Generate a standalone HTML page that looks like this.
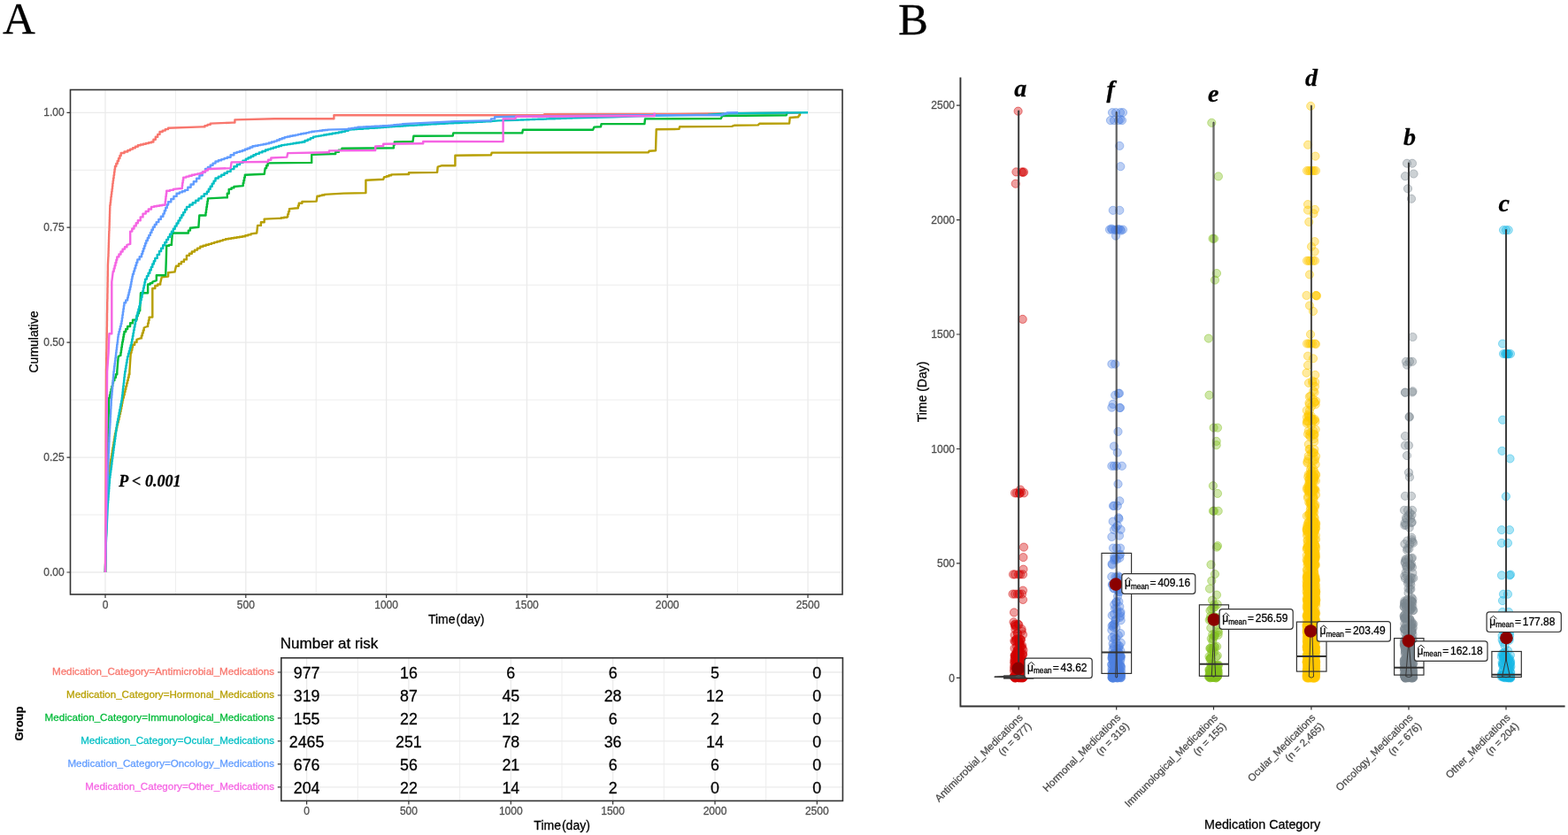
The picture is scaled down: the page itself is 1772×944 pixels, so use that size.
<!DOCTYPE html>
<html><head><meta charset="utf-8"><title>Figure</title>
<style>html,body{margin:0;padding:0;background:#fff;}svg{display:block;font-family:'Liberation Sans', Arial, Helvetica, sans-serif;} text{paint-order:stroke;stroke-width:0.28px;stroke-linejoin:round;}</style></head>
<body><svg width="1772" height="944" viewBox="0 0 1772 944">
<rect width="1772" height="944" fill="#fff"/>
<rect x="79.5" y="101.5" width="872.5" height="570.5" fill="#fff"/>
<path d="M198.4 101.5V672.0M357.2 101.5V672.0M516.0 101.5V672.0M674.8 101.5V672.0M833.6 101.5V672.0M79.5 582.0H952.0M79.5 452.1H952.0M79.5 322.2H952.0M79.5 192.3H952.0" stroke="#ebebeb" stroke-width="0.9" fill="none"/>
<path d="M119.0 101.5V672.0M277.8 101.5V672.0M436.6 101.5V672.0M595.4 101.5V672.0M754.2 101.5V672.0M913.0 101.5V672.0M79.5 647.0H952.0M79.5 517.1H952.0M79.5 387.1H952.0M79.5 257.2H952.0M79.5 127.3H952.0" stroke="#ebebeb" stroke-width="1.3" fill="none"/>
<path d="M119.0 647.0 L119.3 600.0 L119.6 500.0 L120.0 420.0 L120.0 420.0 L120.0 416.8 L120.1 416.8 L120.1 413.7 L120.2 413.7 L120.2 410.5 L120.2 410.5 L120.2 407.4 L120.2 407.4 L120.2 404.2 L120.3 404.2 L120.3 401.1 L120.3 401.1 L120.3 397.9 L120.4 397.9 L120.4 394.7 L120.5 394.7 L120.5 391.6 L120.5 391.6 L120.5 388.4 L120.5 388.4 L120.5 385.3 L120.6 385.3 L120.6 382.1 L120.7 382.1 L120.7 378.9 L120.7 378.9 L120.7 375.8 L120.8 375.8 L120.8 372.6 L120.8 372.6 L120.8 369.5 L120.9 369.5 L120.9 366.3 L120.9 366.3 L120.9 363.2 L121.0 363.2 L121.0 360.0 L121.0 360.0 L121.0 356.8 L121.0 356.8 L121.0 353.7 L121.1 353.7 L121.1 350.5 L121.2 350.5 L121.2 347.4 L121.2 347.4 L121.2 344.2 L121.2 344.2 L121.2 341.1 L121.3 341.1 L121.3 337.9 L121.4 337.9 L121.4 334.7 L121.4 334.7 L121.4 331.6 L121.5 331.6 L121.5 328.4 L121.5 328.4 L121.5 325.3 L121.6 325.3 L121.6 322.1 L121.6 322.1 L121.6 318.9 L121.7 318.9 L121.7 315.8 L121.7 315.8 L121.7 312.6 L121.8 312.6 L121.8 309.5 L121.8 309.5 L121.8 306.3 L121.9 306.3 L121.9 303.2 L121.9 303.2 L121.9 300.0 L122.4 290.0 L122.5 290.0 L122.5 286.8 L122.6 286.8 L122.6 283.6 L122.7 283.6 L122.7 280.3 L122.8 280.3 L122.8 277.1 L122.9 277.1 L122.9 273.9 L123.0 273.9 L123.0 270.7 L123.1 270.7 L123.1 267.4 L123.2 267.4 L123.2 264.2 L123.3 264.2 L123.3 261.0 L123.5 261.0 L123.5 257.8 L123.6 257.8 L123.6 254.6 L123.7 254.6 L123.7 251.3 L123.8 251.3 L123.8 248.1 L123.9 248.1 L123.9 244.9 L124.0 244.9 L124.0 241.7 L124.1 241.7 L124.1 238.4 L124.2 238.4 L124.2 235.2 L124.3 235.2 L124.3 232.0 L124.7 232.0 L124.7 228.9 L125.1 228.9 L125.1 225.9 L125.4 225.9 L125.4 222.8 L125.8 222.8 L125.8 219.8 L126.2 219.8 L126.2 216.8 L126.6 216.8 L126.6 213.7 L127.0 213.7 L127.0 210.7 L127.3 210.7 L127.3 207.6 L127.7 207.6 L127.7 204.6 L128.1 204.6 L128.1 201.5 L128.6 201.5 L128.6 198.1 L129.1 198.1 L129.1 194.8 L129.5 194.8 L129.5 191.4 L130.0 191.4 L130.0 188.0 L131.3 188.0 L131.3 185.0 L132.7 185.0 L132.7 182.0 L134.0 182.0 L134.0 179.0 L135.4 179.0 L135.4 176.0 L136.7 176.0 L136.7 173.0 L140.5 173.0 L140.5 171.5 L144.3 171.5 L144.3 170.0 L147.2 170.0 L147.2 168.6 L150.1 168.6 L150.1 167.2 L152.9 167.2 L152.9 165.7 L155.8 165.7 L155.8 164.3 L158.8 164.3 L158.8 163.5 L161.9 163.5 L161.9 162.8 L164.9 162.8 L164.9 162.0 L168.0 162.0 L168.0 161.3 L171.0 161.3 L171.0 160.5 L173.4 160.5 L173.4 157.7 L175.8 157.7 L175.8 154.8 L178.2 154.8 L178.2 151.9 L180.5 151.9 L180.5 149.0 L183.7 149.0 L183.7 147.6 L186.8 147.6 L186.8 146.1 L190.0 146.1 L190.0 144.7 L228.2 143.4 L231.4 143.4 L231.4 142.1 L234.5 142.1 L234.5 140.9 L237.7 140.9 L237.7 139.6 L262.5 138.6 L265.4 138.6 L265.4 135.4 L310.0 134.2 L374.7 134.2 L377.4 134.2 L377.4 130.3 L614.0 130.3 L615.0 129.3 L760.0 129.0 L820.0 128.3 L905.0 127.5" stroke="#F8766D" stroke-width="2.4" fill="none" stroke-linejoin="round"/>
<path d="M119.0 647.0 L119.5 620.0 L120.0 600.0 L121.0 560.0 L121.2 560.0 L121.2 556.7 L121.4 556.7 L121.4 553.3 L121.7 553.3 L121.7 550.0 L121.9 550.0 L121.9 546.7 L122.1 546.7 L122.1 543.3 L122.3 543.3 L122.3 540.0 L122.6 540.0 L122.6 536.7 L122.8 536.7 L122.8 533.3 L123.0 533.3 L123.0 530.0 L123.7 530.0 L123.7 526.5 L124.5 526.5 L124.5 522.9 L125.2 522.9 L125.2 519.3 L125.9 519.3 L125.9 515.8 L126.4 515.8 L126.4 512.6 L126.9 512.6 L126.9 509.3 L127.4 509.3 L127.4 506.1 L128.0 506.1 L128.0 502.9 L128.5 502.9 L128.5 499.7 L129.0 499.7 L129.0 496.4 L129.5 496.4 L129.5 493.2 L130.0 493.2 L130.0 490.0 L130.8 490.0 L130.8 486.9 L131.5 486.9 L131.5 483.8 L132.2 483.8 L132.2 480.6 L133.0 480.6 L133.0 477.5 L133.8 477.5 L133.8 474.4 L134.5 474.4 L134.5 471.2 L135.2 471.2 L135.2 468.1 L136.0 468.1 L136.0 465.0 L136.6 465.0 L136.6 461.9 L137.2 461.9 L137.2 458.9 L137.8 458.9 L137.8 455.8 L138.4 455.8 L138.4 452.8 L139.0 452.8 L139.0 449.7 L139.8 449.7 L139.8 446.4 L140.7 446.4 L140.7 443.1 L141.5 443.1 L141.5 439.9 L142.3 439.9 L142.3 436.6 L143.2 436.6 L143.2 433.3 L144.0 433.3 L144.0 430.0 L144.8 430.0 L144.8 426.7 L145.6 426.7 L145.6 423.3 L146.4 423.3 L146.4 420.0 L147.8 398.7 L148.5 398.7 L148.5 395.7 L149.3 395.7 L149.3 392.8 L150.0 392.8 L150.0 389.8 L152.2 389.8 L152.2 386.9 L154.5 386.9 L154.5 383.9 L159.0 382.4 L159.9 382.4 L159.9 379.4 L160.8 379.4 L160.8 376.4 L161.8 376.4 L161.8 373.5 L162.7 373.5 L162.7 370.5 L166.4 369.0 L167.1 369.0 L167.1 365.5 L167.9 365.5 L167.9 362.1 L168.6 362.1 L168.6 358.6 L172.3 358.6 L172.3 355.7 L172.3 326.0 L175.3 326.0 L175.3 323.0 L178.2 323.0 L178.2 321.5 L181.2 321.5 L181.2 320.0 L182.7 313.4 L190.1 312.6 L190.1 308.2 L197.5 307.4 L199.0 300.8 L202.0 300.8 L202.0 298.3 L204.9 298.3 L204.9 295.9 L207.9 295.9 L207.9 293.4 L210.9 293.4 L210.9 288.9 L213.9 288.9 L213.9 286.7 L216.8 286.7 L216.8 284.5 L220.0 284.5 L220.0 282.6 L223.1 282.6 L223.1 280.6 L226.3 280.6 L226.3 278.7 L229.5 278.7 L229.5 277.8 L232.7 277.8 L232.7 276.8 L235.9 276.8 L235.9 275.9 L239.0 275.9 L239.0 274.9 L242.2 274.9 L242.2 273.9 L245.4 273.9 L245.4 273.0 L248.6 273.0 L248.6 272.1 L251.7 272.1 L251.7 271.1 L254.9 271.1 L254.9 270.2 L258.1 270.2 L258.1 269.7 L261.3 269.7 L261.3 269.2 L264.4 269.2 L264.4 268.8 L267.6 268.8 L267.6 268.3 L270.8 268.3 L270.8 267.8 L274.0 267.8 L274.0 267.3 L277.2 267.3 L277.2 266.3 L280.3 266.3 L280.3 265.4 L283.5 265.4 L283.5 264.4 L290.2 263.5 L291.1 254.9 L294.9 254.9 L294.9 251.2 L298.7 251.2 L298.7 247.6 L314.4 246.9 L317.7 246.9 L317.7 246.3 L321.0 246.3 L321.0 245.7 L324.3 245.7 L324.3 245.1 L325.2 245.1 L325.2 242.1 L326.1 242.1 L326.1 239.1 L327.0 239.1 L327.0 236.1 L336.0 235.2 L336.9 235.2 L336.9 232.5 L337.8 232.5 L337.8 229.8 L341.4 229.8 L341.4 228.0 L357.6 227.6 L358.5 221.7 L361.2 221.7 L361.2 221.1 L363.9 221.1 L363.9 220.5 L366.6 220.5 L366.6 219.9 L388.2 218.6 L413.4 218.1 L413.4 203.7 L433.2 202.8 L434.1 200.1 L436.8 200.1 L436.8 199.2 L439.5 199.2 L439.5 198.3 L442.2 198.3 L442.2 197.4 L460.2 197.0 L462.0 197.0 L462.0 195.2 L494.1 194.9 L494.7 188.6 L499.5 187.2 L511.7 187.2 L514.4 187.2 L514.4 184.5 L514.4 175.7 L555.0 175.3 L555.7 172.6 L732.9 172.3 L733.5 170.7 L741.0 170.3 L741.7 146.3 L767.4 145.9 L768.1 143.2 L827.0 142.9 L829.7 141.8 L856.8 141.4 L858.2 139.8 L892.0 139.5 L892.7 133.0 L902.2 132.3 L902.9 130.5 L903.8 130.3 L904.3 127.4" stroke="#B79F00" stroke-width="2.4" fill="none" stroke-linejoin="round"/>
<path d="M119.0 647.0 L119.5 620.0 L120.0 600.0 L121.0 560.0 L122.0 500.0 L123.2 449.7 L124.0 449.7 L124.0 446.4 L124.8 446.4 L124.8 443.1 L125.6 443.1 L125.6 439.9 L126.4 439.9 L126.4 436.6 L127.2 436.6 L127.2 433.3 L128.0 433.3 L128.0 430.0 L129.4 430.0 L129.4 426.7 L130.9 426.7 L130.9 423.3 L132.3 423.3 L132.3 420.0 L133.7 403.1 L136.0 401.7 L136.4 401.7 L136.4 398.7 L136.9 398.7 L136.9 395.7 L137.3 395.7 L137.3 392.8 L137.8 392.8 L137.8 389.8 L138.2 389.8 L138.2 386.8 L138.8 386.8 L138.8 383.9 L139.3 383.9 L139.3 380.9 L139.8 380.9 L139.8 377.9 L140.4 377.9 L140.4 375.0 L142.2 375.0 L142.2 372.0 L144.1 372.0 L144.1 369.0 L147.1 369.0 L147.1 365.3 L150.0 365.3 L150.0 361.6 L154.5 361.6 L154.5 357.2 L155.7 357.2 L155.7 354.2 L157.0 354.2 L157.0 351.2 L158.2 351.2 L158.2 348.2 L159.0 331.2 L167.1 331.2 L167.1 321.5 L169.7 321.5 L169.7 320.1 L172.3 320.1 L172.3 318.6 L176.8 317.1 L176.8 311.2 L187.2 311.2 L187.9 290.0 L188.2 277.8 L191.1 277.8 L191.1 276.9 L193.9 276.9 L193.9 275.9 L194.8 263.5 L211.0 263.5 L212.9 263.5 L212.9 260.6 L214.9 260.6 L214.9 257.8 L224.4 256.8 L225.3 243.5 L232.0 243.5 L232.5 243.5 L232.5 240.3 L233.0 240.3 L233.0 237.1 L233.4 237.1 L233.4 233.9 L233.9 233.9 L233.9 230.8 L234.4 230.8 L234.4 227.6 L234.9 227.6 L234.9 224.4 L253.9 223.4 L256.8 223.4 L256.8 218.7 L258.7 218.7 L258.7 213.9 L261.5 213.9 L261.5 212.4 L264.4 212.4 L264.4 211.0 L274.0 210.1 L274.7 210.1 L274.7 207.0 L275.4 207.0 L275.4 203.9 L276.1 203.9 L276.1 200.8 L276.8 200.8 L276.8 197.7 L298.7 196.7 L299.7 190.1 L301.1 190.1 L301.1 187.2 L302.6 187.2 L302.6 184.4 L352.2 183.9 L352.2 174.9 L375.6 174.0 L379.2 174.0 L379.2 171.9 L382.8 171.9 L382.8 169.8 L386.4 169.8 L386.4 167.7 L444.0 167.2 L444.9 167.2 L444.9 163.8 L445.8 163.8 L445.8 160.5 L466.5 160.0 L467.4 153.8 L511.7 153.6 L512.3 150.4 L590.2 150.4 L590.9 146.8 L670.1 146.8 L671.5 143.6 L679.0 143.2 L679.6 140.1 L728.4 140.1 L729.0 134.4 L814.8 134.1 L816.2 131.0 L888.6 130.3 L889.5 127.5 L890.5 127.3" stroke="#00BA38" stroke-width="2.4" fill="none" stroke-linejoin="round"/>
<path d="M119.0 647.0 L119.5 620.0 L120.5 600.0 L121.9 568.7 L122.1 568.7 L122.1 565.5 L122.4 565.5 L122.4 562.3 L122.6 562.3 L122.6 559.1 L122.8 559.1 L122.8 555.9 L123.1 555.9 L123.1 552.8 L123.3 552.8 L123.3 549.6 L123.5 549.6 L123.5 546.4 L123.8 546.4 L123.8 543.2 L124.0 543.2 L124.0 540.0 L124.4 540.0 L124.4 537.0 L124.8 537.0 L124.8 534.0 L125.2 534.0 L125.2 530.9 L125.6 530.9 L125.6 527.9 L126.0 527.9 L126.0 524.9 L126.4 524.9 L126.4 521.8 L126.8 521.8 L126.8 518.8 L127.2 518.8 L127.2 515.8 L127.6 515.8 L127.6 512.5 L128.1 512.5 L128.1 509.3 L128.5 509.3 L128.5 506.0 L128.9 506.0 L128.9 502.8 L129.4 502.8 L129.4 499.5 L129.8 499.5 L129.8 496.3 L130.3 496.3 L130.3 493.0 L130.7 493.0 L130.7 489.8 L131.1 489.8 L131.1 486.5 L131.6 486.5 L131.6 483.3 L132.0 483.3 L132.0 480.0 L132.6 480.0 L132.6 476.6 L133.3 476.6 L133.3 473.3 L133.9 473.3 L133.9 469.9 L134.6 469.9 L134.6 466.5 L135.2 466.5 L135.2 463.2 L135.9 463.2 L135.9 459.8 L136.5 459.8 L136.5 456.4 L137.2 456.4 L137.2 453.1 L137.8 453.1 L137.8 449.7 L138.2 449.7 L138.2 446.4 L138.6 446.4 L138.6 443.1 L138.9 443.1 L138.9 439.8 L139.3 439.8 L139.3 436.5 L139.7 436.5 L139.7 433.2 L140.1 433.2 L140.1 429.9 L140.4 429.9 L140.4 426.6 L140.8 426.6 L140.8 423.3 L141.2 423.3 L141.2 420.0 L141.8 420.0 L141.8 416.6 L142.4 416.6 L142.4 413.2 L142.9 413.2 L142.9 409.9 L143.5 409.9 L143.5 406.5 L144.1 406.5 L144.1 403.1 L145.0 403.1 L145.0 399.8 L145.9 399.8 L145.9 396.6 L146.8 396.6 L146.8 393.3 L147.7 393.3 L147.7 390.1 L148.6 390.1 L148.6 386.8 L149.2 386.8 L149.2 383.4 L149.9 383.4 L149.9 380.0 L150.5 380.0 L150.5 376.6 L151.1 376.6 L151.1 373.2 L151.7 373.2 L151.7 369.8 L152.4 369.8 L152.4 366.4 L153.0 366.4 L153.0 363.0 L153.9 363.0 L153.9 359.6 L154.7 359.6 L154.7 356.2 L155.6 356.2 L155.6 352.8 L156.4 352.8 L156.4 349.5 L157.3 349.5 L157.3 346.1 L158.1 346.1 L158.1 342.7 L159.0 342.7 L159.0 339.3 L159.7 339.3 L159.7 335.9 L160.5 335.9 L160.5 332.5 L161.2 332.5 L161.2 329.1 L162.0 329.1 L162.0 325.8 L162.7 325.8 L162.7 322.4 L163.5 322.4 L163.5 319.0 L164.2 319.0 L164.2 315.6 L165.9 315.6 L165.9 312.1 L167.6 312.1 L167.6 308.7 L169.3 308.7 L169.3 305.2 L170.8 305.2 L170.8 301.9 L172.3 301.9 L172.3 298.5 L173.8 298.5 L173.8 295.2 L175.3 295.2 L175.3 291.9 L177.7 291.9 L177.7 287.9 L180.0 287.9 L180.0 284.0 L182.1 284.0 L182.1 280.7 L184.2 280.7 L184.2 277.3 L186.3 277.3 L186.3 274.0 L188.2 274.0 L188.2 270.9 L190.1 270.9 L190.1 267.9 L192.0 267.9 L192.0 264.8 L193.9 264.8 L193.9 261.8 L195.8 261.8 L195.8 258.7 L197.7 258.7 L197.7 255.6 L199.6 255.6 L199.6 252.5 L201.5 252.5 L201.5 249.4 L203.4 249.4 L203.4 246.3 L205.3 246.3 L205.3 243.2 L207.2 243.2 L207.2 240.1 L209.1 240.1 L209.1 237.0 L211.0 237.0 L211.0 233.9 L214.3 233.9 L214.3 231.5 L217.7 231.5 L217.7 229.2 L221.1 229.2 L221.1 226.8 L224.4 226.8 L224.4 224.4 L227.6 224.4 L227.6 221.9 L230.7 221.9 L230.7 219.3 L233.9 219.3 L233.9 216.8 L235.8 216.8 L235.8 213.7 L237.7 213.7 L237.7 210.7 L239.7 210.7 L239.7 207.6 L241.6 207.6 L241.6 204.6 L243.5 204.6 L243.5 201.5 L246.8 201.5 L246.8 199.6 L250.2 199.6 L250.2 197.7 L253.5 197.7 L253.5 195.8 L256.8 195.8 L256.8 193.9 L260.6 193.9 L260.6 191.1 L264.4 191.1 L264.4 188.2 L267.8 188.2 L267.8 186.0 L271.1 186.0 L271.1 183.9 L274.4 183.9 L274.4 181.8 L277.8 181.8 L277.8 179.6 L280.6 179.6 L280.6 178.2 L283.5 178.2 L283.5 176.8 L286.4 176.8 L286.4 175.3 L289.2 175.3 L289.2 173.9 L292.8 173.9 L292.8 172.4 L296.4 172.4 L296.4 171.0 L300.0 171.0 L300.0 169.5 L303.0 169.5 L303.0 168.6 L306.0 168.6 L306.0 167.7 L309.0 167.7 L309.0 166.8 L312.0 166.8 L312.0 165.9 L315.0 165.9 L315.0 165.0 L318.0 165.0 L318.0 164.1 L321.3 164.1 L321.3 163.6 L324.7 163.6 L324.7 163.1 L328.0 163.1 L328.0 162.6 L331.4 162.6 L331.4 162.0 L334.7 162.0 L334.7 161.5 L338.1 161.5 L338.1 161.0 L341.4 161.0 L341.4 160.5 L344.5 160.5 L344.5 159.0 L347.7 159.0 L347.7 157.6 L350.9 157.6 L350.9 156.1 L354.0 156.1 L354.0 154.6 L357.0 154.6 L357.0 154.1 L360.0 154.1 L360.0 153.6 L363.0 153.6 L363.0 153.1 L366.0 153.1 L366.0 152.5 L369.0 152.5 L369.0 152.0 L372.0 152.0 L372.0 151.5 L375.6 151.5 L375.6 150.8 L379.2 150.8 L379.2 150.2 L382.8 150.2 L382.8 149.5 L386.4 149.5 L386.4 148.8 L390.0 148.8 L390.0 147.7 L393.6 147.7 L393.6 146.6 L396.9 146.6 L396.9 146.4 L400.2 146.4 L400.2 146.1 L403.5 146.1 L403.5 145.9 L406.9 145.9 L406.9 145.7 L410.2 145.7 L410.2 145.4 L413.5 145.4 L413.5 145.2 L416.8 145.2 L416.8 144.9 L420.1 144.9 L420.1 144.7 L423.4 144.7 L423.4 144.5 L426.7 144.5 L426.7 144.2 L430.1 144.2 L430.1 144.0 L433.4 144.0 L433.4 143.8 L436.7 143.8 L436.7 143.5 L440.0 143.5 L440.0 143.3 L443.1 143.3 L443.1 143.1 L446.2 143.1 L446.2 142.9 L449.4 142.9 L449.4 142.7 L452.5 142.7 L452.5 142.5 L455.6 142.5 L455.6 142.3 L458.8 142.3 L458.8 142.1 L461.9 142.1 L461.9 141.9 L465.0 141.9 L465.0 141.8 L468.1 141.8 L468.1 141.6 L471.2 141.6 L471.2 141.4 L474.4 141.4 L474.4 141.2 L477.5 141.2 L477.5 141.0 L480.6 141.0 L480.6 140.8 L483.8 140.8 L483.8 140.6 L486.9 140.6 L486.9 140.4 L490.0 140.4 L490.0 140.2 L493.2 140.2 L493.2 140.0 L496.5 140.0 L496.5 139.9 L499.8 139.9 L499.8 139.7 L503.0 139.7 L503.0 139.6 L506.2 139.6 L506.2 139.4 L509.5 139.4 L509.5 139.3 L512.8 139.3 L512.8 139.1 L516.0 139.1 L516.0 139.0 L519.2 139.0 L519.2 138.8 L522.5 138.8 L522.5 138.6 L525.8 138.6 L525.8 138.5 L529.0 138.5 L529.0 138.3 L532.2 138.3 L532.2 138.2 L535.5 138.2 L535.5 138.0 L538.8 138.0 L538.8 137.9 L542.0 137.9 L542.0 137.7 L545.2 137.7 L545.2 137.6 L548.5 137.6 L548.5 137.4 L551.8 137.4 L551.8 137.3 L555.0 137.3 L555.0 137.1 L563.1 136.4 L582.1 135.7 L585.3 135.7 L585.3 135.6 L588.5 135.6 L588.5 135.5 L591.8 135.5 L591.8 135.4 L595.0 135.4 L595.0 135.2 L598.2 135.2 L598.2 135.1 L601.4 135.1 L601.4 135.0 L604.7 135.0 L604.7 134.9 L607.9 134.9 L607.9 134.8 L611.1 134.8 L611.1 134.7 L614.3 134.7 L614.3 134.6 L617.6 134.6 L617.6 134.4 L620.8 134.4 L620.8 134.3 L624.0 134.3 L624.0 134.2 L627.2 134.2 L627.2 134.1 L630.5 134.1 L630.5 134.0 L633.7 134.0 L633.7 133.9 L636.9 133.9 L636.9 133.8 L640.1 133.8 L640.1 133.6 L643.4 133.6 L643.4 133.5 L646.6 133.5 L646.6 133.4 L649.8 133.4 L649.8 133.3 L693.2 132.3 L720.0 131.2 L800.0 129.6 L823.0 128.3 L860.0 127.8 L913.0 127.3" stroke="#00BFC4" stroke-width="2.4" fill="none" stroke-linejoin="round"/>
<path d="M119.0 647.0 L119.5 620.0 L120.0 600.0 L121.0 560.0 L121.1 560.0 L121.1 556.8 L121.2 556.8 L121.2 553.7 L121.3 553.7 L121.3 550.5 L121.5 550.5 L121.5 547.4 L121.6 547.4 L121.6 544.2 L121.7 544.2 L121.7 541.1 L121.8 541.1 L121.8 537.9 L121.9 537.9 L121.9 534.7 L122.0 534.7 L122.0 531.6 L122.2 531.6 L122.2 528.4 L122.3 528.4 L122.3 525.3 L122.4 525.3 L122.4 522.1 L122.5 522.1 L122.5 518.9 L122.6 518.9 L122.6 515.8 L122.7 515.8 L122.7 512.6 L122.9 512.6 L122.9 509.5 L123.0 509.5 L123.0 506.3 L123.1 506.3 L123.1 503.2 L123.2 503.2 L123.2 500.0 L123.4 500.0 L123.4 496.9 L123.5 496.9 L123.5 493.7 L123.7 493.7 L123.7 490.6 L123.9 490.6 L123.9 487.4 L124.0 487.4 L124.0 484.3 L124.2 484.3 L124.2 481.1 L124.4 481.1 L124.4 478.0 L124.6 478.0 L124.6 474.9 L124.7 474.9 L124.7 471.7 L124.9 471.7 L124.9 468.6 L125.1 468.6 L125.1 465.4 L125.2 465.4 L125.2 462.3 L125.4 462.3 L125.4 459.1 L125.6 459.1 L125.6 456.0 L125.7 456.0 L125.7 452.8 L125.9 452.8 L125.9 449.7 L126.2 449.7 L126.2 446.4 L126.5 446.4 L126.5 443.1 L126.8 443.1 L126.8 439.8 L127.1 439.8 L127.1 436.5 L127.3 436.5 L127.3 433.2 L127.6 433.2 L127.6 429.9 L127.9 429.9 L127.9 426.6 L128.2 426.6 L128.2 423.3 L128.5 423.3 L128.5 420.0 L128.9 420.0 L128.9 417.0 L129.2 417.0 L129.2 413.9 L129.6 413.9 L129.6 410.9 L130.0 410.9 L130.0 407.9 L130.4 407.9 L130.4 404.8 L130.8 404.8 L130.8 401.8 L131.1 401.8 L131.1 398.7 L131.5 398.7 L131.5 395.7 L131.9 395.7 L131.9 392.8 L132.2 392.8 L132.2 389.8 L132.6 389.8 L132.6 386.9 L133.0 386.9 L133.0 383.9 L133.3 383.9 L133.3 380.9 L133.7 380.9 L133.7 378.0 L134.4 378.0 L134.4 375.0 L135.2 375.0 L135.2 372.0 L135.9 372.0 L135.9 369.0 L136.7 369.0 L136.7 366.0 L137.4 366.0 L137.4 363.0 L137.9 363.0 L137.9 359.6 L138.4 359.6 L138.4 356.1 L138.9 356.1 L138.9 352.6 L139.4 352.6 L139.4 349.2 L139.9 349.2 L139.9 345.8 L140.4 345.8 L140.4 342.3 L142.2 342.3 L142.2 339.4 L144.1 339.4 L144.1 336.4 L144.8 336.4 L144.8 333.4 L145.6 333.4 L145.6 330.4 L146.3 330.4 L146.3 327.5 L147.1 327.5 L147.1 324.5 L147.7 324.5 L147.7 321.5 L148.3 321.5 L148.3 318.6 L148.8 318.6 L148.8 315.6 L149.4 315.6 L149.4 312.7 L150.0 312.7 L150.0 309.7 L151.1 309.7 L151.1 306.4 L152.1 306.4 L152.1 303.2 L153.2 303.2 L153.2 299.9 L154.2 299.9 L154.2 296.7 L155.3 296.7 L155.3 293.4 L157.7 293.4 L157.7 290.2 L160.0 290.2 L160.0 287.0 L161.1 287.0 L161.1 284.0 L162.1 284.0 L162.1 281.0 L163.2 281.0 L163.2 278.0 L164.2 278.0 L164.2 275.0 L165.3 275.0 L165.3 272.0 L166.8 272.0 L166.8 269.0 L168.3 269.0 L168.3 265.9 L169.9 265.9 L169.9 262.9 L171.4 262.9 L171.4 259.8 L172.9 259.8 L172.9 256.8 L174.8 256.8 L174.8 253.9 L176.7 253.9 L176.7 251.1 L179.3 251.1 L179.3 247.9 L181.8 247.9 L181.8 244.8 L184.4 244.8 L184.4 241.6 L185.8 241.6 L185.8 238.2 L187.2 238.2 L187.2 234.9 L188.7 234.9 L188.7 231.5 L190.1 231.5 L190.1 228.2 L193.3 228.2 L193.3 225.0 L196.4 225.0 L196.4 221.9 L199.6 221.9 L199.6 218.7 L202.8 218.7 L202.8 217.4 L205.9 217.4 L205.9 216.2 L209.1 216.2 L209.1 214.9 L212.3 214.9 L212.3 211.7 L215.6 211.7 L215.6 208.5 L218.8 208.5 L218.8 205.3 L222.1 205.3 L222.1 201.7 L225.4 201.7 L225.4 198.2 L228.7 198.2 L228.7 194.6 L232.0 194.6 L232.0 191.0 L234.9 191.0 L234.9 188.9 L237.8 188.9 L237.8 186.8 L240.6 186.8 L240.6 184.6 L243.5 184.6 L243.5 182.5 L246.8 182.5 L246.8 181.3 L250.2 181.3 L250.2 180.1 L253.5 180.1 L253.5 178.9 L256.8 178.9 L256.8 177.7 L260.6 177.7 L260.6 175.3 L264.4 175.3 L264.4 172.9 L267.6 172.9 L267.6 171.9 L270.8 171.9 L270.8 171.0 L274.0 171.0 L274.0 170.0 L276.9 170.0 L276.9 168.8 L279.7 168.8 L279.7 167.7 L282.5 167.7 L282.5 166.5 L285.4 166.5 L285.4 165.3 L288.5 165.3 L288.5 164.7 L291.5 164.7 L291.5 164.1 L294.6 164.1 L294.6 163.6 L297.6 163.6 L297.6 163.0 L300.7 163.0 L300.7 162.4 L303.8 162.4 L303.8 161.5 L306.9 161.5 L306.9 160.5 L310.0 160.5 L310.0 159.6 L312.9 159.6 L312.9 158.5 L315.8 158.5 L315.8 157.3 L318.7 157.3 L318.7 156.2 L321.6 156.2 L321.6 155.1 L324.7 155.1 L324.7 154.5 L327.7 154.5 L327.7 153.8 L330.8 153.8 L330.8 153.2 L333.8 153.2 L333.8 152.6 L336.9 152.6 L336.9 151.9 L340.0 151.9 L340.0 151.3 L343.0 151.3 L343.0 150.7 L346.1 150.7 L346.1 150.1 L349.1 150.1 L349.1 149.4 L352.2 149.4 L352.2 148.8 L355.2 148.8 L355.2 148.4 L358.2 148.4 L358.2 148.1 L361.2 148.1 L361.2 147.7 L364.2 147.7 L364.2 147.3 L367.2 147.3 L367.2 147.0 L370.2 147.0 L370.2 146.6 L390.0 146.1 L393.6 146.1 L393.6 145.5 L397.2 145.5 L397.2 144.9 L400.8 144.9 L400.8 144.4 L404.4 144.4 L404.4 143.8 L407.5 143.8 L407.5 143.6 L410.6 143.6 L410.6 143.5 L413.7 143.5 L413.7 143.3 L416.8 143.3 L416.8 143.1 L419.9 143.1 L419.9 143.0 L423.1 143.0 L423.1 142.8 L426.2 142.8 L426.2 142.7 L429.3 142.7 L429.3 142.5 L432.4 142.5 L432.4 142.3 L435.5 142.3 L435.5 142.2 L438.6 142.2 L438.6 142.0 L441.8 142.0 L441.8 141.6 L445.1 141.6 L445.1 141.3 L448.3 141.3 L448.3 140.9 L451.6 140.9 L451.6 140.6 L454.8 140.6 L454.8 140.2 L480.0 138.9 L500.0 138.0 L514.4 137.1 L552.3 136.4 L555.0 136.4 L555.0 134.4 L559.1 134.4 L559.1 132.3 L582.1 131.7 L720.0 130.3 L813.5 130.3 L816.2 130.3 L816.2 129.3 L818.9 129.3 L818.9 128.4 L821.6 128.4 L821.6 127.4 L834.0 127.3" stroke="#619CFF" stroke-width="2.4" fill="none" stroke-linejoin="round"/>
<path d="M119.0 647.0 L119.5 600.0 L120.0 560.0 L121.1 420.0 L122.6 398.7 L123.4 377.2 L126.3 377.2 L126.3 375.0 L126.3 318.6 L127.8 306.7 L128.7 306.7 L128.7 303.4 L129.6 303.4 L129.6 300.2 L130.5 300.2 L130.5 296.9 L131.4 296.9 L131.4 293.7 L132.3 293.7 L132.3 290.4 L134.4 290.4 L134.4 287.5 L136.5 287.5 L136.5 284.5 L138.6 284.5 L138.6 281.6 L141.0 281.6 L141.0 279.2 L143.4 279.2 L143.4 276.8 L147.2 275.9 L147.2 261.6 L149.3 261.6 L149.3 258.5 L151.5 258.5 L151.5 255.4 L153.7 255.4 L153.7 252.3 L155.8 252.3 L155.8 249.2 L158.7 249.2 L158.7 245.4 L161.5 245.4 L161.5 241.6 L164.7 241.6 L164.7 239.0 L167.8 239.0 L167.8 236.5 L171.0 236.5 L171.0 233.9 L174.1 233.9 L174.1 233.3 L177.1 233.3 L177.1 232.8 L180.2 232.8 L180.2 232.2 L183.2 232.2 L183.2 231.7 L186.3 231.7 L186.3 231.1 L186.7 231.1 L186.7 228.0 L187.1 228.0 L187.1 225.0 L187.4 225.0 L187.4 221.9 L187.8 221.9 L187.8 218.9 L188.2 218.9 L188.2 215.8 L192.0 215.8 L192.0 214.9 L195.8 214.9 L195.8 213.9 L205.3 213.0 L205.8 213.0 L205.8 209.9 L206.2 209.9 L206.2 206.8 L206.7 206.8 L206.7 203.7 L207.2 203.7 L207.2 200.6 L210.4 200.6 L210.4 199.6 L213.6 199.6 L213.6 198.7 L216.8 198.7 L216.8 197.7 L220.0 197.7 L220.0 197.1 L223.1 197.1 L223.1 196.4 L226.3 196.4 L226.3 195.8 L229.2 195.8 L229.2 194.2 L232.0 194.2 L232.0 192.6 L234.9 192.6 L234.9 191.0 L260.6 190.1 L261.6 183.4 L300.0 183.0 L303.1 183.0 L303.1 180.8 L306.3 180.8 L306.3 178.5 L324.3 177.6 L325.2 173.1 L370.2 172.2 L372.0 172.2 L372.0 170.4 L424.2 170.0 L424.2 165.4 L433.2 165.0 L433.2 162.7 L476.4 162.3 L478.2 162.3 L478.2 160.0 L568.6 160.1 L568.6 134.4 L582.1 134.4 L583.5 131.7 L739.6 131.0 L739.6 127.5" stroke="#F564E3" stroke-width="2.4" fill="none" stroke-linejoin="round"/>
<rect x="79.5" y="101.5" width="872.5" height="570.5" fill="none" stroke="#333" stroke-width="1.6"/>
<path d="M75.5 647.0H79.5M75.5 517.1H79.5M75.5 387.1H79.5M75.5 257.2H79.5M75.5 127.3H79.5M119.0 672.0V676.0M277.8 672.0V676.0M436.6 672.0V676.0M595.4 672.0V676.0M754.2 672.0V676.0M913.0 672.0V676.0" stroke="#333" stroke-width="1.2" fill="none"/>
<text x="72.7" y="651.1" text-anchor="end" font-size="12" fill="#4d4d4d" stroke="#4d4d4d">0.00</text>
<text x="72.7" y="521.2" text-anchor="end" font-size="12" fill="#4d4d4d" stroke="#4d4d4d">0.25</text>
<text x="72.7" y="391.2" text-anchor="end" font-size="12" fill="#4d4d4d" stroke="#4d4d4d">0.50</text>
<text x="72.7" y="261.3" text-anchor="end" font-size="12" fill="#4d4d4d" stroke="#4d4d4d">0.75</text>
<text x="72.7" y="131.4" text-anchor="end" font-size="12" fill="#4d4d4d" stroke="#4d4d4d">1.00</text>
<text x="119.0" y="687.6" text-anchor="middle" font-size="12" fill="#4d4d4d" stroke="#4d4d4d">0</text>
<text x="277.8" y="687.6" text-anchor="middle" font-size="12" fill="#4d4d4d" stroke="#4d4d4d">500</text>
<text x="436.6" y="687.6" text-anchor="middle" font-size="12" fill="#4d4d4d" stroke="#4d4d4d">1000</text>
<text x="595.4" y="687.6" text-anchor="middle" font-size="12" fill="#4d4d4d" stroke="#4d4d4d">1500</text>
<text x="754.2" y="687.6" text-anchor="middle" font-size="12" fill="#4d4d4d" stroke="#4d4d4d">2000</text>
<text x="913.0" y="687.6" text-anchor="middle" font-size="12" fill="#4d4d4d" stroke="#4d4d4d">2500</text>
<text x="515.7" y="704.6" text-anchor="middle" font-size="14" fill="#000" stroke="#000">Time<tspan dx="1">(day)</tspan></text>
<text transform="translate(42.6,386.5) rotate(-90)" text-anchor="middle" font-size="14" fill="#000" stroke="#000">Cumulative</text>
<text x="134.3" y="550" font-family="'Liberation Serif', 'Times New Roman', serif" font-weight="bold" font-style="italic" font-size="18" stroke="#000">P &lt; 0.001</text>
<text x="316.8" y="733.4" font-size="17" fill="#000" stroke="#000">Number at risk</text>
<rect x="317.8" y="743.8" width="634.5999999999999" height="161.60000000000002" fill="#fff"/>
<path d="M404.3 743.8V905.4M519.6 743.8V905.4M635.0 743.8V905.4M750.3 743.8V905.4M865.6 743.8V905.4" stroke="#ebebeb" stroke-width="0.9" fill="none"/>
<path d="M346.6 743.8V905.4M461.9 743.8V905.4M577.3 743.8V905.4M692.6 743.8V905.4M808.0 743.8V905.4M923.3 743.8V905.4M317.8 760.0H952.4M317.8 786.0H952.4M317.8 811.9H952.4M317.8 837.9H952.4M317.8 863.8H952.4M317.8 889.8H952.4" stroke="#ebebeb" stroke-width="1.3" fill="none"/>
<text x="346.6" y="766.7" text-anchor="middle" font-size="17.8" fill="#000" stroke="#000">977</text>
<text x="461.9" y="766.7" text-anchor="middle" font-size="17.8" fill="#000" stroke="#000">16</text>
<text x="577.3" y="766.7" text-anchor="middle" font-size="17.8" fill="#000" stroke="#000">6</text>
<text x="692.6" y="766.7" text-anchor="middle" font-size="17.8" fill="#000" stroke="#000">6</text>
<text x="808.0" y="766.7" text-anchor="middle" font-size="17.8" fill="#000" stroke="#000">5</text>
<text x="923.3" y="766.7" text-anchor="middle" font-size="17.8" fill="#000" stroke="#000">0</text>
<text x="346.6" y="792.7" text-anchor="middle" font-size="17.8" fill="#000" stroke="#000">319</text>
<text x="461.9" y="792.7" text-anchor="middle" font-size="17.8" fill="#000" stroke="#000">87</text>
<text x="577.3" y="792.7" text-anchor="middle" font-size="17.8" fill="#000" stroke="#000">45</text>
<text x="692.6" y="792.7" text-anchor="middle" font-size="17.8" fill="#000" stroke="#000">28</text>
<text x="808.0" y="792.7" text-anchor="middle" font-size="17.8" fill="#000" stroke="#000">12</text>
<text x="923.3" y="792.7" text-anchor="middle" font-size="17.8" fill="#000" stroke="#000">0</text>
<text x="346.6" y="818.6" text-anchor="middle" font-size="17.8" fill="#000" stroke="#000">155</text>
<text x="461.9" y="818.6" text-anchor="middle" font-size="17.8" fill="#000" stroke="#000">22</text>
<text x="577.3" y="818.6" text-anchor="middle" font-size="17.8" fill="#000" stroke="#000">12</text>
<text x="692.6" y="818.6" text-anchor="middle" font-size="17.8" fill="#000" stroke="#000">6</text>
<text x="808.0" y="818.6" text-anchor="middle" font-size="17.8" fill="#000" stroke="#000">2</text>
<text x="923.3" y="818.6" text-anchor="middle" font-size="17.8" fill="#000" stroke="#000">0</text>
<text x="346.6" y="844.6" text-anchor="middle" font-size="17.8" fill="#000" stroke="#000">2465</text>
<text x="461.9" y="844.6" text-anchor="middle" font-size="17.8" fill="#000" stroke="#000">251</text>
<text x="577.3" y="844.6" text-anchor="middle" font-size="17.8" fill="#000" stroke="#000">78</text>
<text x="692.6" y="844.6" text-anchor="middle" font-size="17.8" fill="#000" stroke="#000">36</text>
<text x="808.0" y="844.6" text-anchor="middle" font-size="17.8" fill="#000" stroke="#000">14</text>
<text x="923.3" y="844.6" text-anchor="middle" font-size="17.8" fill="#000" stroke="#000">0</text>
<text x="346.6" y="870.5" text-anchor="middle" font-size="17.8" fill="#000" stroke="#000">676</text>
<text x="461.9" y="870.5" text-anchor="middle" font-size="17.8" fill="#000" stroke="#000">56</text>
<text x="577.3" y="870.5" text-anchor="middle" font-size="17.8" fill="#000" stroke="#000">21</text>
<text x="692.6" y="870.5" text-anchor="middle" font-size="17.8" fill="#000" stroke="#000">6</text>
<text x="808.0" y="870.5" text-anchor="middle" font-size="17.8" fill="#000" stroke="#000">6</text>
<text x="923.3" y="870.5" text-anchor="middle" font-size="17.8" fill="#000" stroke="#000">0</text>
<text x="346.6" y="896.5" text-anchor="middle" font-size="17.8" fill="#000" stroke="#000">204</text>
<text x="461.9" y="896.5" text-anchor="middle" font-size="17.8" fill="#000" stroke="#000">22</text>
<text x="577.3" y="896.5" text-anchor="middle" font-size="17.8" fill="#000" stroke="#000">14</text>
<text x="692.6" y="896.5" text-anchor="middle" font-size="17.8" fill="#000" stroke="#000">2</text>
<text x="808.0" y="896.5" text-anchor="middle" font-size="17.8" fill="#000" stroke="#000">0</text>
<text x="923.3" y="896.5" text-anchor="middle" font-size="17.8" fill="#000" stroke="#000">0</text>
<rect x="317.8" y="743.8" width="634.5999999999999" height="161.60000000000002" fill="none" stroke="#333" stroke-width="1.6"/>
<path d="M313.8 760.0H317.8M313.8 786.0H317.8M313.8 811.9H317.8M313.8 837.9H317.8M313.8 863.8H317.8M313.8 889.8H317.8M346.6 905.4V909.4M461.9 905.4V909.4M577.3 905.4V909.4M692.6 905.4V909.4M808.0 905.4V909.4M923.3 905.4V909.4" stroke="#333" stroke-width="1.2" fill="none"/>
<text x="346.6" y="921.0" text-anchor="middle" font-size="12" fill="#4d4d4d" stroke="#4d4d4d">0</text>
<text x="461.9" y="921.0" text-anchor="middle" font-size="12" fill="#4d4d4d" stroke="#4d4d4d">500</text>
<text x="577.3" y="921.0" text-anchor="middle" font-size="12" fill="#4d4d4d" stroke="#4d4d4d">1000</text>
<text x="692.6" y="921.0" text-anchor="middle" font-size="12" fill="#4d4d4d" stroke="#4d4d4d">1500</text>
<text x="808.0" y="921.0" text-anchor="middle" font-size="12" fill="#4d4d4d" stroke="#4d4d4d">2000</text>
<text x="923.3" y="921.0" text-anchor="middle" font-size="12" fill="#4d4d4d" stroke="#4d4d4d">2500</text>
<text x="635.1" y="938" text-anchor="middle" font-size="14" fill="#000" stroke="#000">Time<tspan dx="1">(day)</tspan></text>
<text x="310" y="763.2" text-anchor="end" font-size="11.6" fill="#F8766D" stroke="#F8766D">Medication_Category=<tspan>Antimicrobial_Medications</tspan></text>
<text x="310" y="789.2" text-anchor="end" font-size="11.6" fill="#B79F00" stroke="#B79F00">Medication_Category=<tspan>Hormonal_Medications</tspan></text>
<text x="310" y="815.1" text-anchor="end" font-size="11.6" fill="#00BA38" stroke="#00BA38">Medication_Category=<tspan>Immunological_Medications</tspan></text>
<text x="310" y="841.1" text-anchor="end" font-size="11.6" fill="#00BFC4" stroke="#00BFC4">Medication_Category=<tspan>Ocular_Medications</tspan></text>
<text x="310" y="867.0" text-anchor="end" font-size="11.6" fill="#619CFF" stroke="#619CFF">Medication_Category=<tspan>Oncology_Medications</tspan></text>
<text x="310" y="893.0" text-anchor="end" font-size="11.6" fill="#F564E3" stroke="#F564E3">Medication_Category=<tspan>Other_Medications</tspan></text>
<text transform="translate(25.5,818) rotate(-90)" text-anchor="middle" font-size="13" font-weight="bold" fill="#000" stroke="#000">Group</text>
<text x="3" y="38.4" font-family="'Liberation Serif', 'Times New Roman', serif" font-size="51" stroke="#000">A</text>
<text x="1015" y="38.6" font-family="'Liberation Serif', 'Times New Roman', serif" font-size="51" stroke="#000">B</text>
<text x="1079.0" y="770.7" text-anchor="end" font-size="12" fill="#4d4d4d" stroke="#4d4d4d">0</text>
<text x="1079.0" y="641.2" text-anchor="end" font-size="12" fill="#4d4d4d" stroke="#4d4d4d">500</text>
<text x="1079.0" y="511.8" text-anchor="end" font-size="12" fill="#4d4d4d" stroke="#4d4d4d">1000</text>
<text x="1079.0" y="382.3" text-anchor="end" font-size="12" fill="#4d4d4d" stroke="#4d4d4d">1500</text>
<text x="1079.0" y="252.9" text-anchor="end" font-size="12" fill="#4d4d4d" stroke="#4d4d4d">2000</text>
<text x="1079.0" y="123.4" text-anchor="end" font-size="12" fill="#4d4d4d" stroke="#4d4d4d">2500</text>
<path d="M1080.9 766.4H1085.4M1080.9 636.9H1085.4M1080.9 507.5H1085.4M1080.9 378.0H1085.4M1080.9 248.6H1085.4M1080.9 119.1H1085.4M1151.2 798.5V802.5M1261.7 798.5V802.5M1371.5 798.5V802.5M1481.9 798.5V802.5M1592.0 798.5V802.5M1702.0 798.5V802.5" stroke="#333" stroke-width="1.2" fill="none"/>
<text transform="translate(1047.2,443) rotate(-90)" text-anchor="middle" font-size="14" fill="#000" stroke="#000">Time (Day)</text>
<text x="1426.6" y="936.9" text-anchor="middle" font-size="14.3" fill="#000" stroke="#000">Medication Category</text>
<g fill="rgba(210,0,0,0.38)" stroke="rgba(210,0,0,0.45)" stroke-width="1"><circle cx="1150.6" cy="125.7" r="4.6"/><circle cx="1148.4" cy="194.4" r="4.6"/><circle cx="1154.7" cy="194.4" r="4.6"/><circle cx="1157.0" cy="194.4" r="4.6"/><circle cx="1156.0" cy="194.9" r="4.6"/><circle cx="1147.7" cy="207.7" r="4.6"/><circle cx="1155.7" cy="360.9" r="4.6"/><circle cx="1147.0" cy="557.4" r="4.6"/><circle cx="1149.0" cy="557.4" r="4.6"/><circle cx="1152.1" cy="557.4" r="4.6"/><circle cx="1152.1" cy="558.1" r="4.6"/><circle cx="1154.0" cy="556.6" r="4.6"/><circle cx="1157.2" cy="557.4" r="4.6"/><circle cx="1153.0" cy="553.6" r="4.6"/><circle cx="1157.0" cy="618.6" r="4.6"/><circle cx="1156.4" cy="630.1" r="4.6"/><circle cx="1145.0" cy="649.4" r="4.6"/><circle cx="1147.0" cy="649.4" r="4.6"/><circle cx="1151.0" cy="649.4" r="4.6"/><circle cx="1153.0" cy="649.4" r="4.6"/><circle cx="1156.0" cy="649.4" r="4.6"/><circle cx="1156.5" cy="643.6" r="4.6"/><circle cx="1144.5" cy="671.6" r="4.6"/><circle cx="1147.0" cy="671.6" r="4.6"/><circle cx="1150.0" cy="671.6" r="4.6"/><circle cx="1152.0" cy="671.6" r="4.6"/><circle cx="1155.0" cy="671.6" r="4.6"/><circle cx="1156.0" cy="667.6" r="4.6"/><circle cx="1156.0" cy="677.9" r="4.6"/><circle cx="1146.0" cy="692.4" r="4.6"/><circle cx="1145.5" cy="703.3" r="4.6"/><circle cx="1147.0" cy="705.6" r="4.6"/><circle cx="1147.4" cy="711.5" r="4.6"/><circle cx="1146.6" cy="718.0" r="4.6"/><circle cx="1149.7" cy="715.7" r="4.6"/><circle cx="1151.3" cy="706.2" r="4.6"/><circle cx="1150.5" cy="705.7" r="4.6"/><circle cx="1146.8" cy="706.4" r="4.6"/><circle cx="1154.7" cy="713.5" r="4.6"/><circle cx="1148.2" cy="707.5" r="4.6"/><circle cx="1156.0" cy="717.5" r="4.6"/><circle cx="1150.1" cy="716.5" r="4.6"/><circle cx="1146.3" cy="724.5" r="4.6"/><circle cx="1148.9" cy="722.2" r="4.6"/><circle cx="1147.1" cy="707.9" r="4.6"/><circle cx="1154.6" cy="711.2" r="4.6"/><circle cx="1152.1" cy="725.6" r="4.6"/><circle cx="1149.8" cy="734.8" r="4.6"/><circle cx="1146.5" cy="733.0" r="4.6"/><circle cx="1148.0" cy="723.2" r="4.6"/><circle cx="1150.4" cy="735.6" r="4.6"/><circle cx="1152.1" cy="728.3" r="4.6"/><circle cx="1149.0" cy="731.1" r="4.6"/><circle cx="1153.3" cy="737.9" r="4.6"/><circle cx="1152.0" cy="726.9" r="4.6"/><circle cx="1155.3" cy="732.5" r="4.6"/><circle cx="1148.9" cy="736.6" r="4.6"/><circle cx="1147.1" cy="741.6" r="4.6"/><circle cx="1154.0" cy="730.4" r="4.6"/><circle cx="1151.1" cy="725.0" r="4.6"/><circle cx="1153.0" cy="722.8" r="4.6"/><circle cx="1152.0" cy="737.3" r="4.6"/><circle cx="1149.2" cy="739.5" r="4.6"/><circle cx="1152.2" cy="735.9" r="4.6"/><circle cx="1150.7" cy="733.6" r="4.6"/><circle cx="1156.0" cy="738.8" r="4.6"/><circle cx="1153.0" cy="731.5" r="4.6"/><circle cx="1153.4" cy="723.2" r="4.6"/><circle cx="1156.5" cy="734.9" r="4.6"/><circle cx="1148.9" cy="738.4" r="4.6"/><circle cx="1153.0" cy="729.7" r="4.6"/><circle cx="1150.8" cy="722.5" r="4.6"/><circle cx="1147.1" cy="725.4" r="4.6"/><circle cx="1154.1" cy="723.2" r="4.6"/><circle cx="1148.5" cy="724.6" r="4.6"/><circle cx="1155.2" cy="729.8" r="4.6"/><circle cx="1150.7" cy="741.2" r="4.6"/><circle cx="1155.3" cy="748.2" r="4.6"/><circle cx="1155.1" cy="752.3" r="4.6"/><circle cx="1150.3" cy="744.2" r="4.6"/><circle cx="1155.3" cy="745.4" r="4.6"/><circle cx="1147.4" cy="754.4" r="4.6"/><circle cx="1148.3" cy="742.6" r="4.6"/><circle cx="1151.0" cy="743.5" r="4.6"/><circle cx="1148.6" cy="748.8" r="4.6"/><circle cx="1150.3" cy="740.1" r="4.6"/><circle cx="1151.9" cy="745.5" r="4.6"/><circle cx="1153.3" cy="754.3" r="4.6"/><circle cx="1152.5" cy="747.7" r="4.6"/><circle cx="1146.4" cy="750.1" r="4.6"/><circle cx="1154.2" cy="753.5" r="4.6"/><circle cx="1154.4" cy="753.1" r="4.6"/><circle cx="1150.1" cy="745.9" r="4.6"/><circle cx="1152.7" cy="741.6" r="4.6"/><circle cx="1146.5" cy="740.9" r="4.6"/><circle cx="1147.6" cy="743.1" r="4.6"/><circle cx="1146.4" cy="745.1" r="4.6"/><circle cx="1147.4" cy="740.0" r="4.6"/><circle cx="1149.7" cy="741.5" r="4.6"/><circle cx="1155.2" cy="740.4" r="4.6"/><circle cx="1147.4" cy="749.2" r="4.6"/><circle cx="1149.6" cy="743.8" r="4.6"/><circle cx="1147.1" cy="745.5" r="4.6"/><circle cx="1156.5" cy="752.7" r="4.6"/><circle cx="1151.0" cy="747.0" r="4.6"/><circle cx="1146.9" cy="741.3" r="4.6"/><circle cx="1148.7" cy="745.1" r="4.6"/><circle cx="1147.5" cy="752.4" r="4.6"/><circle cx="1156.1" cy="740.3" r="4.6"/><circle cx="1147.4" cy="747.9" r="4.6"/><circle cx="1146.1" cy="748.1" r="4.6"/><circle cx="1156.4" cy="747.9" r="4.6"/><circle cx="1153.3" cy="752.9" r="4.6"/><circle cx="1149.8" cy="743.9" r="4.6"/><circle cx="1154.1" cy="742.5" r="4.6"/><circle cx="1154.2" cy="748.0" r="4.6"/><circle cx="1148.2" cy="756.3" r="4.6"/><circle cx="1156.4" cy="762.5" r="4.6"/><circle cx="1154.5" cy="763.1" r="4.6"/><circle cx="1153.8" cy="762.6" r="4.6"/><circle cx="1151.4" cy="754.9" r="4.6"/><circle cx="1146.1" cy="756.6" r="4.6"/><circle cx="1148.8" cy="752.4" r="4.6"/><circle cx="1153.3" cy="755.4" r="4.6"/><circle cx="1150.6" cy="764.4" r="4.6"/><circle cx="1156.5" cy="764.2" r="4.6"/><circle cx="1149.7" cy="764.4" r="4.6"/><circle cx="1148.2" cy="754.9" r="4.6"/><circle cx="1148.0" cy="754.6" r="4.6"/><circle cx="1155.5" cy="760.1" r="4.6"/><circle cx="1151.0" cy="762.9" r="4.6"/><circle cx="1154.4" cy="760.5" r="4.6"/><circle cx="1152.9" cy="753.1" r="4.6"/><circle cx="1154.2" cy="763.8" r="4.6"/><circle cx="1151.0" cy="761.8" r="4.6"/><circle cx="1154.3" cy="754.3" r="4.6"/><circle cx="1154.4" cy="756.3" r="4.6"/><circle cx="1150.1" cy="764.6" r="4.6"/><circle cx="1156.0" cy="757.2" r="4.6"/><circle cx="1147.6" cy="761.4" r="4.6"/><circle cx="1147.4" cy="753.7" r="4.6"/><circle cx="1154.5" cy="763.8" r="4.6"/><circle cx="1154.7" cy="753.9" r="4.6"/><circle cx="1152.9" cy="764.7" r="4.6"/><circle cx="1151.7" cy="756.6" r="4.6"/><circle cx="1146.0" cy="753.7" r="4.6"/><circle cx="1152.8" cy="764.6" r="4.6"/><circle cx="1155.9" cy="758.8" r="4.6"/><circle cx="1155.2" cy="757.6" r="4.6"/><circle cx="1148.1" cy="762.7" r="4.6"/><circle cx="1149.0" cy="755.3" r="4.6"/><circle cx="1152.1" cy="755.1" r="4.6"/><circle cx="1150.3" cy="755.4" r="4.6"/><circle cx="1155.6" cy="753.7" r="4.6"/><circle cx="1150.7" cy="756.6" r="4.6"/><circle cx="1155.6" cy="759.6" r="4.6"/><circle cx="1155.7" cy="757.5" r="4.6"/><circle cx="1151.5" cy="758.5" r="4.6"/><circle cx="1146.0" cy="758.8" r="4.6"/><circle cx="1147.8" cy="757.7" r="4.6"/><circle cx="1154.4" cy="752.1" r="4.6"/><circle cx="1150.9" cy="754.2" r="4.6"/><circle cx="1151.8" cy="761.4" r="4.6"/><circle cx="1151.4" cy="756.2" r="4.6"/><circle cx="1154.3" cy="759.2" r="4.6"/><circle cx="1151.9" cy="753.4" r="4.6"/><circle cx="1148.8" cy="755.2" r="4.6"/><circle cx="1151.3" cy="762.0" r="4.6"/><circle cx="1154.0" cy="759.3" r="4.6"/><circle cx="1150.6" cy="763.9" r="4.6"/><circle cx="1151.3" cy="760.0" r="4.6"/><circle cx="1153.3" cy="758.7" r="4.6"/><circle cx="1151.6" cy="757.9" r="4.6"/><circle cx="1156.0" cy="758.2" r="4.6"/><circle cx="1155.3" cy="761.1" r="4.6"/><circle cx="1148.6" cy="764.2" r="4.6"/><circle cx="1156.0" cy="765.5" r="4.6"/><circle cx="1147.3" cy="766.2" r="4.6"/><circle cx="1150.6" cy="764.3" r="4.6"/><circle cx="1148.4" cy="764.2" r="4.6"/><circle cx="1153.0" cy="764.2" r="4.6"/><circle cx="1155.5" cy="766.0" r="4.6"/><circle cx="1153.5" cy="764.4" r="4.6"/><circle cx="1147.3" cy="765.7" r="4.6"/><circle cx="1156.2" cy="766.3" r="4.6"/><circle cx="1156.1" cy="764.6" r="4.6"/><circle cx="1151.1" cy="765.0" r="4.6"/><circle cx="1154.8" cy="766.6" r="4.6"/><circle cx="1150.5" cy="764.4" r="4.6"/><circle cx="1149.5" cy="765.3" r="4.6"/><circle cx="1149.2" cy="764.5" r="4.6"/><circle cx="1146.0" cy="765.9" r="4.6"/><circle cx="1150.6" cy="765.4" r="4.6"/><circle cx="1149.4" cy="764.0" r="4.6"/><circle cx="1151.3" cy="765.6" r="4.6"/><circle cx="1156.4" cy="764.2" r="4.6"/><circle cx="1156.3" cy="766.0" r="4.6"/><circle cx="1148.7" cy="764.3" r="4.6"/><circle cx="1154.2" cy="764.1" r="4.6"/><circle cx="1147.2" cy="764.7" r="4.6"/><circle cx="1155.6" cy="765.1" r="4.6"/><circle cx="1148.6" cy="766.1" r="4.6"/><circle cx="1155.7" cy="764.4" r="4.6"/><circle cx="1153.4" cy="765.5" r="4.6"/><circle cx="1146.4" cy="764.2" r="4.6"/><circle cx="1150.4" cy="765.8" r="4.6"/><circle cx="1155.9" cy="764.2" r="4.6"/><circle cx="1154.5" cy="765.6" r="4.6"/><circle cx="1155.0" cy="764.2" r="4.6"/><circle cx="1155.1" cy="764.2" r="4.6"/><circle cx="1149.5" cy="765.2" r="4.6"/><circle cx="1155.8" cy="765.4" r="4.6"/><circle cx="1147.2" cy="764.7" r="4.6"/><circle cx="1148.4" cy="765.4" r="4.6"/><circle cx="1147.5" cy="764.3" r="4.6"/><circle cx="1148.0" cy="764.1" r="4.6"/><circle cx="1149.1" cy="764.8" r="4.6"/><circle cx="1148.9" cy="766.0" r="4.6"/><circle cx="1147.7" cy="765.3" r="4.6"/><circle cx="1146.0" cy="764.9" r="4.6"/><circle cx="1146.0" cy="764.7" r="4.6"/><circle cx="1151.8" cy="765.9" r="4.6"/><circle cx="1150.9" cy="764.5" r="4.6"/><circle cx="1146.9" cy="766.4" r="4.6"/><circle cx="1150.5" cy="766.1" r="4.6"/><circle cx="1154.8" cy="765.3" r="4.6"/><circle cx="1151.3" cy="765.0" r="4.6"/><circle cx="1156.4" cy="765.8" r="4.6"/><circle cx="1154.8" cy="764.9" r="4.6"/><circle cx="1152.7" cy="765.8" r="4.6"/><circle cx="1149.6" cy="765.1" r="4.6"/><circle cx="1147.2" cy="764.1" r="4.6"/><circle cx="1153.8" cy="764.2" r="4.6"/><circle cx="1147.6" cy="764.7" r="4.6"/><circle cx="1154.9" cy="764.2" r="4.6"/><circle cx="1153.0" cy="766.3" r="4.6"/><circle cx="1148.4" cy="764.7" r="4.6"/><circle cx="1150.8" cy="764.8" r="4.6"/><circle cx="1150.6" cy="764.4" r="4.6"/><circle cx="1156.2" cy="764.7" r="4.6"/><circle cx="1151.7" cy="766.5" r="4.6"/><circle cx="1156.2" cy="764.6" r="4.6"/><circle cx="1149.7" cy="764.8" r="4.6"/><circle cx="1149.9" cy="764.0" r="4.6"/><circle cx="1151.2" cy="765.2" r="4.6"/><circle cx="1151.3" cy="764.5" r="4.6"/><circle cx="1148.7" cy="764.0" r="4.6"/><circle cx="1150.1" cy="764.2" r="4.6"/><circle cx="1146.0" cy="764.1" r="4.6"/><circle cx="1148.3" cy="764.8" r="4.6"/><circle cx="1151.5" cy="765.5" r="4.6"/><circle cx="1152.9" cy="766.0" r="4.6"/><circle cx="1155.3" cy="765.9" r="4.6"/><circle cx="1149.3" cy="765.0" r="4.6"/><circle cx="1147.4" cy="766.6" r="4.6"/><circle cx="1152.7" cy="765.9" r="4.6"/></g>
<g fill="rgba(80,130,225,0.38)" stroke="rgba(80,130,225,0.45)" stroke-width="1"><circle cx="1257.0" cy="127.2" r="4.6"/><circle cx="1261.0" cy="127.2" r="4.6"/><circle cx="1266.0" cy="127.2" r="4.6"/><circle cx="1269.0" cy="127.2" r="4.6"/><circle cx="1255.0" cy="136.1" r="4.6"/><circle cx="1259.0" cy="136.1" r="4.6"/><circle cx="1264.0" cy="136.1" r="4.6"/><circle cx="1268.0" cy="136.1" r="4.6"/><circle cx="1266.0" cy="135.1" r="4.6"/><circle cx="1265.3" cy="164.9" r="4.6"/><circle cx="1266.3" cy="188.2" r="4.6"/><circle cx="1257.8" cy="237.8" r="4.6"/><circle cx="1265.3" cy="237.8" r="4.6"/><circle cx="1254.0" cy="259.6" r="4.6"/><circle cx="1257.0" cy="259.6" r="4.6"/><circle cx="1260.0" cy="259.6" r="4.6"/><circle cx="1263.0" cy="259.6" r="4.6"/><circle cx="1266.0" cy="259.6" r="4.6"/><circle cx="1269.0" cy="259.6" r="4.6"/><circle cx="1256.0" cy="258.6" r="4.6"/><circle cx="1267.0" cy="260.6" r="4.6"/><circle cx="1261.0" cy="260.1" r="4.6"/><circle cx="1264.0" cy="259.1" r="4.6"/><circle cx="1261.0" cy="266.6" r="4.6"/><circle cx="1256.4" cy="411.6" r="4.6"/><circle cx="1260.2" cy="411.6" r="4.6"/><circle cx="1264.0" cy="444.7" r="4.6"/><circle cx="1265.0" cy="444.7" r="4.6"/><circle cx="1260.2" cy="446.7" r="4.6"/><circle cx="1257.7" cy="456.9" r="4.6"/><circle cx="1256.4" cy="460.7" r="4.6"/><circle cx="1265.3" cy="461.0" r="4.6"/><circle cx="1266.0" cy="461.0" r="4.6"/><circle cx="1263.5" cy="487.9" r="4.6"/><circle cx="1259.0" cy="504.5" r="4.6"/><circle cx="1262.8" cy="511.6" r="4.6"/><circle cx="1256.4" cy="526.8" r="4.6"/><circle cx="1259.0" cy="526.8" r="4.6"/><circle cx="1262.0" cy="526.8" r="4.6"/><circle cx="1267.9" cy="526.8" r="4.6"/><circle cx="1263.5" cy="547.2" r="4.6"/><circle cx="1265.3" cy="566.3" r="4.6"/><circle cx="1259.0" cy="571.9" r="4.6"/><circle cx="1258.0" cy="571.9" r="4.6"/><circle cx="1262.8" cy="571.9" r="4.6"/><circle cx="1264.0" cy="585.3" r="4.6"/><circle cx="1264.5" cy="586.6" r="4.6"/><circle cx="1257.7" cy="589.6" r="4.6"/><circle cx="1259.0" cy="598.8" r="4.6"/><circle cx="1266.6" cy="598.8" r="4.6"/><circle cx="1262.8" cy="594.2" r="4.6"/><circle cx="1261.0" cy="596.6" r="4.6"/><circle cx="1256.4" cy="606.9" r="4.6"/><circle cx="1258.0" cy="619.6" r="4.6"/><circle cx="1262.0" cy="619.6" r="4.6"/><circle cx="1266.0" cy="619.6" r="4.6"/><circle cx="1265.0" cy="605.6" r="4.6"/><circle cx="1260.0" cy="630.6" r="4.6"/><circle cx="1257.0" cy="638.6" r="4.6"/><circle cx="1266.0" cy="626.6" r="4.6"/><circle cx="1265.3" cy="627.4" r="4.6"/><circle cx="1263.1" cy="674.1" r="4.6"/><circle cx="1265.1" cy="665.4" r="4.6"/><circle cx="1262.0" cy="632.7" r="4.6"/><circle cx="1265.3" cy="652.7" r="4.6"/><circle cx="1265.2" cy="669.3" r="4.6"/><circle cx="1265.9" cy="657.1" r="4.6"/><circle cx="1263.8" cy="662.6" r="4.6"/><circle cx="1256.6" cy="637.6" r="4.6"/><circle cx="1260.2" cy="632.3" r="4.6"/><circle cx="1265.3" cy="630.8" r="4.6"/><circle cx="1263.1" cy="655.7" r="4.6"/><circle cx="1263.7" cy="659.4" r="4.6"/><circle cx="1256.3" cy="651.9" r="4.6"/><circle cx="1264.4" cy="668.9" r="4.6"/><circle cx="1262.1" cy="652.7" r="4.6"/><circle cx="1257.0" cy="661.3" r="4.6"/><circle cx="1259.0" cy="665.5" r="4.6"/><circle cx="1259.2" cy="629.1" r="4.6"/><circle cx="1258.5" cy="665.1" r="4.6"/><circle cx="1266.8" cy="665.7" r="4.6"/><circle cx="1260.4" cy="652.2" r="4.6"/><circle cx="1263.7" cy="651.3" r="4.6"/><circle cx="1263.0" cy="667.2" r="4.6"/><circle cx="1257.1" cy="660.4" r="4.6"/><circle cx="1259.0" cy="633.1" r="4.6"/><circle cx="1259.6" cy="722.4" r="4.6"/><circle cx="1256.4" cy="712.4" r="4.6"/><circle cx="1259.2" cy="683.5" r="4.6"/><circle cx="1263.8" cy="718.3" r="4.6"/><circle cx="1259.4" cy="718.5" r="4.6"/><circle cx="1261.3" cy="709.4" r="4.6"/><circle cx="1257.6" cy="706.6" r="4.6"/><circle cx="1258.5" cy="730.9" r="4.6"/><circle cx="1266.4" cy="735.8" r="4.6"/><circle cx="1261.3" cy="681.0" r="4.6"/><circle cx="1266.8" cy="726.7" r="4.6"/><circle cx="1259.2" cy="705.6" r="4.6"/><circle cx="1266.5" cy="692.0" r="4.6"/><circle cx="1262.6" cy="692.0" r="4.6"/><circle cx="1262.0" cy="688.1" r="4.6"/><circle cx="1257.7" cy="734.3" r="4.6"/><circle cx="1261.8" cy="726.8" r="4.6"/><circle cx="1263.9" cy="730.6" r="4.6"/><circle cx="1266.0" cy="693.2" r="4.6"/><circle cx="1256.6" cy="707.7" r="4.6"/><circle cx="1261.6" cy="680.2" r="4.6"/><circle cx="1259.6" cy="705.7" r="4.6"/><circle cx="1260.0" cy="688.0" r="4.6"/><circle cx="1265.4" cy="698.0" r="4.6"/><circle cx="1264.4" cy="680.1" r="4.6"/><circle cx="1257.6" cy="727.8" r="4.6"/><circle cx="1264.0" cy="732.8" r="4.6"/><circle cx="1259.4" cy="731.4" r="4.6"/><circle cx="1260.5" cy="701.2" r="4.6"/><circle cx="1262.7" cy="736.9" r="4.6"/><circle cx="1260.9" cy="700.6" r="4.6"/><circle cx="1256.8" cy="695.7" r="4.6"/><circle cx="1265.3" cy="685.8" r="4.6"/><circle cx="1266.4" cy="696.3" r="4.6"/><circle cx="1259.2" cy="694.2" r="4.6"/><circle cx="1258.4" cy="709.1" r="4.6"/><circle cx="1266.6" cy="701.3" r="4.6"/><circle cx="1265.1" cy="730.4" r="4.6"/><circle cx="1266.2" cy="716.0" r="4.6"/><circle cx="1262.2" cy="733.6" r="4.6"/><circle cx="1256.8" cy="721.0" r="4.6"/><circle cx="1261.2" cy="721.7" r="4.6"/><circle cx="1263.3" cy="755.1" r="4.6"/><circle cx="1256.8" cy="743.9" r="4.6"/><circle cx="1257.7" cy="759.2" r="4.6"/><circle cx="1260.0" cy="748.3" r="4.6"/><circle cx="1264.3" cy="744.1" r="4.6"/><circle cx="1259.1" cy="760.4" r="4.6"/><circle cx="1259.5" cy="752.7" r="4.6"/><circle cx="1260.6" cy="750.4" r="4.6"/><circle cx="1258.0" cy="741.0" r="4.6"/><circle cx="1266.1" cy="742.0" r="4.6"/><circle cx="1258.7" cy="748.9" r="4.6"/><circle cx="1267.1" cy="758.8" r="4.6"/><circle cx="1257.8" cy="747.8" r="4.6"/><circle cx="1257.3" cy="741.6" r="4.6"/><circle cx="1257.3" cy="745.2" r="4.6"/><circle cx="1259.1" cy="742.7" r="4.6"/><circle cx="1265.9" cy="750.7" r="4.6"/><circle cx="1260.8" cy="755.0" r="4.6"/><circle cx="1262.0" cy="746.9" r="4.6"/><circle cx="1260.0" cy="746.0" r="4.6"/><circle cx="1259.3" cy="738.5" r="4.6"/><circle cx="1257.7" cy="760.2" r="4.6"/><circle cx="1263.1" cy="749.1" r="4.6"/><circle cx="1258.6" cy="757.7" r="4.6"/><circle cx="1259.0" cy="743.5" r="4.6"/><circle cx="1261.1" cy="746.6" r="4.6"/><circle cx="1265.5" cy="759.9" r="4.6"/><circle cx="1256.5" cy="757.9" r="4.6"/><circle cx="1264.0" cy="737.8" r="4.6"/><circle cx="1261.4" cy="758.5" r="4.6"/><circle cx="1256.3" cy="751.1" r="4.6"/><circle cx="1266.3" cy="746.4" r="4.6"/><circle cx="1265.5" cy="756.8" r="4.6"/><circle cx="1259.0" cy="760.3" r="4.6"/><circle cx="1258.0" cy="739.6" r="4.6"/><circle cx="1263.7" cy="749.5" r="4.6"/><circle cx="1264.1" cy="759.6" r="4.6"/><circle cx="1264.6" cy="752.5" r="4.6"/><circle cx="1262.3" cy="748.0" r="4.6"/><circle cx="1264.7" cy="737.9" r="4.6"/><circle cx="1266.2" cy="742.6" r="4.6"/><circle cx="1259.6" cy="752.5" r="4.6"/><circle cx="1259.0" cy="740.1" r="4.6"/><circle cx="1263.8" cy="752.3" r="4.6"/><circle cx="1257.1" cy="739.7" r="4.6"/><circle cx="1262.6" cy="749.6" r="4.6"/><circle cx="1258.7" cy="746.3" r="4.6"/><circle cx="1256.4" cy="751.4" r="4.6"/><circle cx="1261.3" cy="744.2" r="4.6"/><circle cx="1263.3" cy="760.0" r="4.6"/><circle cx="1261.4" cy="758.2" r="4.6"/><circle cx="1259.0" cy="742.6" r="4.6"/><circle cx="1263.9" cy="760.1" r="4.6"/><circle cx="1256.5" cy="744.4" r="4.6"/><circle cx="1263.6" cy="749.0" r="4.6"/><circle cx="1259.1" cy="747.1" r="4.6"/><circle cx="1266.3" cy="753.0" r="4.6"/><circle cx="1256.7" cy="742.4" r="4.6"/><circle cx="1260.8" cy="745.1" r="4.6"/><circle cx="1258.4" cy="753.4" r="4.6"/><circle cx="1264.3" cy="756.1" r="4.6"/><circle cx="1258.5" cy="749.1" r="4.6"/><circle cx="1259.7" cy="760.3" r="4.6"/><circle cx="1258.8" cy="756.7" r="4.6"/><circle cx="1264.5" cy="742.3" r="4.6"/><circle cx="1266.6" cy="744.1" r="4.6"/><circle cx="1258.3" cy="748.9" r="4.6"/><circle cx="1260.8" cy="742.4" r="4.6"/><circle cx="1266.5" cy="753.0" r="4.6"/><circle cx="1260.5" cy="740.5" r="4.6"/><circle cx="1266.8" cy="742.1" r="4.6"/><circle cx="1256.9" cy="740.4" r="4.6"/><circle cx="1260.5" cy="738.4" r="4.6"/><circle cx="1265.8" cy="758.6" r="4.6"/><circle cx="1267.1" cy="754.6" r="4.6"/><circle cx="1259.9" cy="759.4" r="4.6"/><circle cx="1266.4" cy="741.5" r="4.6"/><circle cx="1256.6" cy="754.9" r="4.6"/><circle cx="1260.4" cy="752.9" r="4.6"/><circle cx="1259.9" cy="746.0" r="4.6"/><circle cx="1256.3" cy="761.9" r="4.6"/><circle cx="1260.1" cy="762.6" r="4.6"/><circle cx="1257.6" cy="766.4" r="4.6"/><circle cx="1258.5" cy="766.4" r="4.6"/><circle cx="1265.2" cy="763.0" r="4.6"/><circle cx="1261.0" cy="765.6" r="4.6"/><circle cx="1261.4" cy="761.3" r="4.6"/><circle cx="1266.2" cy="763.1" r="4.6"/><circle cx="1260.2" cy="762.1" r="4.6"/><circle cx="1256.6" cy="766.0" r="4.6"/><circle cx="1265.1" cy="763.3" r="4.6"/><circle cx="1256.7" cy="765.3" r="4.6"/><circle cx="1257.0" cy="761.2" r="4.6"/><circle cx="1259.1" cy="766.2" r="4.6"/><circle cx="1266.0" cy="765.2" r="4.6"/><circle cx="1259.2" cy="762.9" r="4.6"/><circle cx="1263.0" cy="766.4" r="4.6"/><circle cx="1264.0" cy="762.5" r="4.6"/><circle cx="1259.3" cy="762.8" r="4.6"/><circle cx="1264.5" cy="761.0" r="4.6"/><circle cx="1263.1" cy="766.1" r="4.6"/><circle cx="1256.6" cy="766.3" r="4.6"/><circle cx="1261.4" cy="762.3" r="4.6"/><circle cx="1266.6" cy="766.4" r="4.6"/><circle cx="1259.0" cy="763.2" r="4.6"/><circle cx="1261.6" cy="763.4" r="4.6"/><circle cx="1258.3" cy="766.2" r="4.6"/><circle cx="1264.3" cy="765.5" r="4.6"/><circle cx="1264.6" cy="765.6" r="4.6"/><circle cx="1259.8" cy="764.4" r="4.6"/><circle cx="1260.2" cy="762.8" r="4.6"/><circle cx="1257.2" cy="765.4" r="4.6"/><circle cx="1264.4" cy="762.1" r="4.6"/><circle cx="1257.0" cy="762.4" r="4.6"/><circle cx="1262.3" cy="761.2" r="4.6"/><circle cx="1266.9" cy="762.8" r="4.6"/><circle cx="1267.0" cy="765.9" r="4.6"/><circle cx="1257.2" cy="762.5" r="4.6"/><circle cx="1261.7" cy="761.5" r="4.6"/><circle cx="1261.1" cy="765.0" r="4.6"/><circle cx="1260.8" cy="762.3" r="4.6"/><circle cx="1263.6" cy="764.5" r="4.6"/><circle cx="1265.4" cy="765.2" r="4.6"/><circle cx="1257.6" cy="764.7" r="4.6"/><circle cx="1259.5" cy="765.7" r="4.6"/><circle cx="1260.3" cy="764.2" r="4.6"/><circle cx="1258.5" cy="765.1" r="4.6"/><circle cx="1258.9" cy="762.4" r="4.6"/><circle cx="1265.8" cy="761.9" r="4.6"/><circle cx="1259.8" cy="764.2" r="4.6"/><circle cx="1267.0" cy="763.2" r="4.6"/><circle cx="1258.8" cy="763.8" r="4.6"/><circle cx="1263.4" cy="765.5" r="4.6"/><circle cx="1257.4" cy="766.5" r="4.6"/><circle cx="1265.1" cy="763.7" r="4.6"/><circle cx="1266.2" cy="765.7" r="4.6"/><circle cx="1259.5" cy="761.2" r="4.6"/><circle cx="1258.3" cy="761.7" r="4.6"/><circle cx="1262.6" cy="766.4" r="4.6"/><circle cx="1260.3" cy="766.2" r="4.6"/><circle cx="1261.2" cy="765.9" r="4.6"/><circle cx="1264.7" cy="762.5" r="4.6"/><circle cx="1257.4" cy="766.3" r="4.6"/><circle cx="1263.0" cy="764.3" r="4.6"/><circle cx="1260.3" cy="762.2" r="4.6"/><circle cx="1258.5" cy="761.8" r="4.6"/><circle cx="1262.8" cy="762.4" r="4.6"/><circle cx="1258.5" cy="764.6" r="4.6"/><circle cx="1259.8" cy="761.1" r="4.6"/><circle cx="1258.3" cy="764.8" r="4.6"/><circle cx="1258.5" cy="762.7" r="4.6"/><circle cx="1262.2" cy="765.5" r="4.6"/><circle cx="1257.4" cy="761.4" r="4.6"/><circle cx="1262.2" cy="763.2" r="4.6"/><circle cx="1257.3" cy="764.6" r="4.6"/><circle cx="1263.8" cy="761.9" r="4.6"/><circle cx="1259.4" cy="763.3" r="4.6"/><circle cx="1266.6" cy="762.7" r="4.6"/><circle cx="1262.4" cy="762.7" r="4.6"/><circle cx="1260.8" cy="763.0" r="4.6"/></g>
<g fill="rgba(130,192,30,0.38)" stroke="rgba(130,192,30,0.45)" stroke-width="1"><circle cx="1369.3" cy="138.8" r="4.6"/><circle cx="1376.9" cy="199.4" r="4.6"/><circle cx="1370.5" cy="269.8" r="4.6"/><circle cx="1372.0" cy="269.8" r="4.6"/><circle cx="1375.0" cy="309.0" r="4.6"/><circle cx="1373.0" cy="316.6" r="4.6"/><circle cx="1365.8" cy="382.6" r="4.6"/><circle cx="1366.5" cy="446.7" r="4.6"/><circle cx="1371.6" cy="483.6" r="4.6"/><circle cx="1376.0" cy="483.6" r="4.6"/><circle cx="1374.7" cy="498.9" r="4.6"/><circle cx="1374.7" cy="503.2" r="4.6"/><circle cx="1370.9" cy="549.2" r="4.6"/><circle cx="1376.0" cy="557.9" r="4.6"/><circle cx="1370.9" cy="577.7" r="4.6"/><circle cx="1372.0" cy="577.7" r="4.6"/><circle cx="1376.7" cy="577.7" r="4.6"/><circle cx="1376.0" cy="617.1" r="4.6"/><circle cx="1375.0" cy="618.6" r="4.6"/><circle cx="1368.5" cy="638.3" r="4.6"/><circle cx="1373.0" cy="649.0" r="4.6"/><circle cx="1369.3" cy="656.6" r="4.6"/><circle cx="1367.0" cy="665.6" r="4.6"/><circle cx="1375.0" cy="672.6" r="4.6"/><circle cx="1370.0" cy="678.6" r="4.6"/><circle cx="1376.9" cy="715.0" r="4.6"/><circle cx="1368.2" cy="696.5" r="4.6"/><circle cx="1368.3" cy="709.9" r="4.6"/><circle cx="1375.8" cy="683.2" r="4.6"/><circle cx="1375.0" cy="698.7" r="4.6"/><circle cx="1375.6" cy="698.0" r="4.6"/><circle cx="1367.9" cy="700.1" r="4.6"/><circle cx="1372.1" cy="683.5" r="4.6"/><circle cx="1375.9" cy="706.7" r="4.6"/><circle cx="1372.8" cy="686.3" r="4.6"/><circle cx="1371.5" cy="696.7" r="4.6"/><circle cx="1369.2" cy="688.4" r="4.6"/><circle cx="1376.1" cy="702.3" r="4.6"/><circle cx="1371.4" cy="687.0" r="4.6"/><circle cx="1376.5" cy="712.8" r="4.6"/><circle cx="1367.5" cy="690.3" r="4.6"/><circle cx="1376.6" cy="717.9" r="4.6"/><circle cx="1366.7" cy="700.9" r="4.6"/><circle cx="1370.3" cy="717.3" r="4.6"/><circle cx="1372.8" cy="716.5" r="4.6"/><circle cx="1367.8" cy="744.4" r="4.6"/><circle cx="1368.5" cy="743.1" r="4.6"/><circle cx="1375.2" cy="730.9" r="4.6"/><circle cx="1368.1" cy="744.5" r="4.6"/><circle cx="1370.4" cy="725.0" r="4.6"/><circle cx="1370.2" cy="734.6" r="4.6"/><circle cx="1368.8" cy="721.9" r="4.6"/><circle cx="1375.8" cy="741.2" r="4.6"/><circle cx="1372.2" cy="719.3" r="4.6"/><circle cx="1366.5" cy="742.2" r="4.6"/><circle cx="1367.4" cy="744.8" r="4.6"/><circle cx="1372.0" cy="737.2" r="4.6"/><circle cx="1369.4" cy="738.1" r="4.6"/><circle cx="1372.4" cy="731.4" r="4.6"/><circle cx="1373.2" cy="731.6" r="4.6"/><circle cx="1370.8" cy="732.3" r="4.6"/><circle cx="1372.8" cy="718.7" r="4.6"/><circle cx="1368.6" cy="733.7" r="4.6"/><circle cx="1374.5" cy="742.4" r="4.6"/><circle cx="1368.0" cy="732.7" r="4.6"/><circle cx="1367.3" cy="733.1" r="4.6"/><circle cx="1370.8" cy="722.1" r="4.6"/><circle cx="1370.9" cy="751.3" r="4.6"/><circle cx="1366.5" cy="757.1" r="4.6"/><circle cx="1367.0" cy="758.9" r="4.6"/><circle cx="1374.5" cy="760.3" r="4.6"/><circle cx="1366.7" cy="757.2" r="4.6"/><circle cx="1370.2" cy="757.1" r="4.6"/><circle cx="1367.6" cy="763.3" r="4.6"/><circle cx="1376.9" cy="762.0" r="4.6"/><circle cx="1374.9" cy="760.2" r="4.6"/><circle cx="1376.7" cy="752.7" r="4.6"/><circle cx="1376.4" cy="756.9" r="4.6"/><circle cx="1367.9" cy="762.8" r="4.6"/><circle cx="1376.2" cy="761.0" r="4.6"/><circle cx="1369.9" cy="750.9" r="4.6"/><circle cx="1367.8" cy="760.6" r="4.6"/><circle cx="1369.1" cy="762.6" r="4.6"/><circle cx="1367.7" cy="761.4" r="4.6"/><circle cx="1376.0" cy="757.0" r="4.6"/><circle cx="1368.9" cy="752.9" r="4.6"/><circle cx="1369.5" cy="757.1" r="4.6"/><circle cx="1368.1" cy="750.5" r="4.6"/><circle cx="1376.2" cy="752.3" r="4.6"/><circle cx="1375.8" cy="759.5" r="4.6"/><circle cx="1374.6" cy="752.4" r="4.6"/><circle cx="1371.8" cy="751.6" r="4.6"/><circle cx="1370.0" cy="758.9" r="4.6"/><circle cx="1372.1" cy="762.2" r="4.6"/><circle cx="1375.6" cy="758.1" r="4.6"/><circle cx="1376.8" cy="751.5" r="4.6"/><circle cx="1370.4" cy="758.8" r="4.6"/><circle cx="1369.0" cy="761.2" r="4.6"/><circle cx="1372.3" cy="763.9" r="4.6"/><circle cx="1374.4" cy="755.0" r="4.6"/><circle cx="1368.0" cy="756.2" r="4.6"/><circle cx="1366.6" cy="760.4" r="4.6"/><circle cx="1368.8" cy="761.5" r="4.6"/><circle cx="1376.7" cy="758.9" r="4.6"/><circle cx="1373.3" cy="758.2" r="4.6"/><circle cx="1366.1" cy="764.8" r="4.6"/><circle cx="1367.7" cy="764.1" r="4.6"/><circle cx="1370.8" cy="765.6" r="4.6"/><circle cx="1375.8" cy="765.3" r="4.6"/><circle cx="1368.6" cy="764.3" r="4.6"/><circle cx="1366.3" cy="765.7" r="4.6"/><circle cx="1369.9" cy="764.0" r="4.6"/><circle cx="1370.0" cy="764.3" r="4.6"/><circle cx="1372.4" cy="764.6" r="4.6"/><circle cx="1368.3" cy="765.5" r="4.6"/><circle cx="1371.2" cy="765.6" r="4.6"/><circle cx="1376.2" cy="764.4" r="4.6"/><circle cx="1367.7" cy="764.6" r="4.6"/><circle cx="1373.0" cy="764.2" r="4.6"/><circle cx="1374.5" cy="766.3" r="4.6"/><circle cx="1369.0" cy="765.0" r="4.6"/><circle cx="1373.1" cy="764.0" r="4.6"/><circle cx="1369.9" cy="765.5" r="4.6"/><circle cx="1370.9" cy="765.7" r="4.6"/><circle cx="1374.0" cy="766.4" r="4.6"/><circle cx="1375.9" cy="764.6" r="4.6"/><circle cx="1371.8" cy="764.1" r="4.6"/><circle cx="1368.7" cy="765.1" r="4.6"/><circle cx="1374.5" cy="764.2" r="4.6"/><circle cx="1372.0" cy="764.0" r="4.6"/><circle cx="1367.6" cy="766.4" r="4.6"/><circle cx="1372.7" cy="764.5" r="4.6"/><circle cx="1373.0" cy="765.3" r="4.6"/><circle cx="1368.0" cy="766.1" r="4.6"/><circle cx="1369.3" cy="764.8" r="4.6"/><circle cx="1375.7" cy="764.1" r="4.6"/><circle cx="1373.8" cy="766.0" r="4.6"/><circle cx="1375.2" cy="764.0" r="4.6"/><circle cx="1371.1" cy="765.9" r="4.6"/><circle cx="1371.0" cy="765.9" r="4.6"/><circle cx="1367.2" cy="764.6" r="4.6"/><circle cx="1366.5" cy="764.6" r="4.6"/><circle cx="1374.2" cy="764.9" r="4.6"/></g>
<g fill="rgba(255,200,0,0.38)" stroke="rgba(255,200,0,0.45)" stroke-width="1"><circle cx="1481.2" cy="119.9" r="4.6"/><circle cx="1478.1" cy="163.7" r="4.6"/><circle cx="1486.5" cy="176.6" r="4.6"/><circle cx="1477.0" cy="193.0" r="4.6"/><circle cx="1479.0" cy="193.0" r="4.6"/><circle cx="1481.0" cy="193.0" r="4.6"/><circle cx="1483.0" cy="193.0" r="4.6"/><circle cx="1485.0" cy="193.0" r="4.6"/><circle cx="1487.0" cy="193.0" r="4.6"/><circle cx="1478.0" cy="231.1" r="4.6"/><circle cx="1478.0" cy="237.6" r="4.6"/><circle cx="1486.0" cy="236.9" r="4.6"/><circle cx="1484.5" cy="241.4" r="4.6"/><circle cx="1479.3" cy="250.9" r="4.6"/><circle cx="1485.7" cy="273.1" r="4.6"/><circle cx="1482.0" cy="278.8" r="4.6"/><circle cx="1485.7" cy="284.5" r="4.6"/><circle cx="1477.0" cy="294.8" r="4.6"/><circle cx="1479.0" cy="294.8" r="4.6"/><circle cx="1481.0" cy="294.8" r="4.6"/><circle cx="1486.0" cy="294.8" r="4.6"/><circle cx="1484.0" cy="294.8" r="4.6"/><circle cx="1480.0" cy="310.4" r="4.6"/><circle cx="1476.5" cy="334.0" r="4.6"/><circle cx="1487.5" cy="334.0" r="4.6"/><circle cx="1487.0" cy="334.0" r="4.6"/><circle cx="1488.0" cy="334.6" r="4.6"/><circle cx="1480.0" cy="345.5" r="4.6"/><circle cx="1484.0" cy="351.9" r="4.6"/><circle cx="1481.0" cy="377.9" r="4.6"/><circle cx="1477.0" cy="388.5" r="4.6"/><circle cx="1479.0" cy="388.5" r="4.6"/><circle cx="1481.0" cy="388.5" r="4.6"/><circle cx="1483.0" cy="388.5" r="4.6"/><circle cx="1486.0" cy="388.5" r="4.6"/><circle cx="1487.0" cy="389.1" r="4.6"/><circle cx="1478.0" cy="402.6" r="4.6"/><circle cx="1484.0" cy="405.3" r="4.6"/><circle cx="1478.0" cy="412.9" r="4.6"/><circle cx="1476.5" cy="421.6" r="4.6"/><circle cx="1486.0" cy="436.9" r="4.6"/><circle cx="1485.6" cy="454.8" r="4.6"/><circle cx="1479.4" cy="455.6" r="4.6"/><circle cx="1481.2" cy="447.7" r="4.6"/><circle cx="1482.2" cy="459.4" r="4.6"/><circle cx="1483.4" cy="433.3" r="4.6"/><circle cx="1478.8" cy="468.3" r="4.6"/><circle cx="1476.7" cy="464.0" r="4.6"/><circle cx="1479.0" cy="433.0" r="4.6"/><circle cx="1486.7" cy="457.2" r="4.6"/><circle cx="1480.0" cy="457.3" r="4.6"/><circle cx="1480.0" cy="464.0" r="4.6"/><circle cx="1486.3" cy="432.0" r="4.6"/><circle cx="1484.0" cy="451.5" r="4.6"/><circle cx="1487.1" cy="453.3" r="4.6"/><circle cx="1485.6" cy="443.5" r="4.6"/><circle cx="1485.8" cy="454.9" r="4.6"/><circle cx="1484.3" cy="441.9" r="4.6"/><circle cx="1479.8" cy="448.5" r="4.6"/><circle cx="1483.2" cy="430.6" r="4.6"/><circle cx="1486.3" cy="423.9" r="4.6"/><circle cx="1476.8" cy="478.7" r="4.6"/><circle cx="1486.5" cy="476.4" r="4.6"/><circle cx="1478.0" cy="490.7" r="4.6"/><circle cx="1476.9" cy="471.7" r="4.6"/><circle cx="1483.3" cy="511.6" r="4.6"/><circle cx="1484.5" cy="511.8" r="4.6"/><circle cx="1482.9" cy="473.9" r="4.6"/><circle cx="1485.3" cy="491.8" r="4.6"/><circle cx="1486.1" cy="519.2" r="4.6"/><circle cx="1485.9" cy="474.0" r="4.6"/><circle cx="1486.7" cy="524.9" r="4.6"/><circle cx="1478.7" cy="476.4" r="4.6"/><circle cx="1476.9" cy="476.7" r="4.6"/><circle cx="1485.3" cy="520.9" r="4.6"/><circle cx="1485.4" cy="508.1" r="4.6"/><circle cx="1479.6" cy="507.9" r="4.6"/><circle cx="1477.6" cy="476.0" r="4.6"/><circle cx="1478.7" cy="515.4" r="4.6"/><circle cx="1481.1" cy="489.1" r="4.6"/><circle cx="1479.3" cy="471.3" r="4.6"/><circle cx="1484.2" cy="487.0" r="4.6"/><circle cx="1480.0" cy="492.1" r="4.6"/><circle cx="1481.9" cy="527.8" r="4.6"/><circle cx="1483.2" cy="521.1" r="4.6"/><circle cx="1481.0" cy="471.9" r="4.6"/><circle cx="1484.8" cy="496.2" r="4.6"/><circle cx="1484.1" cy="490.8" r="4.6"/><circle cx="1478.8" cy="502.3" r="4.6"/><circle cx="1477.5" cy="521.7" r="4.6"/><circle cx="1478.3" cy="519.2" r="4.6"/><circle cx="1478.7" cy="470.1" r="4.6"/><circle cx="1487.1" cy="515.7" r="4.6"/><circle cx="1481.8" cy="470.3" r="4.6"/><circle cx="1485.1" cy="499.5" r="4.6"/><circle cx="1481.8" cy="481.1" r="4.6"/><circle cx="1485.5" cy="490.8" r="4.6"/><circle cx="1486.7" cy="485.6" r="4.6"/><circle cx="1478.8" cy="487.0" r="4.6"/><circle cx="1481.9" cy="512.0" r="4.6"/><circle cx="1483.4" cy="476.6" r="4.6"/><circle cx="1485.0" cy="474.9" r="4.6"/><circle cx="1485.0" cy="511.8" r="4.6"/><circle cx="1480.3" cy="507.7" r="4.6"/><circle cx="1480.8" cy="494.1" r="4.6"/><circle cx="1477.4" cy="523.4" r="4.6"/><circle cx="1476.8" cy="583.3" r="4.6"/><circle cx="1479.3" cy="542.4" r="4.6"/><circle cx="1481.9" cy="584.1" r="4.6"/><circle cx="1486.0" cy="552.8" r="4.6"/><circle cx="1481.5" cy="544.0" r="4.6"/><circle cx="1484.6" cy="561.9" r="4.6"/><circle cx="1483.5" cy="575.2" r="4.6"/><circle cx="1480.0" cy="550.9" r="4.6"/><circle cx="1485.6" cy="539.3" r="4.6"/><circle cx="1484.5" cy="569.7" r="4.6"/><circle cx="1481.2" cy="540.2" r="4.6"/><circle cx="1482.8" cy="576.4" r="4.6"/><circle cx="1481.5" cy="537.6" r="4.6"/><circle cx="1479.1" cy="583.1" r="4.6"/><circle cx="1479.8" cy="541.5" r="4.6"/><circle cx="1485.6" cy="572.2" r="4.6"/><circle cx="1478.2" cy="539.3" r="4.6"/><circle cx="1480.0" cy="544.9" r="4.6"/><circle cx="1478.2" cy="561.3" r="4.6"/><circle cx="1478.5" cy="549.7" r="4.6"/><circle cx="1484.4" cy="588.5" r="4.6"/><circle cx="1486.9" cy="536.1" r="4.6"/><circle cx="1480.6" cy="536.1" r="4.6"/><circle cx="1485.1" cy="589.0" r="4.6"/><circle cx="1481.2" cy="574.0" r="4.6"/><circle cx="1483.4" cy="541.8" r="4.6"/><circle cx="1478.7" cy="536.4" r="4.6"/><circle cx="1476.9" cy="553.3" r="4.6"/><circle cx="1485.0" cy="553.9" r="4.6"/><circle cx="1481.9" cy="571.6" r="4.6"/><circle cx="1481.5" cy="567.9" r="4.6"/><circle cx="1483.0" cy="538.5" r="4.6"/><circle cx="1484.5" cy="554.3" r="4.6"/><circle cx="1481.1" cy="584.5" r="4.6"/><circle cx="1484.6" cy="564.4" r="4.6"/><circle cx="1479.0" cy="555.3" r="4.6"/><circle cx="1486.0" cy="573.3" r="4.6"/><circle cx="1484.1" cy="576.4" r="4.6"/><circle cx="1483.8" cy="581.1" r="4.6"/><circle cx="1481.4" cy="568.5" r="4.6"/><circle cx="1483.3" cy="548.8" r="4.6"/><circle cx="1481.0" cy="535.9" r="4.6"/><circle cx="1484.2" cy="576.9" r="4.6"/><circle cx="1479.2" cy="567.8" r="4.6"/><circle cx="1481.4" cy="555.4" r="4.6"/><circle cx="1480.9" cy="567.3" r="4.6"/><circle cx="1486.5" cy="570.5" r="4.6"/><circle cx="1483.6" cy="541.0" r="4.6"/><circle cx="1480.7" cy="576.7" r="4.6"/><circle cx="1487.0" cy="559.4" r="4.6"/><circle cx="1482.4" cy="532.3" r="4.6"/><circle cx="1484.9" cy="539.7" r="4.6"/><circle cx="1482.1" cy="586.4" r="4.6"/><circle cx="1482.7" cy="536.1" r="4.6"/><circle cx="1484.2" cy="562.5" r="4.6"/><circle cx="1483.4" cy="560.7" r="4.6"/><circle cx="1482.1" cy="579.7" r="4.6"/><circle cx="1486.7" cy="554.6" r="4.6"/><circle cx="1483.9" cy="542.6" r="4.6"/><circle cx="1484.7" cy="553.5" r="4.6"/><circle cx="1487.1" cy="537.3" r="4.6"/><circle cx="1477.1" cy="551.3" r="4.6"/><circle cx="1480.8" cy="546.5" r="4.6"/><circle cx="1481.0" cy="530.8" r="4.6"/><circle cx="1484.0" cy="555.2" r="4.6"/><circle cx="1479.4" cy="551.1" r="4.6"/><circle cx="1484.5" cy="543.5" r="4.6"/><circle cx="1482.2" cy="586.4" r="4.6"/><circle cx="1485.2" cy="543.1" r="4.6"/><circle cx="1478.8" cy="553.5" r="4.6"/><circle cx="1484.9" cy="537.8" r="4.6"/><circle cx="1483.4" cy="578.6" r="4.6"/><circle cx="1482.6" cy="558.1" r="4.6"/><circle cx="1486.9" cy="543.6" r="4.6"/><circle cx="1483.4" cy="551.2" r="4.6"/><circle cx="1485.3" cy="579.1" r="4.6"/><circle cx="1479.7" cy="558.1" r="4.6"/><circle cx="1477.9" cy="562.9" r="4.6"/><circle cx="1480.3" cy="580.0" r="4.6"/><circle cx="1479.4" cy="581.0" r="4.6"/><circle cx="1479.2" cy="552.6" r="4.6"/><circle cx="1478.5" cy="555.6" r="4.6"/><circle cx="1484.3" cy="530.2" r="4.6"/><circle cx="1479.1" cy="546.9" r="4.6"/><circle cx="1481.7" cy="548.1" r="4.6"/><circle cx="1483.4" cy="555.7" r="4.6"/><circle cx="1480.4" cy="569.6" r="4.6"/><circle cx="1485.7" cy="585.7" r="4.6"/><circle cx="1485.4" cy="533.4" r="4.6"/><circle cx="1485.0" cy="584.3" r="4.6"/><circle cx="1485.5" cy="598.4" r="4.6"/><circle cx="1476.7" cy="628.0" r="4.6"/><circle cx="1486.8" cy="590.7" r="4.6"/><circle cx="1479.2" cy="629.4" r="4.6"/><circle cx="1478.0" cy="596.1" r="4.6"/><circle cx="1484.9" cy="604.0" r="4.6"/><circle cx="1478.1" cy="610.8" r="4.6"/><circle cx="1485.1" cy="644.2" r="4.6"/><circle cx="1486.1" cy="600.1" r="4.6"/><circle cx="1484.9" cy="626.5" r="4.6"/><circle cx="1486.2" cy="630.1" r="4.6"/><circle cx="1485.6" cy="637.3" r="4.6"/><circle cx="1484.0" cy="601.8" r="4.6"/><circle cx="1484.5" cy="621.8" r="4.6"/><circle cx="1486.0" cy="616.3" r="4.6"/><circle cx="1479.4" cy="623.3" r="4.6"/><circle cx="1478.0" cy="604.1" r="4.6"/><circle cx="1477.1" cy="619.6" r="4.6"/><circle cx="1478.1" cy="618.0" r="4.6"/><circle cx="1481.9" cy="619.5" r="4.6"/><circle cx="1485.8" cy="622.4" r="4.6"/><circle cx="1485.6" cy="590.4" r="4.6"/><circle cx="1482.6" cy="618.1" r="4.6"/><circle cx="1485.6" cy="629.9" r="4.6"/><circle cx="1481.0" cy="612.5" r="4.6"/><circle cx="1477.3" cy="647.6" r="4.6"/><circle cx="1483.4" cy="628.2" r="4.6"/><circle cx="1483.1" cy="591.7" r="4.6"/><circle cx="1486.6" cy="631.0" r="4.6"/><circle cx="1487.1" cy="609.8" r="4.6"/><circle cx="1481.7" cy="620.6" r="4.6"/><circle cx="1476.9" cy="643.9" r="4.6"/><circle cx="1483.3" cy="633.1" r="4.6"/><circle cx="1485.8" cy="610.3" r="4.6"/><circle cx="1481.6" cy="612.0" r="4.6"/><circle cx="1484.8" cy="621.5" r="4.6"/><circle cx="1481.2" cy="602.6" r="4.6"/><circle cx="1482.5" cy="615.3" r="4.6"/><circle cx="1479.7" cy="639.6" r="4.6"/><circle cx="1480.9" cy="639.7" r="4.6"/><circle cx="1479.4" cy="620.2" r="4.6"/><circle cx="1487.0" cy="620.4" r="4.6"/><circle cx="1485.1" cy="629.3" r="4.6"/><circle cx="1479.9" cy="609.9" r="4.6"/><circle cx="1482.8" cy="608.0" r="4.6"/><circle cx="1485.0" cy="628.1" r="4.6"/><circle cx="1484.3" cy="592.4" r="4.6"/><circle cx="1482.4" cy="643.1" r="4.6"/><circle cx="1479.7" cy="593.0" r="4.6"/><circle cx="1478.6" cy="590.4" r="4.6"/><circle cx="1483.1" cy="645.3" r="4.6"/><circle cx="1485.0" cy="629.5" r="4.6"/><circle cx="1483.1" cy="644.6" r="4.6"/><circle cx="1483.3" cy="627.0" r="4.6"/><circle cx="1482.9" cy="631.8" r="4.6"/><circle cx="1478.8" cy="630.9" r="4.6"/><circle cx="1481.4" cy="630.0" r="4.6"/><circle cx="1477.6" cy="635.8" r="4.6"/><circle cx="1476.9" cy="600.9" r="4.6"/><circle cx="1486.4" cy="636.5" r="4.6"/><circle cx="1480.5" cy="629.3" r="4.6"/><circle cx="1485.0" cy="639.4" r="4.6"/><circle cx="1479.3" cy="623.7" r="4.6"/><circle cx="1481.1" cy="608.1" r="4.6"/><circle cx="1481.2" cy="609.1" r="4.6"/><circle cx="1486.6" cy="628.5" r="4.6"/><circle cx="1482.6" cy="593.3" r="4.6"/><circle cx="1477.8" cy="592.4" r="4.6"/><circle cx="1482.7" cy="638.6" r="4.6"/><circle cx="1481.3" cy="645.1" r="4.6"/><circle cx="1480.7" cy="590.8" r="4.6"/><circle cx="1486.6" cy="625.5" r="4.6"/><circle cx="1481.6" cy="648.8" r="4.6"/><circle cx="1477.6" cy="614.7" r="4.6"/><circle cx="1478.8" cy="628.7" r="4.6"/><circle cx="1476.7" cy="599.1" r="4.6"/><circle cx="1483.9" cy="590.3" r="4.6"/><circle cx="1486.9" cy="597.3" r="4.6"/><circle cx="1485.9" cy="595.3" r="4.6"/><circle cx="1476.7" cy="597.7" r="4.6"/><circle cx="1479.1" cy="633.2" r="4.6"/><circle cx="1478.5" cy="634.0" r="4.6"/><circle cx="1484.9" cy="593.0" r="4.6"/><circle cx="1485.7" cy="632.8" r="4.6"/><circle cx="1477.4" cy="633.8" r="4.6"/><circle cx="1484.2" cy="627.7" r="4.6"/><circle cx="1486.6" cy="617.6" r="4.6"/><circle cx="1486.9" cy="605.2" r="4.6"/><circle cx="1476.6" cy="633.0" r="4.6"/><circle cx="1483.5" cy="590.9" r="4.6"/><circle cx="1477.4" cy="639.0" r="4.6"/><circle cx="1484.4" cy="608.7" r="4.6"/><circle cx="1485.8" cy="600.0" r="4.6"/><circle cx="1477.1" cy="619.2" r="4.6"/><circle cx="1482.7" cy="612.1" r="4.6"/><circle cx="1483.8" cy="616.3" r="4.6"/><circle cx="1485.1" cy="598.7" r="4.6"/><circle cx="1483.5" cy="611.8" r="4.6"/><circle cx="1481.0" cy="627.8" r="4.6"/><circle cx="1485.0" cy="613.1" r="4.6"/><circle cx="1485.0" cy="646.7" r="4.6"/><circle cx="1479.7" cy="624.0" r="4.6"/><circle cx="1487.0" cy="593.6" r="4.6"/><circle cx="1485.4" cy="632.2" r="4.6"/><circle cx="1483.0" cy="609.9" r="4.6"/><circle cx="1485.5" cy="648.6" r="4.6"/><circle cx="1479.8" cy="626.1" r="4.6"/><circle cx="1486.1" cy="615.7" r="4.6"/><circle cx="1483.9" cy="612.6" r="4.6"/><circle cx="1486.2" cy="626.1" r="4.6"/><circle cx="1479.6" cy="638.4" r="4.6"/><circle cx="1479.3" cy="590.1" r="4.6"/><circle cx="1482.8" cy="615.4" r="4.6"/><circle cx="1486.1" cy="639.0" r="4.6"/><circle cx="1485.5" cy="592.5" r="4.6"/><circle cx="1485.9" cy="638.7" r="4.6"/><circle cx="1479.5" cy="624.3" r="4.6"/><circle cx="1485.2" cy="641.1" r="4.6"/><circle cx="1486.4" cy="631.1" r="4.6"/><circle cx="1477.4" cy="610.8" r="4.6"/><circle cx="1485.1" cy="623.2" r="4.6"/><circle cx="1484.6" cy="602.0" r="4.6"/><circle cx="1479.0" cy="645.9" r="4.6"/><circle cx="1483.8" cy="626.4" r="4.6"/><circle cx="1478.7" cy="617.9" r="4.6"/><circle cx="1484.6" cy="605.3" r="4.6"/><circle cx="1481.5" cy="637.5" r="4.6"/><circle cx="1485.2" cy="595.3" r="4.6"/><circle cx="1479.0" cy="636.3" r="4.6"/><circle cx="1486.2" cy="624.8" r="4.6"/><circle cx="1482.1" cy="643.1" r="4.6"/><circle cx="1482.9" cy="618.6" r="4.6"/><circle cx="1478.6" cy="601.3" r="4.6"/><circle cx="1484.1" cy="600.8" r="4.6"/><circle cx="1482.6" cy="611.8" r="4.6"/><circle cx="1482.1" cy="614.1" r="4.6"/><circle cx="1477.0" cy="598.9" r="4.6"/><circle cx="1480.5" cy="649.8" r="4.6"/><circle cx="1483.3" cy="596.4" r="4.6"/><circle cx="1478.2" cy="637.2" r="4.6"/><circle cx="1480.2" cy="625.8" r="4.6"/><circle cx="1476.7" cy="621.2" r="4.6"/><circle cx="1487.2" cy="592.0" r="4.6"/><circle cx="1481.8" cy="642.0" r="4.6"/><circle cx="1479.3" cy="624.0" r="4.6"/><circle cx="1481.1" cy="636.8" r="4.6"/><circle cx="1484.8" cy="646.8" r="4.6"/><circle cx="1486.9" cy="639.1" r="4.6"/><circle cx="1476.9" cy="605.2" r="4.6"/><circle cx="1478.5" cy="602.1" r="4.6"/><circle cx="1477.1" cy="595.0" r="4.6"/><circle cx="1485.9" cy="623.4" r="4.6"/><circle cx="1486.7" cy="617.5" r="4.6"/><circle cx="1477.2" cy="644.6" r="4.6"/><circle cx="1480.8" cy="625.9" r="4.6"/><circle cx="1486.9" cy="597.2" r="4.6"/><circle cx="1482.6" cy="605.4" r="4.6"/><circle cx="1486.8" cy="628.4" r="4.6"/><circle cx="1480.7" cy="630.2" r="4.6"/><circle cx="1478.2" cy="616.9" r="4.6"/><circle cx="1487.2" cy="701.2" r="4.6"/><circle cx="1476.9" cy="661.8" r="4.6"/><circle cx="1480.3" cy="663.6" r="4.6"/><circle cx="1486.3" cy="697.8" r="4.6"/><circle cx="1477.0" cy="694.4" r="4.6"/><circle cx="1484.2" cy="691.7" r="4.6"/><circle cx="1487.1" cy="684.3" r="4.6"/><circle cx="1478.1" cy="653.0" r="4.6"/><circle cx="1486.6" cy="690.0" r="4.6"/><circle cx="1479.7" cy="685.9" r="4.6"/><circle cx="1484.7" cy="681.3" r="4.6"/><circle cx="1480.0" cy="655.6" r="4.6"/><circle cx="1477.8" cy="663.6" r="4.6"/><circle cx="1478.3" cy="675.5" r="4.6"/><circle cx="1478.0" cy="662.6" r="4.6"/><circle cx="1476.6" cy="685.9" r="4.6"/><circle cx="1478.6" cy="688.0" r="4.6"/><circle cx="1486.5" cy="651.9" r="4.6"/><circle cx="1486.6" cy="661.7" r="4.6"/><circle cx="1486.1" cy="695.9" r="4.6"/><circle cx="1481.3" cy="657.4" r="4.6"/><circle cx="1486.5" cy="655.1" r="4.6"/><circle cx="1483.3" cy="694.6" r="4.6"/><circle cx="1480.2" cy="674.0" r="4.6"/><circle cx="1481.7" cy="693.6" r="4.6"/><circle cx="1478.0" cy="683.3" r="4.6"/><circle cx="1477.1" cy="661.7" r="4.6"/><circle cx="1482.5" cy="687.8" r="4.6"/><circle cx="1485.9" cy="657.7" r="4.6"/><circle cx="1480.9" cy="664.1" r="4.6"/><circle cx="1479.4" cy="658.3" r="4.6"/><circle cx="1480.1" cy="694.5" r="4.6"/><circle cx="1481.8" cy="658.9" r="4.6"/><circle cx="1486.3" cy="666.9" r="4.6"/><circle cx="1487.1" cy="656.1" r="4.6"/><circle cx="1486.2" cy="653.0" r="4.6"/><circle cx="1478.8" cy="685.4" r="4.6"/><circle cx="1479.6" cy="675.3" r="4.6"/><circle cx="1478.7" cy="663.7" r="4.6"/><circle cx="1487.2" cy="669.3" r="4.6"/><circle cx="1486.5" cy="702.9" r="4.6"/><circle cx="1479.6" cy="655.2" r="4.6"/><circle cx="1477.1" cy="697.5" r="4.6"/><circle cx="1479.7" cy="688.5" r="4.6"/><circle cx="1476.7" cy="701.9" r="4.6"/><circle cx="1480.2" cy="692.8" r="4.6"/><circle cx="1476.5" cy="657.4" r="4.6"/><circle cx="1482.2" cy="694.1" r="4.6"/><circle cx="1481.2" cy="659.8" r="4.6"/><circle cx="1478.9" cy="698.3" r="4.6"/><circle cx="1478.0" cy="680.3" r="4.6"/><circle cx="1484.8" cy="659.5" r="4.6"/><circle cx="1478.6" cy="687.7" r="4.6"/><circle cx="1477.4" cy="654.2" r="4.6"/><circle cx="1481.9" cy="682.3" r="4.6"/><circle cx="1478.7" cy="664.5" r="4.6"/><circle cx="1484.1" cy="682.5" r="4.6"/><circle cx="1482.8" cy="693.0" r="4.6"/><circle cx="1477.2" cy="660.7" r="4.6"/><circle cx="1480.9" cy="688.8" r="4.6"/><circle cx="1477.1" cy="688.2" r="4.6"/><circle cx="1480.1" cy="693.0" r="4.6"/><circle cx="1485.8" cy="694.6" r="4.6"/><circle cx="1476.7" cy="676.1" r="4.6"/><circle cx="1481.6" cy="698.2" r="4.6"/><circle cx="1479.4" cy="696.2" r="4.6"/><circle cx="1485.5" cy="659.9" r="4.6"/><circle cx="1478.3" cy="669.5" r="4.6"/><circle cx="1482.9" cy="669.7" r="4.6"/><circle cx="1482.1" cy="650.2" r="4.6"/><circle cx="1482.1" cy="673.6" r="4.6"/><circle cx="1484.2" cy="656.4" r="4.6"/><circle cx="1485.8" cy="693.3" r="4.6"/><circle cx="1484.2" cy="667.0" r="4.6"/><circle cx="1484.6" cy="670.2" r="4.6"/><circle cx="1485.9" cy="653.2" r="4.6"/><circle cx="1481.8" cy="700.6" r="4.6"/><circle cx="1482.2" cy="677.2" r="4.6"/><circle cx="1476.7" cy="678.5" r="4.6"/><circle cx="1478.9" cy="701.3" r="4.6"/><circle cx="1477.6" cy="659.7" r="4.6"/><circle cx="1485.3" cy="663.3" r="4.6"/><circle cx="1477.5" cy="651.6" r="4.6"/><circle cx="1478.6" cy="687.0" r="4.6"/><circle cx="1483.0" cy="650.9" r="4.6"/><circle cx="1482.1" cy="680.6" r="4.6"/><circle cx="1477.6" cy="687.2" r="4.6"/><circle cx="1484.2" cy="696.1" r="4.6"/><circle cx="1477.8" cy="652.4" r="4.6"/><circle cx="1481.9" cy="676.2" r="4.6"/><circle cx="1477.8" cy="664.8" r="4.6"/><circle cx="1478.0" cy="671.5" r="4.6"/><circle cx="1485.8" cy="681.4" r="4.6"/><circle cx="1482.7" cy="657.8" r="4.6"/><circle cx="1478.3" cy="689.6" r="4.6"/><circle cx="1486.6" cy="693.8" r="4.6"/><circle cx="1481.0" cy="670.6" r="4.6"/><circle cx="1482.2" cy="694.5" r="4.6"/><circle cx="1486.7" cy="671.0" r="4.6"/><circle cx="1480.2" cy="691.2" r="4.6"/><circle cx="1480.1" cy="662.7" r="4.6"/><circle cx="1487.1" cy="673.1" r="4.6"/><circle cx="1486.4" cy="692.6" r="4.6"/><circle cx="1485.7" cy="693.2" r="4.6"/><circle cx="1482.1" cy="652.8" r="4.6"/><circle cx="1486.6" cy="700.8" r="4.6"/><circle cx="1481.1" cy="663.2" r="4.6"/><circle cx="1480.4" cy="683.5" r="4.6"/><circle cx="1477.2" cy="678.1" r="4.6"/><circle cx="1482.0" cy="673.0" r="4.6"/><circle cx="1478.0" cy="651.1" r="4.6"/><circle cx="1484.9" cy="701.4" r="4.6"/><circle cx="1483.3" cy="699.7" r="4.6"/><circle cx="1486.1" cy="692.9" r="4.6"/><circle cx="1476.9" cy="696.9" r="4.6"/><circle cx="1479.4" cy="684.0" r="4.6"/><circle cx="1479.5" cy="686.0" r="4.6"/><circle cx="1486.5" cy="678.7" r="4.6"/><circle cx="1479.2" cy="682.9" r="4.6"/><circle cx="1481.2" cy="677.6" r="4.6"/><circle cx="1479.6" cy="700.4" r="4.6"/><circle cx="1483.5" cy="666.2" r="4.6"/><circle cx="1482.9" cy="656.4" r="4.6"/><circle cx="1482.0" cy="700.7" r="4.6"/><circle cx="1481.5" cy="664.2" r="4.6"/><circle cx="1478.1" cy="678.3" r="4.6"/><circle cx="1477.9" cy="656.6" r="4.6"/><circle cx="1480.9" cy="665.6" r="4.6"/><circle cx="1479.1" cy="665.3" r="4.6"/><circle cx="1482.4" cy="654.7" r="4.6"/><circle cx="1483.1" cy="694.5" r="4.6"/><circle cx="1483.5" cy="680.2" r="4.6"/><circle cx="1484.2" cy="660.7" r="4.6"/><circle cx="1482.4" cy="674.4" r="4.6"/><circle cx="1481.6" cy="682.5" r="4.6"/><circle cx="1479.1" cy="666.5" r="4.6"/><circle cx="1482.0" cy="661.7" r="4.6"/><circle cx="1482.8" cy="670.3" r="4.6"/><circle cx="1480.3" cy="650.6" r="4.6"/><circle cx="1479.1" cy="695.7" r="4.6"/><circle cx="1481.8" cy="679.5" r="4.6"/><circle cx="1487.2" cy="665.1" r="4.6"/><circle cx="1484.8" cy="665.7" r="4.6"/><circle cx="1477.2" cy="658.4" r="4.6"/><circle cx="1481.3" cy="696.2" r="4.6"/><circle cx="1480.7" cy="653.3" r="4.6"/><circle cx="1484.4" cy="673.3" r="4.6"/><circle cx="1478.9" cy="655.8" r="4.6"/><circle cx="1484.5" cy="700.8" r="4.6"/><circle cx="1480.1" cy="658.2" r="4.6"/><circle cx="1483.8" cy="668.7" r="4.6"/><circle cx="1485.7" cy="682.7" r="4.6"/><circle cx="1482.1" cy="693.5" r="4.6"/><circle cx="1484.5" cy="689.2" r="4.6"/><circle cx="1481.6" cy="690.3" r="4.6"/><circle cx="1484.2" cy="691.6" r="4.6"/><circle cx="1477.9" cy="698.5" r="4.6"/><circle cx="1476.5" cy="696.2" r="4.6"/><circle cx="1482.8" cy="690.6" r="4.6"/><circle cx="1486.9" cy="676.4" r="4.6"/><circle cx="1481.0" cy="680.3" r="4.6"/><circle cx="1485.9" cy="691.5" r="4.6"/><circle cx="1480.6" cy="682.2" r="4.6"/><circle cx="1481.4" cy="674.0" r="4.6"/><circle cx="1479.7" cy="688.3" r="4.6"/><circle cx="1482.5" cy="670.7" r="4.6"/><circle cx="1480.0" cy="670.4" r="4.6"/><circle cx="1485.7" cy="691.7" r="4.6"/><circle cx="1481.3" cy="676.5" r="4.6"/><circle cx="1479.8" cy="659.8" r="4.6"/><circle cx="1482.7" cy="657.7" r="4.6"/><circle cx="1477.4" cy="680.8" r="4.6"/><circle cx="1480.0" cy="698.8" r="4.6"/><circle cx="1485.6" cy="694.7" r="4.6"/><circle cx="1478.7" cy="700.8" r="4.6"/><circle cx="1486.3" cy="672.6" r="4.6"/><circle cx="1477.0" cy="650.6" r="4.6"/><circle cx="1481.9" cy="679.9" r="4.6"/><circle cx="1484.9" cy="698.8" r="4.6"/><circle cx="1487.3" cy="678.5" r="4.6"/><circle cx="1482.1" cy="677.4" r="4.6"/><circle cx="1480.7" cy="686.3" r="4.6"/><circle cx="1482.9" cy="669.0" r="4.6"/><circle cx="1486.7" cy="668.6" r="4.6"/><circle cx="1482.2" cy="685.9" r="4.6"/><circle cx="1480.5" cy="655.2" r="4.6"/><circle cx="1482.6" cy="671.2" r="4.6"/><circle cx="1486.0" cy="680.4" r="4.6"/><circle cx="1481.8" cy="701.1" r="4.6"/><circle cx="1483.2" cy="673.3" r="4.6"/><circle cx="1480.2" cy="702.8" r="4.6"/><circle cx="1485.3" cy="678.1" r="4.6"/><circle cx="1479.9" cy="659.0" r="4.6"/><circle cx="1485.4" cy="701.9" r="4.6"/><circle cx="1477.7" cy="677.2" r="4.6"/><circle cx="1484.0" cy="697.4" r="4.6"/><circle cx="1487.2" cy="693.5" r="4.6"/><circle cx="1481.0" cy="697.1" r="4.6"/><circle cx="1479.6" cy="658.3" r="4.6"/><circle cx="1482.0" cy="677.1" r="4.6"/><circle cx="1478.5" cy="660.0" r="4.6"/><circle cx="1483.0" cy="683.4" r="4.6"/><circle cx="1487.2" cy="668.7" r="4.6"/><circle cx="1477.0" cy="683.7" r="4.6"/><circle cx="1485.0" cy="671.8" r="4.6"/><circle cx="1484.0" cy="666.3" r="4.6"/><circle cx="1479.8" cy="650.2" r="4.6"/><circle cx="1482.8" cy="694.6" r="4.6"/><circle cx="1478.6" cy="685.4" r="4.6"/><circle cx="1482.5" cy="676.4" r="4.6"/><circle cx="1483.5" cy="664.1" r="4.6"/><circle cx="1487.3" cy="678.2" r="4.6"/><circle cx="1480.9" cy="680.4" r="4.6"/><circle cx="1478.2" cy="656.4" r="4.6"/><circle cx="1477.7" cy="690.3" r="4.6"/><circle cx="1478.3" cy="655.3" r="4.6"/><circle cx="1485.4" cy="677.7" r="4.6"/><circle cx="1485.2" cy="682.5" r="4.6"/><circle cx="1476.6" cy="653.3" r="4.6"/><circle cx="1480.0" cy="690.8" r="4.6"/><circle cx="1480.3" cy="687.9" r="4.6"/><circle cx="1479.4" cy="659.0" r="4.6"/><circle cx="1486.3" cy="655.3" r="4.6"/><circle cx="1480.3" cy="680.9" r="4.6"/><circle cx="1480.7" cy="673.8" r="4.6"/><circle cx="1486.1" cy="652.9" r="4.6"/><circle cx="1486.9" cy="680.9" r="4.6"/><circle cx="1483.2" cy="673.3" r="4.6"/><circle cx="1477.0" cy="663.2" r="4.6"/><circle cx="1485.7" cy="699.3" r="4.6"/><circle cx="1486.2" cy="666.7" r="4.6"/><circle cx="1479.8" cy="693.2" r="4.6"/><circle cx="1486.9" cy="681.9" r="4.6"/><circle cx="1486.8" cy="676.3" r="4.6"/><circle cx="1480.7" cy="662.9" r="4.6"/><circle cx="1478.9" cy="688.1" r="4.6"/><circle cx="1486.0" cy="666.4" r="4.6"/><circle cx="1485.1" cy="675.7" r="4.6"/><circle cx="1478.4" cy="662.9" r="4.6"/><circle cx="1478.5" cy="669.0" r="4.6"/><circle cx="1479.6" cy="701.5" r="4.6"/><circle cx="1477.7" cy="679.8" r="4.6"/><circle cx="1480.7" cy="678.3" r="4.6"/><circle cx="1477.2" cy="671.4" r="4.6"/><circle cx="1485.4" cy="656.5" r="4.6"/><circle cx="1479.1" cy="668.6" r="4.6"/><circle cx="1479.6" cy="660.1" r="4.6"/><circle cx="1476.9" cy="662.6" r="4.6"/><circle cx="1480.2" cy="685.2" r="4.6"/><circle cx="1484.1" cy="658.3" r="4.6"/><circle cx="1479.4" cy="654.9" r="4.6"/><circle cx="1477.9" cy="694.3" r="4.6"/><circle cx="1485.5" cy="673.5" r="4.6"/><circle cx="1478.2" cy="692.7" r="4.6"/><circle cx="1484.3" cy="668.7" r="4.6"/><circle cx="1486.9" cy="670.0" r="4.6"/><circle cx="1486.8" cy="661.0" r="4.6"/><circle cx="1479.0" cy="676.8" r="4.6"/><circle cx="1477.9" cy="674.0" r="4.6"/><circle cx="1479.3" cy="687.4" r="4.6"/><circle cx="1482.8" cy="697.7" r="4.6"/><circle cx="1479.2" cy="669.5" r="4.6"/><circle cx="1478.8" cy="682.2" r="4.6"/><circle cx="1477.8" cy="696.2" r="4.6"/><circle cx="1482.4" cy="677.2" r="4.6"/><circle cx="1484.8" cy="664.3" r="4.6"/><circle cx="1483.6" cy="670.4" r="4.6"/><circle cx="1479.9" cy="680.1" r="4.6"/><circle cx="1477.4" cy="670.7" r="4.6"/><circle cx="1485.7" cy="659.4" r="4.6"/><circle cx="1483.7" cy="667.0" r="4.6"/><circle cx="1482.6" cy="655.8" r="4.6"/><circle cx="1481.9" cy="669.2" r="4.6"/><circle cx="1477.2" cy="665.7" r="4.6"/><circle cx="1478.9" cy="666.5" r="4.6"/><circle cx="1484.2" cy="656.7" r="4.6"/><circle cx="1480.9" cy="665.0" r="4.6"/><circle cx="1484.9" cy="698.2" r="4.6"/><circle cx="1485.8" cy="696.8" r="4.6"/><circle cx="1479.5" cy="657.0" r="4.6"/><circle cx="1483.8" cy="651.6" r="4.6"/><circle cx="1480.3" cy="685.2" r="4.6"/><circle cx="1483.6" cy="671.9" r="4.6"/><circle cx="1479.2" cy="687.1" r="4.6"/><circle cx="1480.3" cy="694.9" r="4.6"/><circle cx="1478.5" cy="683.3" r="4.6"/><circle cx="1486.4" cy="656.1" r="4.6"/><circle cx="1484.2" cy="688.9" r="4.6"/><circle cx="1476.9" cy="652.1" r="4.6"/><circle cx="1478.6" cy="658.6" r="4.6"/><circle cx="1480.6" cy="666.1" r="4.6"/><circle cx="1479.9" cy="652.1" r="4.6"/><circle cx="1478.4" cy="683.8" r="4.6"/><circle cx="1482.7" cy="694.5" r="4.6"/><circle cx="1479.3" cy="688.0" r="4.6"/><circle cx="1483.9" cy="673.1" r="4.6"/><circle cx="1476.5" cy="668.5" r="4.6"/><circle cx="1484.9" cy="694.2" r="4.6"/><circle cx="1477.0" cy="665.2" r="4.6"/><circle cx="1483.1" cy="695.3" r="4.6"/><circle cx="1479.1" cy="704.8" r="4.6"/><circle cx="1485.0" cy="707.3" r="4.6"/><circle cx="1486.4" cy="711.2" r="4.6"/><circle cx="1477.4" cy="732.2" r="4.6"/><circle cx="1480.8" cy="730.1" r="4.6"/><circle cx="1485.5" cy="732.2" r="4.6"/><circle cx="1477.5" cy="714.0" r="4.6"/><circle cx="1481.1" cy="739.9" r="4.6"/><circle cx="1484.0" cy="739.3" r="4.6"/><circle cx="1485.5" cy="731.8" r="4.6"/><circle cx="1481.4" cy="727.5" r="4.6"/><circle cx="1484.0" cy="705.1" r="4.6"/><circle cx="1482.0" cy="719.7" r="4.6"/><circle cx="1477.9" cy="739.2" r="4.6"/><circle cx="1477.0" cy="732.7" r="4.6"/><circle cx="1485.2" cy="730.4" r="4.6"/><circle cx="1482.4" cy="713.2" r="4.6"/><circle cx="1483.4" cy="740.8" r="4.6"/><circle cx="1479.2" cy="724.2" r="4.6"/><circle cx="1480.4" cy="705.3" r="4.6"/><circle cx="1478.7" cy="719.1" r="4.6"/><circle cx="1478.0" cy="715.1" r="4.6"/><circle cx="1483.7" cy="730.6" r="4.6"/><circle cx="1479.1" cy="712.3" r="4.6"/><circle cx="1481.3" cy="723.1" r="4.6"/><circle cx="1480.3" cy="739.5" r="4.6"/><circle cx="1486.1" cy="714.7" r="4.6"/><circle cx="1482.6" cy="708.5" r="4.6"/><circle cx="1485.3" cy="716.0" r="4.6"/><circle cx="1484.7" cy="724.4" r="4.6"/><circle cx="1483.7" cy="709.6" r="4.6"/><circle cx="1481.5" cy="726.3" r="4.6"/><circle cx="1485.5" cy="732.9" r="4.6"/><circle cx="1479.6" cy="707.5" r="4.6"/><circle cx="1478.7" cy="717.1" r="4.6"/><circle cx="1479.5" cy="705.4" r="4.6"/><circle cx="1484.1" cy="710.7" r="4.6"/><circle cx="1477.7" cy="720.5" r="4.6"/><circle cx="1481.6" cy="715.7" r="4.6"/><circle cx="1478.3" cy="717.2" r="4.6"/><circle cx="1476.6" cy="705.8" r="4.6"/><circle cx="1484.6" cy="741.7" r="4.6"/><circle cx="1484.2" cy="706.3" r="4.6"/><circle cx="1482.6" cy="741.2" r="4.6"/><circle cx="1481.8" cy="707.2" r="4.6"/><circle cx="1478.5" cy="719.9" r="4.6"/><circle cx="1476.6" cy="724.2" r="4.6"/><circle cx="1483.5" cy="738.9" r="4.6"/><circle cx="1486.6" cy="727.5" r="4.6"/><circle cx="1479.2" cy="728.5" r="4.6"/><circle cx="1478.0" cy="712.6" r="4.6"/><circle cx="1484.9" cy="704.1" r="4.6"/><circle cx="1479.7" cy="735.7" r="4.6"/><circle cx="1483.4" cy="710.2" r="4.6"/><circle cx="1486.5" cy="736.0" r="4.6"/><circle cx="1485.0" cy="709.6" r="4.6"/><circle cx="1484.5" cy="735.4" r="4.6"/><circle cx="1478.5" cy="715.7" r="4.6"/><circle cx="1480.0" cy="735.2" r="4.6"/><circle cx="1482.5" cy="717.4" r="4.6"/><circle cx="1485.5" cy="717.4" r="4.6"/><circle cx="1476.9" cy="712.3" r="4.6"/><circle cx="1483.3" cy="725.1" r="4.6"/><circle cx="1484.1" cy="735.0" r="4.6"/><circle cx="1486.7" cy="738.3" r="4.6"/><circle cx="1481.9" cy="722.3" r="4.6"/><circle cx="1479.7" cy="709.1" r="4.6"/><circle cx="1477.4" cy="725.7" r="4.6"/><circle cx="1478.3" cy="729.8" r="4.6"/><circle cx="1487.0" cy="720.3" r="4.6"/><circle cx="1476.9" cy="706.5" r="4.6"/><circle cx="1478.6" cy="720.1" r="4.6"/><circle cx="1476.5" cy="731.2" r="4.6"/><circle cx="1485.7" cy="735.8" r="4.6"/><circle cx="1481.1" cy="733.7" r="4.6"/><circle cx="1483.6" cy="714.0" r="4.6"/><circle cx="1481.0" cy="723.1" r="4.6"/><circle cx="1481.2" cy="716.2" r="4.6"/><circle cx="1485.4" cy="729.0" r="4.6"/><circle cx="1478.3" cy="738.3" r="4.6"/><circle cx="1481.3" cy="714.5" r="4.6"/><circle cx="1480.3" cy="725.0" r="4.6"/><circle cx="1477.4" cy="710.6" r="4.6"/><circle cx="1481.5" cy="715.6" r="4.6"/><circle cx="1486.3" cy="740.9" r="4.6"/><circle cx="1487.0" cy="736.8" r="4.6"/><circle cx="1483.2" cy="740.5" r="4.6"/><circle cx="1477.1" cy="734.6" r="4.6"/><circle cx="1483.1" cy="729.4" r="4.6"/><circle cx="1482.7" cy="714.6" r="4.6"/><circle cx="1481.7" cy="740.2" r="4.6"/><circle cx="1479.7" cy="728.2" r="4.6"/><circle cx="1486.1" cy="716.4" r="4.6"/><circle cx="1478.5" cy="704.1" r="4.6"/><circle cx="1481.3" cy="729.5" r="4.6"/><circle cx="1483.6" cy="706.3" r="4.6"/><circle cx="1482.8" cy="717.5" r="4.6"/><circle cx="1482.2" cy="719.2" r="4.6"/><circle cx="1480.8" cy="725.0" r="4.6"/><circle cx="1478.4" cy="707.5" r="4.6"/><circle cx="1482.4" cy="737.7" r="4.6"/><circle cx="1485.8" cy="707.4" r="4.6"/><circle cx="1477.5" cy="712.9" r="4.6"/><circle cx="1479.2" cy="723.7" r="4.6"/><circle cx="1482.5" cy="722.1" r="4.6"/><circle cx="1482.7" cy="711.8" r="4.6"/><circle cx="1482.0" cy="707.4" r="4.6"/><circle cx="1477.4" cy="725.9" r="4.6"/><circle cx="1477.3" cy="718.9" r="4.6"/><circle cx="1485.8" cy="720.1" r="4.6"/><circle cx="1484.2" cy="724.5" r="4.6"/><circle cx="1477.7" cy="732.5" r="4.6"/><circle cx="1484.3" cy="741.6" r="4.6"/><circle cx="1485.5" cy="707.0" r="4.6"/><circle cx="1478.3" cy="718.3" r="4.6"/><circle cx="1482.6" cy="740.4" r="4.6"/><circle cx="1478.0" cy="733.2" r="4.6"/><circle cx="1477.1" cy="733.3" r="4.6"/><circle cx="1480.5" cy="712.2" r="4.6"/><circle cx="1482.9" cy="703.6" r="4.6"/><circle cx="1479.7" cy="711.3" r="4.6"/><circle cx="1481.1" cy="730.6" r="4.6"/><circle cx="1483.2" cy="737.7" r="4.6"/><circle cx="1482.6" cy="737.0" r="4.6"/><circle cx="1485.9" cy="738.8" r="4.6"/><circle cx="1484.6" cy="709.6" r="4.6"/><circle cx="1484.7" cy="716.3" r="4.6"/><circle cx="1485.4" cy="729.5" r="4.6"/><circle cx="1480.5" cy="707.8" r="4.6"/><circle cx="1486.7" cy="731.8" r="4.6"/><circle cx="1477.0" cy="731.1" r="4.6"/><circle cx="1477.6" cy="726.5" r="4.6"/><circle cx="1485.2" cy="724.4" r="4.6"/><circle cx="1486.5" cy="707.4" r="4.6"/><circle cx="1479.2" cy="729.3" r="4.6"/><circle cx="1481.3" cy="710.5" r="4.6"/><circle cx="1482.8" cy="735.7" r="4.6"/><circle cx="1476.7" cy="707.4" r="4.6"/><circle cx="1485.1" cy="707.3" r="4.6"/><circle cx="1482.5" cy="710.2" r="4.6"/><circle cx="1483.9" cy="714.3" r="4.6"/><circle cx="1478.1" cy="717.9" r="4.6"/><circle cx="1482.3" cy="737.1" r="4.6"/><circle cx="1485.2" cy="729.9" r="4.6"/><circle cx="1476.6" cy="740.0" r="4.6"/><circle cx="1478.1" cy="716.4" r="4.6"/><circle cx="1485.9" cy="722.6" r="4.6"/><circle cx="1476.9" cy="734.2" r="4.6"/><circle cx="1485.3" cy="710.1" r="4.6"/><circle cx="1480.7" cy="729.5" r="4.6"/><circle cx="1478.2" cy="721.6" r="4.6"/><circle cx="1480.7" cy="736.0" r="4.6"/><circle cx="1483.1" cy="737.0" r="4.6"/><circle cx="1480.1" cy="706.0" r="4.6"/><circle cx="1486.2" cy="711.4" r="4.6"/><circle cx="1477.0" cy="726.0" r="4.6"/><circle cx="1480.4" cy="709.6" r="4.6"/><circle cx="1482.7" cy="721.2" r="4.6"/><circle cx="1480.3" cy="718.1" r="4.6"/><circle cx="1482.8" cy="703.2" r="4.6"/><circle cx="1476.7" cy="716.0" r="4.6"/><circle cx="1487.2" cy="720.9" r="4.6"/><circle cx="1478.1" cy="704.8" r="4.6"/><circle cx="1479.4" cy="729.2" r="4.6"/><circle cx="1481.9" cy="713.7" r="4.6"/><circle cx="1482.6" cy="713.2" r="4.6"/><circle cx="1486.8" cy="723.6" r="4.6"/><circle cx="1476.9" cy="741.7" r="4.6"/><circle cx="1484.8" cy="724.9" r="4.6"/><circle cx="1484.9" cy="737.0" r="4.6"/><circle cx="1483.4" cy="727.7" r="4.6"/><circle cx="1479.5" cy="717.2" r="4.6"/><circle cx="1485.9" cy="734.0" r="4.6"/><circle cx="1483.9" cy="739.6" r="4.6"/><circle cx="1484.7" cy="714.9" r="4.6"/><circle cx="1482.0" cy="731.8" r="4.6"/><circle cx="1480.3" cy="727.8" r="4.6"/><circle cx="1480.9" cy="724.5" r="4.6"/><circle cx="1480.1" cy="705.4" r="4.6"/><circle cx="1487.2" cy="715.6" r="4.6"/><circle cx="1480.5" cy="721.8" r="4.6"/><circle cx="1479.0" cy="712.5" r="4.6"/><circle cx="1478.0" cy="716.6" r="4.6"/><circle cx="1485.9" cy="703.3" r="4.6"/><circle cx="1481.3" cy="720.7" r="4.6"/><circle cx="1479.8" cy="725.2" r="4.6"/><circle cx="1477.2" cy="709.6" r="4.6"/><circle cx="1479.8" cy="714.8" r="4.6"/><circle cx="1482.5" cy="731.3" r="4.6"/><circle cx="1480.2" cy="739.6" r="4.6"/><circle cx="1482.8" cy="738.9" r="4.6"/><circle cx="1478.4" cy="706.1" r="4.6"/><circle cx="1487.2" cy="725.6" r="4.6"/><circle cx="1484.9" cy="716.9" r="4.6"/><circle cx="1485.9" cy="719.7" r="4.6"/><circle cx="1481.7" cy="705.6" r="4.6"/><circle cx="1479.5" cy="738.1" r="4.6"/><circle cx="1476.7" cy="713.0" r="4.6"/><circle cx="1479.4" cy="709.4" r="4.6"/><circle cx="1478.9" cy="730.5" r="4.6"/><circle cx="1478.7" cy="718.6" r="4.6"/><circle cx="1485.8" cy="726.5" r="4.6"/><circle cx="1478.6" cy="728.3" r="4.6"/><circle cx="1486.9" cy="731.6" r="4.6"/><circle cx="1477.4" cy="726.4" r="4.6"/><circle cx="1486.0" cy="734.6" r="4.6"/><circle cx="1478.0" cy="716.3" r="4.6"/><circle cx="1482.3" cy="710.3" r="4.6"/><circle cx="1483.4" cy="737.1" r="4.6"/><circle cx="1478.8" cy="739.0" r="4.6"/><circle cx="1484.6" cy="715.7" r="4.6"/><circle cx="1480.9" cy="728.3" r="4.6"/><circle cx="1480.1" cy="729.5" r="4.6"/><circle cx="1481.0" cy="705.2" r="4.6"/><circle cx="1483.3" cy="704.8" r="4.6"/><circle cx="1481.8" cy="716.0" r="4.6"/><circle cx="1479.3" cy="726.3" r="4.6"/><circle cx="1476.6" cy="721.1" r="4.6"/><circle cx="1482.6" cy="739.1" r="4.6"/><circle cx="1477.1" cy="741.5" r="4.6"/><circle cx="1484.3" cy="726.9" r="4.6"/><circle cx="1477.5" cy="715.8" r="4.6"/><circle cx="1478.0" cy="709.1" r="4.6"/><circle cx="1477.5" cy="732.9" r="4.6"/><circle cx="1481.1" cy="734.7" r="4.6"/><circle cx="1482.9" cy="724.0" r="4.6"/><circle cx="1483.6" cy="724.6" r="4.6"/><circle cx="1480.1" cy="726.5" r="4.6"/><circle cx="1479.3" cy="731.9" r="4.6"/><circle cx="1484.7" cy="730.7" r="4.6"/><circle cx="1479.8" cy="733.3" r="4.6"/><circle cx="1487.1" cy="733.1" r="4.6"/><circle cx="1479.5" cy="720.7" r="4.6"/><circle cx="1486.7" cy="723.4" r="4.6"/><circle cx="1476.6" cy="708.1" r="4.6"/><circle cx="1483.6" cy="721.6" r="4.6"/><circle cx="1480.4" cy="733.2" r="4.6"/><circle cx="1479.0" cy="741.6" r="4.6"/><circle cx="1477.5" cy="732.5" r="4.6"/><circle cx="1477.9" cy="704.1" r="4.6"/><circle cx="1481.9" cy="705.3" r="4.6"/><circle cx="1478.5" cy="724.7" r="4.6"/><circle cx="1480.4" cy="739.7" r="4.6"/><circle cx="1478.4" cy="708.8" r="4.6"/><circle cx="1486.5" cy="731.8" r="4.6"/><circle cx="1476.8" cy="709.3" r="4.6"/><circle cx="1479.1" cy="733.3" r="4.6"/><circle cx="1481.9" cy="741.3" r="4.6"/><circle cx="1480.2" cy="727.8" r="4.6"/><circle cx="1481.5" cy="734.2" r="4.6"/><circle cx="1486.3" cy="715.6" r="4.6"/><circle cx="1484.4" cy="707.2" r="4.6"/><circle cx="1483.5" cy="705.6" r="4.6"/><circle cx="1485.8" cy="718.7" r="4.6"/><circle cx="1482.6" cy="705.3" r="4.6"/><circle cx="1486.4" cy="719.0" r="4.6"/><circle cx="1483.3" cy="739.9" r="4.6"/><circle cx="1479.2" cy="711.7" r="4.6"/><circle cx="1481.2" cy="713.2" r="4.6"/><circle cx="1478.7" cy="712.0" r="4.6"/><circle cx="1483.4" cy="732.6" r="4.6"/><circle cx="1487.2" cy="714.6" r="4.6"/><circle cx="1482.7" cy="711.4" r="4.6"/><circle cx="1485.8" cy="709.1" r="4.6"/><circle cx="1479.4" cy="736.9" r="4.6"/><circle cx="1485.4" cy="732.3" r="4.6"/><circle cx="1480.1" cy="714.0" r="4.6"/><circle cx="1486.1" cy="721.9" r="4.6"/><circle cx="1483.9" cy="709.3" r="4.6"/><circle cx="1481.4" cy="726.3" r="4.6"/><circle cx="1486.0" cy="725.6" r="4.6"/><circle cx="1486.0" cy="711.2" r="4.6"/><circle cx="1484.9" cy="717.1" r="4.6"/><circle cx="1478.5" cy="736.7" r="4.6"/><circle cx="1487.2" cy="736.7" r="4.6"/><circle cx="1476.8" cy="714.6" r="4.6"/><circle cx="1487.0" cy="707.4" r="4.6"/><circle cx="1486.3" cy="703.4" r="4.6"/><circle cx="1484.4" cy="708.9" r="4.6"/><circle cx="1478.3" cy="706.8" r="4.6"/><circle cx="1477.5" cy="729.6" r="4.6"/><circle cx="1486.4" cy="716.2" r="4.6"/><circle cx="1486.0" cy="730.9" r="4.6"/><circle cx="1476.9" cy="741.2" r="4.6"/><circle cx="1485.1" cy="712.1" r="4.6"/><circle cx="1476.9" cy="729.9" r="4.6"/><circle cx="1479.0" cy="722.7" r="4.6"/><circle cx="1477.6" cy="719.8" r="4.6"/><circle cx="1487.2" cy="703.8" r="4.6"/><circle cx="1486.0" cy="715.3" r="4.6"/><circle cx="1481.8" cy="707.7" r="4.6"/><circle cx="1481.1" cy="708.3" r="4.6"/><circle cx="1483.9" cy="710.0" r="4.6"/><circle cx="1484.5" cy="708.8" r="4.6"/><circle cx="1477.7" cy="722.5" r="4.6"/><circle cx="1481.9" cy="716.8" r="4.6"/><circle cx="1480.3" cy="738.8" r="4.6"/><circle cx="1486.9" cy="711.4" r="4.6"/><circle cx="1484.4" cy="737.4" r="4.6"/><circle cx="1478.4" cy="713.6" r="4.6"/><circle cx="1477.2" cy="746.5" r="4.6"/><circle cx="1482.0" cy="742.7" r="4.6"/><circle cx="1482.5" cy="748.9" r="4.6"/><circle cx="1476.6" cy="748.2" r="4.6"/><circle cx="1483.6" cy="753.7" r="4.6"/><circle cx="1482.4" cy="751.2" r="4.6"/><circle cx="1487.1" cy="753.7" r="4.6"/><circle cx="1484.3" cy="756.9" r="4.6"/><circle cx="1479.9" cy="748.8" r="4.6"/><circle cx="1487.0" cy="749.1" r="4.6"/><circle cx="1480.7" cy="748.6" r="4.6"/><circle cx="1478.0" cy="749.0" r="4.6"/><circle cx="1476.6" cy="759.0" r="4.6"/><circle cx="1486.5" cy="752.3" r="4.6"/><circle cx="1483.1" cy="746.3" r="4.6"/><circle cx="1479.1" cy="748.4" r="4.6"/><circle cx="1477.8" cy="745.4" r="4.6"/><circle cx="1485.0" cy="756.3" r="4.6"/><circle cx="1477.0" cy="757.4" r="4.6"/><circle cx="1480.0" cy="753.8" r="4.6"/><circle cx="1482.4" cy="753.0" r="4.6"/><circle cx="1487.0" cy="747.4" r="4.6"/><circle cx="1484.6" cy="742.0" r="4.6"/><circle cx="1482.0" cy="756.5" r="4.6"/><circle cx="1487.2" cy="752.1" r="4.6"/><circle cx="1483.3" cy="746.0" r="4.6"/><circle cx="1480.6" cy="754.6" r="4.6"/><circle cx="1480.8" cy="754.1" r="4.6"/><circle cx="1483.1" cy="750.9" r="4.6"/><circle cx="1480.0" cy="753.5" r="4.6"/><circle cx="1482.4" cy="752.7" r="4.6"/><circle cx="1483.1" cy="745.8" r="4.6"/><circle cx="1486.3" cy="746.5" r="4.6"/><circle cx="1484.3" cy="750.0" r="4.6"/><circle cx="1481.6" cy="750.9" r="4.6"/><circle cx="1478.0" cy="745.8" r="4.6"/><circle cx="1482.2" cy="757.8" r="4.6"/><circle cx="1482.2" cy="750.9" r="4.6"/><circle cx="1479.1" cy="755.8" r="4.6"/><circle cx="1485.4" cy="744.9" r="4.6"/><circle cx="1483.4" cy="749.8" r="4.6"/><circle cx="1486.2" cy="756.1" r="4.6"/><circle cx="1477.0" cy="756.8" r="4.6"/><circle cx="1485.5" cy="748.5" r="4.6"/><circle cx="1477.8" cy="755.9" r="4.6"/><circle cx="1479.2" cy="744.6" r="4.6"/><circle cx="1480.4" cy="743.7" r="4.6"/><circle cx="1482.1" cy="755.7" r="4.6"/><circle cx="1477.5" cy="749.7" r="4.6"/><circle cx="1487.3" cy="748.7" r="4.6"/><circle cx="1481.4" cy="753.8" r="4.6"/><circle cx="1485.1" cy="750.1" r="4.6"/><circle cx="1478.1" cy="754.9" r="4.6"/><circle cx="1480.5" cy="753.6" r="4.6"/><circle cx="1479.1" cy="750.9" r="4.6"/><circle cx="1480.2" cy="748.3" r="4.6"/><circle cx="1476.7" cy="748.5" r="4.6"/><circle cx="1482.7" cy="745.4" r="4.6"/><circle cx="1478.4" cy="743.0" r="4.6"/><circle cx="1479.5" cy="754.2" r="4.6"/><circle cx="1479.1" cy="747.5" r="4.6"/><circle cx="1477.5" cy="756.2" r="4.6"/><circle cx="1485.8" cy="752.8" r="4.6"/><circle cx="1481.1" cy="745.4" r="4.6"/><circle cx="1483.2" cy="755.5" r="4.6"/><circle cx="1477.0" cy="748.3" r="4.6"/><circle cx="1480.5" cy="749.5" r="4.6"/><circle cx="1479.7" cy="754.1" r="4.6"/><circle cx="1483.5" cy="748.9" r="4.6"/><circle cx="1480.3" cy="755.8" r="4.6"/><circle cx="1482.7" cy="748.6" r="4.6"/><circle cx="1478.6" cy="757.7" r="4.6"/><circle cx="1484.2" cy="758.5" r="4.6"/><circle cx="1483.7" cy="748.3" r="4.6"/><circle cx="1477.3" cy="747.6" r="4.6"/><circle cx="1480.6" cy="754.9" r="4.6"/><circle cx="1481.9" cy="750.9" r="4.6"/><circle cx="1484.7" cy="757.3" r="4.6"/><circle cx="1482.9" cy="742.4" r="4.6"/><circle cx="1481.5" cy="749.9" r="4.6"/><circle cx="1481.0" cy="756.3" r="4.6"/><circle cx="1486.1" cy="750.1" r="4.6"/><circle cx="1481.8" cy="749.5" r="4.6"/><circle cx="1485.4" cy="750.7" r="4.6"/><circle cx="1484.5" cy="753.4" r="4.6"/><circle cx="1476.9" cy="748.8" r="4.6"/><circle cx="1482.5" cy="753.6" r="4.6"/><circle cx="1484.8" cy="755.1" r="4.6"/><circle cx="1478.9" cy="744.0" r="4.6"/><circle cx="1485.3" cy="743.3" r="4.6"/><circle cx="1477.5" cy="743.7" r="4.6"/><circle cx="1482.6" cy="754.8" r="4.6"/><circle cx="1483.9" cy="742.9" r="4.6"/><circle cx="1481.7" cy="754.1" r="4.6"/><circle cx="1484.0" cy="742.9" r="4.6"/><circle cx="1482.8" cy="749.1" r="4.6"/><circle cx="1485.3" cy="759.0" r="4.6"/><circle cx="1478.1" cy="756.8" r="4.6"/><circle cx="1482.1" cy="747.7" r="4.6"/><circle cx="1487.2" cy="742.1" r="4.6"/><circle cx="1479.3" cy="746.7" r="4.6"/><circle cx="1479.3" cy="747.3" r="4.6"/><circle cx="1482.5" cy="756.6" r="4.6"/><circle cx="1481.0" cy="750.7" r="4.6"/><circle cx="1479.8" cy="742.9" r="4.6"/><circle cx="1485.2" cy="756.7" r="4.6"/><circle cx="1479.3" cy="756.6" r="4.6"/><circle cx="1477.1" cy="745.4" r="4.6"/><circle cx="1480.5" cy="751.1" r="4.6"/><circle cx="1481.8" cy="749.9" r="4.6"/><circle cx="1480.4" cy="751.9" r="4.6"/><circle cx="1478.7" cy="755.6" r="4.6"/><circle cx="1482.5" cy="757.6" r="4.6"/><circle cx="1479.9" cy="742.9" r="4.6"/><circle cx="1480.9" cy="751.1" r="4.6"/><circle cx="1480.0" cy="751.6" r="4.6"/><circle cx="1485.1" cy="746.7" r="4.6"/><circle cx="1484.2" cy="747.0" r="4.6"/><circle cx="1482.9" cy="755.6" r="4.6"/><circle cx="1486.6" cy="749.7" r="4.6"/><circle cx="1486.0" cy="749.6" r="4.6"/><circle cx="1481.2" cy="743.0" r="4.6"/><circle cx="1477.0" cy="752.9" r="4.6"/><circle cx="1477.3" cy="756.7" r="4.6"/><circle cx="1478.4" cy="752.1" r="4.6"/><circle cx="1482.6" cy="757.7" r="4.6"/><circle cx="1481.9" cy="755.6" r="4.6"/><circle cx="1483.8" cy="753.5" r="4.6"/><circle cx="1478.8" cy="747.0" r="4.6"/><circle cx="1478.1" cy="756.3" r="4.6"/><circle cx="1478.7" cy="757.6" r="4.6"/><circle cx="1477.5" cy="743.7" r="4.6"/><circle cx="1486.8" cy="755.3" r="4.6"/><circle cx="1483.6" cy="749.0" r="4.6"/><circle cx="1486.3" cy="746.4" r="4.6"/><circle cx="1478.2" cy="753.7" r="4.6"/><circle cx="1484.0" cy="743.0" r="4.6"/><circle cx="1485.5" cy="742.7" r="4.6"/><circle cx="1479.0" cy="747.0" r="4.6"/><circle cx="1479.9" cy="751.9" r="4.6"/><circle cx="1478.2" cy="751.5" r="4.6"/><circle cx="1480.0" cy="757.5" r="4.6"/><circle cx="1478.1" cy="756.3" r="4.6"/><circle cx="1487.1" cy="755.6" r="4.6"/><circle cx="1476.9" cy="748.7" r="4.6"/><circle cx="1483.4" cy="748.5" r="4.6"/><circle cx="1482.4" cy="745.8" r="4.6"/><circle cx="1481.5" cy="743.6" r="4.6"/><circle cx="1481.1" cy="754.4" r="4.6"/><circle cx="1477.7" cy="753.5" r="4.6"/><circle cx="1477.8" cy="756.1" r="4.6"/><circle cx="1487.3" cy="757.7" r="4.6"/><circle cx="1482.2" cy="758.0" r="4.6"/><circle cx="1480.3" cy="746.9" r="4.6"/><circle cx="1481.9" cy="754.8" r="4.6"/><circle cx="1477.5" cy="757.8" r="4.6"/><circle cx="1485.8" cy="750.2" r="4.6"/><circle cx="1482.3" cy="752.2" r="4.6"/><circle cx="1478.0" cy="743.5" r="4.6"/><circle cx="1486.1" cy="746.6" r="4.6"/><circle cx="1479.0" cy="756.4" r="4.6"/><circle cx="1476.8" cy="757.7" r="4.6"/><circle cx="1486.9" cy="752.2" r="4.6"/><circle cx="1486.7" cy="747.9" r="4.6"/><circle cx="1477.0" cy="753.2" r="4.6"/><circle cx="1481.4" cy="747.7" r="4.6"/><circle cx="1484.5" cy="746.2" r="4.6"/><circle cx="1485.0" cy="745.0" r="4.6"/><circle cx="1477.2" cy="747.1" r="4.6"/><circle cx="1477.5" cy="751.5" r="4.6"/><circle cx="1485.0" cy="751.4" r="4.6"/><circle cx="1481.5" cy="752.1" r="4.6"/><circle cx="1482.0" cy="742.6" r="4.6"/><circle cx="1483.5" cy="743.7" r="4.6"/><circle cx="1482.7" cy="744.2" r="4.6"/><circle cx="1480.5" cy="748.0" r="4.6"/><circle cx="1478.3" cy="753.3" r="4.6"/><circle cx="1486.7" cy="744.9" r="4.6"/><circle cx="1485.6" cy="747.6" r="4.6"/><circle cx="1481.7" cy="756.8" r="4.6"/><circle cx="1477.5" cy="744.5" r="4.6"/><circle cx="1477.8" cy="756.9" r="4.6"/><circle cx="1482.3" cy="750.4" r="4.6"/><circle cx="1481.6" cy="744.0" r="4.6"/><circle cx="1482.3" cy="744.8" r="4.6"/><circle cx="1480.5" cy="750.6" r="4.6"/><circle cx="1480.9" cy="745.4" r="4.6"/><circle cx="1477.9" cy="745.5" r="4.6"/><circle cx="1485.9" cy="746.1" r="4.6"/><circle cx="1486.1" cy="750.5" r="4.6"/><circle cx="1486.7" cy="742.3" r="4.6"/><circle cx="1485.0" cy="750.3" r="4.6"/><circle cx="1483.9" cy="751.7" r="4.6"/><circle cx="1484.6" cy="745.9" r="4.6"/><circle cx="1479.4" cy="744.6" r="4.6"/><circle cx="1480.7" cy="742.5" r="4.6"/><circle cx="1479.7" cy="750.8" r="4.6"/><circle cx="1477.4" cy="757.1" r="4.6"/><circle cx="1479.0" cy="751.8" r="4.6"/><circle cx="1485.0" cy="752.1" r="4.6"/><circle cx="1477.2" cy="764.4" r="4.6"/><circle cx="1483.0" cy="760.9" r="4.6"/><circle cx="1476.9" cy="766.5" r="4.6"/><circle cx="1484.0" cy="763.7" r="4.6"/><circle cx="1480.2" cy="765.2" r="4.6"/><circle cx="1481.5" cy="765.2" r="4.6"/><circle cx="1476.6" cy="766.0" r="4.6"/><circle cx="1480.9" cy="766.1" r="4.6"/><circle cx="1477.5" cy="762.1" r="4.6"/><circle cx="1484.4" cy="760.9" r="4.6"/><circle cx="1478.1" cy="764.2" r="4.6"/><circle cx="1478.0" cy="761.6" r="4.6"/><circle cx="1478.9" cy="760.5" r="4.6"/><circle cx="1487.0" cy="761.5" r="4.6"/><circle cx="1485.0" cy="766.6" r="4.6"/><circle cx="1481.9" cy="762.6" r="4.6"/><circle cx="1486.3" cy="764.9" r="4.6"/><circle cx="1483.4" cy="764.7" r="4.6"/><circle cx="1483.3" cy="760.5" r="4.6"/><circle cx="1485.0" cy="765.4" r="4.6"/><circle cx="1484.2" cy="759.7" r="4.6"/><circle cx="1478.3" cy="761.7" r="4.6"/><circle cx="1483.8" cy="766.3" r="4.6"/><circle cx="1478.0" cy="764.7" r="4.6"/><circle cx="1486.6" cy="765.3" r="4.6"/><circle cx="1484.5" cy="765.9" r="4.6"/><circle cx="1485.2" cy="765.3" r="4.6"/><circle cx="1481.2" cy="763.5" r="4.6"/><circle cx="1485.0" cy="765.3" r="4.6"/><circle cx="1479.7" cy="765.6" r="4.6"/><circle cx="1482.2" cy="766.3" r="4.6"/><circle cx="1477.8" cy="766.2" r="4.6"/><circle cx="1485.0" cy="766.4" r="4.6"/><circle cx="1485.6" cy="760.9" r="4.6"/><circle cx="1478.6" cy="760.8" r="4.6"/><circle cx="1479.1" cy="762.5" r="4.6"/><circle cx="1486.3" cy="762.7" r="4.6"/><circle cx="1484.2" cy="764.2" r="4.6"/><circle cx="1485.0" cy="762.0" r="4.6"/><circle cx="1483.9" cy="765.0" r="4.6"/><circle cx="1485.4" cy="766.2" r="4.6"/><circle cx="1477.4" cy="762.1" r="4.6"/><circle cx="1485.5" cy="764.0" r="4.6"/><circle cx="1482.9" cy="761.6" r="4.6"/><circle cx="1485.1" cy="765.4" r="4.6"/><circle cx="1481.8" cy="759.0" r="4.6"/><circle cx="1477.7" cy="759.1" r="4.6"/><circle cx="1481.0" cy="765.2" r="4.6"/><circle cx="1481.4" cy="763.6" r="4.6"/><circle cx="1478.8" cy="761.5" r="4.6"/><circle cx="1485.6" cy="761.7" r="4.6"/><circle cx="1479.7" cy="763.7" r="4.6"/><circle cx="1479.4" cy="759.7" r="4.6"/><circle cx="1481.3" cy="764.3" r="4.6"/><circle cx="1485.2" cy="764.0" r="4.6"/><circle cx="1483.9" cy="759.9" r="4.6"/><circle cx="1485.4" cy="759.3" r="4.6"/><circle cx="1479.4" cy="760.4" r="4.6"/><circle cx="1480.4" cy="766.3" r="4.6"/><circle cx="1486.1" cy="760.7" r="4.6"/><circle cx="1486.2" cy="763.6" r="4.6"/><circle cx="1481.9" cy="762.0" r="4.6"/><circle cx="1482.0" cy="766.3" r="4.6"/><circle cx="1478.5" cy="766.5" r="4.6"/><circle cx="1478.3" cy="765.3" r="4.6"/><circle cx="1476.5" cy="763.0" r="4.6"/><circle cx="1486.7" cy="760.3" r="4.6"/><circle cx="1485.2" cy="762.5" r="4.6"/><circle cx="1480.3" cy="760.9" r="4.6"/><circle cx="1482.5" cy="759.8" r="4.6"/><circle cx="1482.0" cy="765.6" r="4.6"/><circle cx="1486.5" cy="761.9" r="4.6"/><circle cx="1483.7" cy="765.8" r="4.6"/><circle cx="1483.2" cy="759.6" r="4.6"/><circle cx="1486.8" cy="762.4" r="4.6"/><circle cx="1483.6" cy="761.7" r="4.6"/><circle cx="1480.6" cy="763.8" r="4.6"/><circle cx="1483.8" cy="763.0" r="4.6"/><circle cx="1481.9" cy="765.9" r="4.6"/><circle cx="1487.0" cy="761.8" r="4.6"/><circle cx="1485.5" cy="759.4" r="4.6"/><circle cx="1482.5" cy="764.2" r="4.6"/><circle cx="1484.6" cy="762.4" r="4.6"/><circle cx="1484.4" cy="765.8" r="4.6"/><circle cx="1476.9" cy="764.7" r="4.6"/><circle cx="1478.0" cy="761.5" r="4.6"/><circle cx="1486.1" cy="766.2" r="4.6"/><circle cx="1482.8" cy="760.1" r="4.6"/><circle cx="1477.0" cy="763.4" r="4.6"/><circle cx="1484.6" cy="762.0" r="4.6"/><circle cx="1479.5" cy="763.9" r="4.6"/><circle cx="1479.6" cy="764.8" r="4.6"/><circle cx="1481.0" cy="763.1" r="4.6"/><circle cx="1483.5" cy="766.4" r="4.6"/><circle cx="1483.8" cy="765.1" r="4.6"/><circle cx="1486.9" cy="761.9" r="4.6"/><circle cx="1484.0" cy="764.4" r="4.6"/><circle cx="1478.2" cy="761.1" r="4.6"/><circle cx="1485.4" cy="763.4" r="4.6"/><circle cx="1480.3" cy="765.0" r="4.6"/><circle cx="1482.1" cy="760.1" r="4.6"/><circle cx="1478.3" cy="765.7" r="4.6"/><circle cx="1478.3" cy="764.6" r="4.6"/><circle cx="1477.1" cy="761.4" r="4.6"/><circle cx="1480.6" cy="761.3" r="4.6"/><circle cx="1486.9" cy="766.3" r="4.6"/><circle cx="1479.8" cy="760.4" r="4.6"/><circle cx="1478.6" cy="766.2" r="4.6"/><circle cx="1481.2" cy="761.4" r="4.6"/><circle cx="1479.3" cy="759.8" r="4.6"/><circle cx="1480.7" cy="762.0" r="4.6"/><circle cx="1479.4" cy="766.3" r="4.6"/><circle cx="1486.3" cy="760.6" r="4.6"/><circle cx="1485.5" cy="762.4" r="4.6"/><circle cx="1484.9" cy="763.8" r="4.6"/><circle cx="1478.1" cy="761.4" r="4.6"/><circle cx="1481.6" cy="764.8" r="4.6"/><circle cx="1483.7" cy="763.2" r="4.6"/><circle cx="1479.5" cy="764.7" r="4.6"/><circle cx="1486.4" cy="761.8" r="4.6"/><circle cx="1479.6" cy="763.0" r="4.6"/><circle cx="1479.3" cy="763.8" r="4.6"/><circle cx="1476.9" cy="764.9" r="4.6"/><circle cx="1482.6" cy="765.3" r="4.6"/><circle cx="1486.7" cy="761.7" r="4.6"/><circle cx="1479.1" cy="761.0" r="4.6"/><circle cx="1482.4" cy="759.5" r="4.6"/><circle cx="1483.8" cy="764.7" r="4.6"/><circle cx="1485.2" cy="762.1" r="4.6"/><circle cx="1479.8" cy="759.8" r="4.6"/><circle cx="1486.9" cy="763.9" r="4.6"/><circle cx="1484.0" cy="763.8" r="4.6"/><circle cx="1480.8" cy="764.9" r="4.6"/><circle cx="1484.5" cy="766.1" r="4.6"/><circle cx="1480.7" cy="761.6" r="4.6"/><circle cx="1480.3" cy="765.1" r="4.6"/><circle cx="1485.9" cy="760.4" r="4.6"/><circle cx="1482.1" cy="763.0" r="4.6"/><circle cx="1486.2" cy="764.1" r="4.6"/><circle cx="1480.2" cy="760.0" r="4.6"/><circle cx="1481.0" cy="759.5" r="4.6"/><circle cx="1485.7" cy="762.8" r="4.6"/><circle cx="1482.7" cy="764.1" r="4.6"/><circle cx="1482.7" cy="762.1" r="4.6"/><circle cx="1485.6" cy="761.1" r="4.6"/><circle cx="1485.6" cy="765.0" r="4.6"/><circle cx="1483.8" cy="760.1" r="4.6"/><circle cx="1481.9" cy="764.7" r="4.6"/><circle cx="1486.2" cy="765.8" r="4.6"/><circle cx="1485.4" cy="764.6" r="4.6"/></g>
<g fill="rgba(122,134,142,0.38)" stroke="rgba(122,134,142,0.45)" stroke-width="1"><circle cx="1590.0" cy="184.7" r="4.6"/><circle cx="1596.0" cy="184.7" r="4.6"/><circle cx="1588.0" cy="199.2" r="4.6"/><circle cx="1597.6" cy="196.5" r="4.6"/><circle cx="1591.0" cy="213.3" r="4.6"/><circle cx="1595.0" cy="224.7" r="4.6"/><circle cx="1596.5" cy="381.0" r="4.6"/><circle cx="1589.0" cy="408.8" r="4.6"/><circle cx="1593.0" cy="408.8" r="4.6"/><circle cx="1596.0" cy="408.8" r="4.6"/><circle cx="1590.0" cy="412.6" r="4.6"/><circle cx="1588.0" cy="443.9" r="4.6"/><circle cx="1596.5" cy="442.3" r="4.6"/><circle cx="1592.7" cy="471.7" r="4.6"/><circle cx="1588.0" cy="443.5" r="4.6"/><circle cx="1596.0" cy="443.5" r="4.6"/><circle cx="1592.7" cy="470.9" r="4.6"/><circle cx="1588.0" cy="493.0" r="4.6"/><circle cx="1588.0" cy="503.6" r="4.6"/><circle cx="1592.0" cy="503.6" r="4.6"/><circle cx="1590.0" cy="515.1" r="4.6"/><circle cx="1592.0" cy="534.2" r="4.6"/><circle cx="1593.0" cy="539.5" r="4.6"/><circle cx="1588.0" cy="560.8" r="4.6"/><circle cx="1595.0" cy="560.8" r="4.6"/><circle cx="1587.0" cy="576.8" r="4.6"/><circle cx="1591.0" cy="576.8" r="4.6"/><circle cx="1596.0" cy="576.8" r="4.6"/><circle cx="1596.1" cy="612.4" r="4.6"/><circle cx="1594.2" cy="586.6" r="4.6"/><circle cx="1593.2" cy="615.2" r="4.6"/><circle cx="1587.3" cy="593.8" r="4.6"/><circle cx="1595.5" cy="610.2" r="4.6"/><circle cx="1588.9" cy="593.7" r="4.6"/><circle cx="1587.6" cy="591.2" r="4.6"/><circle cx="1597.1" cy="613.8" r="4.6"/><circle cx="1590.5" cy="620.1" r="4.6"/><circle cx="1587.4" cy="615.0" r="4.6"/><circle cx="1590.1" cy="621.9" r="4.6"/><circle cx="1593.4" cy="580.2" r="4.6"/><circle cx="1589.6" cy="586.9" r="4.6"/><circle cx="1591.4" cy="583.0" r="4.6"/><circle cx="1595.3" cy="607.7" r="4.6"/><circle cx="1595.5" cy="582.0" r="4.6"/><circle cx="1589.0" cy="585.5" r="4.6"/><circle cx="1590.3" cy="611.5" r="4.6"/><circle cx="1592.7" cy="596.6" r="4.6"/><circle cx="1595.2" cy="590.9" r="4.6"/><circle cx="1595.7" cy="590.4" r="4.6"/><circle cx="1592.4" cy="620.4" r="4.6"/><circle cx="1595.0" cy="631.5" r="4.6"/><circle cx="1592.1" cy="631.4" r="4.6"/><circle cx="1587.3" cy="651.2" r="4.6"/><circle cx="1594.4" cy="661.5" r="4.6"/><circle cx="1590.9" cy="659.2" r="4.6"/><circle cx="1593.0" cy="655.6" r="4.6"/><circle cx="1596.0" cy="641.3" r="4.6"/><circle cx="1595.3" cy="679.8" r="4.6"/><circle cx="1590.2" cy="678.1" r="4.6"/><circle cx="1587.4" cy="679.3" r="4.6"/><circle cx="1588.0" cy="653.9" r="4.6"/><circle cx="1594.0" cy="652.7" r="4.6"/><circle cx="1591.5" cy="665.4" r="4.6"/><circle cx="1588.7" cy="647.1" r="4.6"/><circle cx="1589.7" cy="650.1" r="4.6"/><circle cx="1594.5" cy="639.7" r="4.6"/><circle cx="1591.3" cy="655.8" r="4.6"/><circle cx="1594.2" cy="639.9" r="4.6"/><circle cx="1589.5" cy="639.8" r="4.6"/><circle cx="1594.2" cy="658.0" r="4.6"/><circle cx="1594.7" cy="678.7" r="4.6"/><circle cx="1596.5" cy="677.4" r="4.6"/><circle cx="1594.4" cy="666.1" r="4.6"/><circle cx="1588.8" cy="633.1" r="4.6"/><circle cx="1595.9" cy="630.7" r="4.6"/><circle cx="1593.4" cy="666.1" r="4.6"/><circle cx="1590.4" cy="643.2" r="4.6"/><circle cx="1593.4" cy="638.2" r="4.6"/><circle cx="1589.9" cy="679.6" r="4.6"/><circle cx="1588.5" cy="632.2" r="4.6"/><circle cx="1596.3" cy="647.8" r="4.6"/><circle cx="1591.5" cy="670.2" r="4.6"/><circle cx="1587.8" cy="635.1" r="4.6"/><circle cx="1595.0" cy="637.7" r="4.6"/><circle cx="1597.3" cy="653.6" r="4.6"/><circle cx="1595.2" cy="675.6" r="4.6"/><circle cx="1595.5" cy="653.8" r="4.6"/><circle cx="1587.8" cy="636.4" r="4.6"/><circle cx="1592.1" cy="658.2" r="4.6"/><circle cx="1589.3" cy="640.5" r="4.6"/><circle cx="1596.4" cy="680.9" r="4.6"/><circle cx="1596.8" cy="709.8" r="4.6"/><circle cx="1591.3" cy="721.2" r="4.6"/><circle cx="1590.7" cy="710.8" r="4.6"/><circle cx="1595.7" cy="714.1" r="4.6"/><circle cx="1586.7" cy="685.6" r="4.6"/><circle cx="1592.9" cy="689.0" r="4.6"/><circle cx="1586.7" cy="695.9" r="4.6"/><circle cx="1595.1" cy="714.9" r="4.6"/><circle cx="1587.1" cy="699.5" r="4.6"/><circle cx="1592.4" cy="717.3" r="4.6"/><circle cx="1590.1" cy="683.0" r="4.6"/><circle cx="1596.2" cy="706.2" r="4.6"/><circle cx="1593.5" cy="700.4" r="4.6"/><circle cx="1589.2" cy="688.6" r="4.6"/><circle cx="1590.7" cy="718.0" r="4.6"/><circle cx="1593.0" cy="684.4" r="4.6"/><circle cx="1588.8" cy="685.3" r="4.6"/><circle cx="1592.9" cy="699.2" r="4.6"/><circle cx="1594.2" cy="706.7" r="4.6"/><circle cx="1587.3" cy="698.5" r="4.6"/><circle cx="1587.2" cy="710.4" r="4.6"/><circle cx="1590.9" cy="699.8" r="4.6"/><circle cx="1594.3" cy="708.3" r="4.6"/><circle cx="1593.6" cy="690.1" r="4.6"/><circle cx="1591.7" cy="709.1" r="4.6"/><circle cx="1596.4" cy="686.0" r="4.6"/><circle cx="1587.3" cy="705.2" r="4.6"/><circle cx="1597.3" cy="690.0" r="4.6"/><circle cx="1590.8" cy="689.6" r="4.6"/><circle cx="1595.5" cy="713.1" r="4.6"/><circle cx="1594.6" cy="706.6" r="4.6"/><circle cx="1587.6" cy="681.6" r="4.6"/><circle cx="1595.3" cy="721.0" r="4.6"/><circle cx="1587.1" cy="681.6" r="4.6"/><circle cx="1596.7" cy="690.1" r="4.6"/><circle cx="1593.9" cy="689.2" r="4.6"/><circle cx="1593.5" cy="719.1" r="4.6"/><circle cx="1589.4" cy="718.6" r="4.6"/><circle cx="1586.8" cy="686.4" r="4.6"/><circle cx="1587.7" cy="711.8" r="4.6"/><circle cx="1594.3" cy="720.9" r="4.6"/><circle cx="1595.3" cy="687.9" r="4.6"/><circle cx="1592.1" cy="686.8" r="4.6"/><circle cx="1595.1" cy="684.4" r="4.6"/><circle cx="1596.5" cy="717.4" r="4.6"/><circle cx="1595.8" cy="680.1" r="4.6"/><circle cx="1595.5" cy="703.3" r="4.6"/><circle cx="1593.3" cy="701.1" r="4.6"/><circle cx="1595.2" cy="705.0" r="4.6"/><circle cx="1587.2" cy="683.3" r="4.6"/><circle cx="1589.7" cy="702.9" r="4.6"/><circle cx="1586.7" cy="696.7" r="4.6"/><circle cx="1586.9" cy="711.3" r="4.6"/><circle cx="1595.4" cy="714.8" r="4.6"/><circle cx="1587.9" cy="699.2" r="4.6"/><circle cx="1588.8" cy="707.3" r="4.6"/><circle cx="1587.8" cy="698.0" r="4.6"/><circle cx="1592.5" cy="721.0" r="4.6"/><circle cx="1587.6" cy="694.8" r="4.6"/><circle cx="1595.8" cy="710.7" r="4.6"/><circle cx="1587.7" cy="715.6" r="4.6"/><circle cx="1589.9" cy="695.4" r="4.6"/><circle cx="1588.2" cy="712.0" r="4.6"/><circle cx="1597.2" cy="705.5" r="4.6"/><circle cx="1586.7" cy="747.4" r="4.6"/><circle cx="1587.8" cy="724.5" r="4.6"/><circle cx="1593.1" cy="744.9" r="4.6"/><circle cx="1591.5" cy="739.2" r="4.6"/><circle cx="1593.2" cy="735.4" r="4.6"/><circle cx="1596.5" cy="743.4" r="4.6"/><circle cx="1595.2" cy="746.2" r="4.6"/><circle cx="1595.6" cy="752.1" r="4.6"/><circle cx="1586.9" cy="745.7" r="4.6"/><circle cx="1595.8" cy="744.5" r="4.6"/><circle cx="1596.1" cy="736.2" r="4.6"/><circle cx="1596.8" cy="727.9" r="4.6"/><circle cx="1594.2" cy="736.6" r="4.6"/><circle cx="1589.8" cy="730.3" r="4.6"/><circle cx="1590.1" cy="733.5" r="4.6"/><circle cx="1591.4" cy="725.1" r="4.6"/><circle cx="1593.7" cy="754.4" r="4.6"/><circle cx="1594.8" cy="752.8" r="4.6"/><circle cx="1597.3" cy="749.6" r="4.6"/><circle cx="1589.6" cy="746.8" r="4.6"/><circle cx="1591.1" cy="730.2" r="4.6"/><circle cx="1589.1" cy="722.7" r="4.6"/><circle cx="1596.5" cy="751.2" r="4.6"/><circle cx="1594.9" cy="732.8" r="4.6"/><circle cx="1596.2" cy="747.6" r="4.6"/><circle cx="1592.3" cy="748.2" r="4.6"/><circle cx="1595.5" cy="725.5" r="4.6"/><circle cx="1593.4" cy="732.4" r="4.6"/><circle cx="1592.4" cy="734.1" r="4.6"/><circle cx="1588.3" cy="753.9" r="4.6"/><circle cx="1593.6" cy="739.5" r="4.6"/><circle cx="1596.7" cy="739.8" r="4.6"/><circle cx="1596.5" cy="735.4" r="4.6"/><circle cx="1597.0" cy="744.8" r="4.6"/><circle cx="1588.9" cy="725.0" r="4.6"/><circle cx="1596.4" cy="731.5" r="4.6"/><circle cx="1589.4" cy="722.4" r="4.6"/><circle cx="1597.3" cy="745.6" r="4.6"/><circle cx="1591.3" cy="727.8" r="4.6"/><circle cx="1594.1" cy="744.7" r="4.6"/><circle cx="1594.7" cy="746.6" r="4.6"/><circle cx="1589.4" cy="730.2" r="4.6"/><circle cx="1594.1" cy="722.9" r="4.6"/><circle cx="1589.4" cy="728.9" r="4.6"/><circle cx="1593.5" cy="753.8" r="4.6"/><circle cx="1593.7" cy="741.5" r="4.6"/><circle cx="1594.1" cy="741.7" r="4.6"/><circle cx="1587.3" cy="732.0" r="4.6"/><circle cx="1586.8" cy="724.2" r="4.6"/><circle cx="1588.1" cy="733.9" r="4.6"/><circle cx="1591.9" cy="725.7" r="4.6"/><circle cx="1594.0" cy="754.0" r="4.6"/><circle cx="1594.9" cy="731.0" r="4.6"/><circle cx="1587.7" cy="727.9" r="4.6"/><circle cx="1591.0" cy="732.0" r="4.6"/><circle cx="1591.4" cy="744.8" r="4.6"/><circle cx="1587.6" cy="746.0" r="4.6"/><circle cx="1590.3" cy="752.8" r="4.6"/><circle cx="1586.9" cy="749.5" r="4.6"/><circle cx="1589.0" cy="749.3" r="4.6"/><circle cx="1595.3" cy="750.2" r="4.6"/><circle cx="1589.6" cy="744.1" r="4.6"/><circle cx="1588.7" cy="722.3" r="4.6"/><circle cx="1588.3" cy="751.9" r="4.6"/><circle cx="1592.9" cy="743.8" r="4.6"/><circle cx="1588.6" cy="743.8" r="4.6"/><circle cx="1587.6" cy="726.7" r="4.6"/><circle cx="1590.7" cy="754.4" r="4.6"/><circle cx="1592.8" cy="743.5" r="4.6"/><circle cx="1587.3" cy="729.4" r="4.6"/><circle cx="1595.8" cy="722.5" r="4.6"/><circle cx="1597.0" cy="726.3" r="4.6"/><circle cx="1594.4" cy="734.0" r="4.6"/><circle cx="1595.1" cy="726.6" r="4.6"/><circle cx="1590.6" cy="730.3" r="4.6"/><circle cx="1587.8" cy="739.3" r="4.6"/><circle cx="1595.2" cy="730.2" r="4.6"/><circle cx="1590.7" cy="731.4" r="4.6"/><circle cx="1589.0" cy="747.2" r="4.6"/><circle cx="1589.0" cy="728.4" r="4.6"/><circle cx="1590.5" cy="734.7" r="4.6"/><circle cx="1591.7" cy="743.2" r="4.6"/><circle cx="1587.1" cy="750.7" r="4.6"/><circle cx="1595.6" cy="743.9" r="4.6"/><circle cx="1586.9" cy="729.7" r="4.6"/><circle cx="1587.9" cy="736.5" r="4.6"/><circle cx="1594.3" cy="737.2" r="4.6"/><circle cx="1587.9" cy="725.1" r="4.6"/><circle cx="1588.5" cy="737.8" r="4.6"/><circle cx="1591.4" cy="729.6" r="4.6"/><circle cx="1587.3" cy="725.9" r="4.6"/><circle cx="1591.7" cy="733.9" r="4.6"/><circle cx="1592.6" cy="752.9" r="4.6"/><circle cx="1589.0" cy="724.4" r="4.6"/><circle cx="1592.7" cy="746.6" r="4.6"/><circle cx="1597.0" cy="750.7" r="4.6"/><circle cx="1587.8" cy="750.3" r="4.6"/><circle cx="1592.3" cy="753.1" r="4.6"/><circle cx="1588.4" cy="729.9" r="4.6"/><circle cx="1588.9" cy="750.5" r="4.6"/><circle cx="1589.5" cy="724.7" r="4.6"/><circle cx="1591.6" cy="752.5" r="4.6"/><circle cx="1587.4" cy="746.1" r="4.6"/><circle cx="1590.0" cy="736.9" r="4.6"/><circle cx="1593.8" cy="728.8" r="4.6"/><circle cx="1587.9" cy="733.9" r="4.6"/><circle cx="1591.8" cy="754.5" r="4.6"/><circle cx="1586.7" cy="727.9" r="4.6"/><circle cx="1592.2" cy="743.5" r="4.6"/><circle cx="1591.7" cy="722.8" r="4.6"/><circle cx="1592.4" cy="746.4" r="4.6"/><circle cx="1592.0" cy="729.7" r="4.6"/><circle cx="1593.6" cy="742.0" r="4.6"/><circle cx="1595.3" cy="726.8" r="4.6"/><circle cx="1594.6" cy="753.2" r="4.6"/><circle cx="1590.6" cy="750.3" r="4.6"/><circle cx="1588.6" cy="751.8" r="4.6"/><circle cx="1593.1" cy="729.5" r="4.6"/><circle cx="1587.5" cy="751.8" r="4.6"/><circle cx="1587.0" cy="729.2" r="4.6"/><circle cx="1588.1" cy="736.5" r="4.6"/><circle cx="1594.7" cy="728.3" r="4.6"/><circle cx="1596.7" cy="741.2" r="4.6"/><circle cx="1593.9" cy="735.3" r="4.6"/><circle cx="1596.8" cy="722.4" r="4.6"/><circle cx="1591.8" cy="729.7" r="4.6"/><circle cx="1596.8" cy="738.9" r="4.6"/><circle cx="1597.3" cy="738.2" r="4.6"/><circle cx="1588.9" cy="742.5" r="4.6"/><circle cx="1588.8" cy="749.5" r="4.6"/><circle cx="1591.5" cy="755.0" r="4.6"/><circle cx="1597.0" cy="729.5" r="4.6"/><circle cx="1591.0" cy="732.6" r="4.6"/><circle cx="1593.8" cy="733.3" r="4.6"/><circle cx="1590.6" cy="722.8" r="4.6"/><circle cx="1595.5" cy="727.3" r="4.6"/><circle cx="1593.2" cy="722.0" r="4.6"/><circle cx="1591.5" cy="730.5" r="4.6"/><circle cx="1594.3" cy="740.5" r="4.6"/><circle cx="1589.2" cy="726.5" r="4.6"/><circle cx="1597.0" cy="726.0" r="4.6"/><circle cx="1588.1" cy="726.9" r="4.6"/><circle cx="1592.9" cy="739.2" r="4.6"/><circle cx="1587.2" cy="751.3" r="4.6"/><circle cx="1588.4" cy="729.7" r="4.6"/><circle cx="1591.5" cy="741.3" r="4.6"/><circle cx="1596.2" cy="735.5" r="4.6"/><circle cx="1595.9" cy="743.8" r="4.6"/><circle cx="1589.5" cy="753.6" r="4.6"/><circle cx="1591.0" cy="753.1" r="4.6"/><circle cx="1596.5" cy="755.4" r="4.6"/><circle cx="1586.8" cy="755.8" r="4.6"/><circle cx="1589.7" cy="757.3" r="4.6"/><circle cx="1596.0" cy="762.7" r="4.6"/><circle cx="1592.3" cy="758.4" r="4.6"/><circle cx="1595.3" cy="761.8" r="4.6"/><circle cx="1592.1" cy="760.2" r="4.6"/><circle cx="1589.2" cy="755.9" r="4.6"/><circle cx="1592.9" cy="760.3" r="4.6"/><circle cx="1596.3" cy="761.4" r="4.6"/><circle cx="1588.7" cy="762.7" r="4.6"/><circle cx="1596.3" cy="755.6" r="4.6"/><circle cx="1588.6" cy="759.6" r="4.6"/><circle cx="1589.4" cy="760.5" r="4.6"/><circle cx="1590.6" cy="756.9" r="4.6"/><circle cx="1593.9" cy="759.2" r="4.6"/><circle cx="1594.6" cy="755.6" r="4.6"/><circle cx="1591.7" cy="760.0" r="4.6"/><circle cx="1595.2" cy="760.4" r="4.6"/><circle cx="1591.7" cy="755.1" r="4.6"/><circle cx="1594.3" cy="760.4" r="4.6"/><circle cx="1588.5" cy="760.2" r="4.6"/><circle cx="1595.1" cy="762.7" r="4.6"/><circle cx="1591.3" cy="756.9" r="4.6"/><circle cx="1588.8" cy="762.7" r="4.6"/><circle cx="1597.0" cy="758.3" r="4.6"/><circle cx="1589.1" cy="762.2" r="4.6"/><circle cx="1590.5" cy="760.9" r="4.6"/><circle cx="1594.9" cy="760.3" r="4.6"/><circle cx="1589.0" cy="756.0" r="4.6"/><circle cx="1589.5" cy="756.7" r="4.6"/><circle cx="1588.1" cy="755.3" r="4.6"/><circle cx="1591.1" cy="758.2" r="4.6"/><circle cx="1592.9" cy="755.6" r="4.6"/><circle cx="1592.8" cy="762.5" r="4.6"/><circle cx="1594.2" cy="757.8" r="4.6"/><circle cx="1588.5" cy="758.5" r="4.6"/><circle cx="1586.8" cy="758.9" r="4.6"/><circle cx="1588.3" cy="760.4" r="4.6"/><circle cx="1597.0" cy="758.0" r="4.6"/><circle cx="1595.6" cy="761.1" r="4.6"/><circle cx="1593.5" cy="760.1" r="4.6"/><circle cx="1597.0" cy="760.6" r="4.6"/><circle cx="1594.9" cy="756.6" r="4.6"/><circle cx="1589.4" cy="757.4" r="4.6"/><circle cx="1593.1" cy="761.6" r="4.6"/><circle cx="1596.1" cy="761.8" r="4.6"/><circle cx="1588.7" cy="759.7" r="4.6"/><circle cx="1592.4" cy="755.1" r="4.6"/><circle cx="1589.5" cy="760.8" r="4.6"/><circle cx="1586.7" cy="755.6" r="4.6"/><circle cx="1594.1" cy="756.4" r="4.6"/><circle cx="1589.1" cy="755.0" r="4.6"/><circle cx="1594.3" cy="757.1" r="4.6"/><circle cx="1586.8" cy="762.9" r="4.6"/><circle cx="1596.7" cy="755.9" r="4.6"/><circle cx="1588.2" cy="762.8" r="4.6"/><circle cx="1592.2" cy="757.7" r="4.6"/><circle cx="1591.1" cy="757.6" r="4.6"/><circle cx="1589.4" cy="758.8" r="4.6"/><circle cx="1587.5" cy="755.4" r="4.6"/><circle cx="1587.6" cy="756.3" r="4.6"/><circle cx="1594.1" cy="760.0" r="4.6"/><circle cx="1595.2" cy="757.1" r="4.6"/><circle cx="1590.3" cy="760.8" r="4.6"/><circle cx="1588.6" cy="758.9" r="4.6"/><circle cx="1592.7" cy="762.4" r="4.6"/><circle cx="1588.3" cy="755.4" r="4.6"/><circle cx="1590.8" cy="760.5" r="4.6"/><circle cx="1589.1" cy="760.7" r="4.6"/><circle cx="1595.3" cy="761.4" r="4.6"/><circle cx="1592.9" cy="755.8" r="4.6"/><circle cx="1594.2" cy="756.5" r="4.6"/><circle cx="1595.1" cy="761.4" r="4.6"/><circle cx="1587.6" cy="756.8" r="4.6"/><circle cx="1592.7" cy="760.3" r="4.6"/><circle cx="1588.7" cy="756.1" r="4.6"/><circle cx="1587.8" cy="759.7" r="4.6"/><circle cx="1589.2" cy="760.1" r="4.6"/><circle cx="1591.2" cy="757.1" r="4.6"/><circle cx="1594.4" cy="759.3" r="4.6"/><circle cx="1594.4" cy="755.2" r="4.6"/><circle cx="1589.7" cy="756.8" r="4.6"/><circle cx="1594.1" cy="760.1" r="4.6"/><circle cx="1596.3" cy="759.9" r="4.6"/><circle cx="1590.0" cy="756.6" r="4.6"/><circle cx="1589.4" cy="760.3" r="4.6"/><circle cx="1589.0" cy="756.3" r="4.6"/><circle cx="1595.5" cy="761.2" r="4.6"/><circle cx="1597.0" cy="760.7" r="4.6"/><circle cx="1589.9" cy="761.4" r="4.6"/><circle cx="1594.4" cy="757.5" r="4.6"/><circle cx="1593.2" cy="755.4" r="4.6"/><circle cx="1587.1" cy="755.7" r="4.6"/><circle cx="1588.2" cy="759.1" r="4.6"/><circle cx="1596.1" cy="762.5" r="4.6"/><circle cx="1588.7" cy="758.7" r="4.6"/><circle cx="1592.1" cy="756.0" r="4.6"/><circle cx="1590.5" cy="759.2" r="4.6"/><circle cx="1592.3" cy="760.7" r="4.6"/><circle cx="1587.7" cy="765.8" r="4.6"/><circle cx="1590.8" cy="763.3" r="4.6"/><circle cx="1589.3" cy="764.7" r="4.6"/><circle cx="1589.0" cy="765.4" r="4.6"/><circle cx="1591.8" cy="764.1" r="4.6"/><circle cx="1594.9" cy="765.6" r="4.6"/><circle cx="1591.4" cy="764.3" r="4.6"/><circle cx="1596.7" cy="766.3" r="4.6"/><circle cx="1587.7" cy="765.2" r="4.6"/><circle cx="1593.5" cy="764.6" r="4.6"/><circle cx="1587.0" cy="764.0" r="4.6"/><circle cx="1596.4" cy="766.5" r="4.6"/><circle cx="1591.6" cy="763.5" r="4.6"/><circle cx="1589.8" cy="765.2" r="4.6"/><circle cx="1594.7" cy="763.2" r="4.6"/><circle cx="1591.3" cy="765.8" r="4.6"/><circle cx="1590.9" cy="763.3" r="4.6"/><circle cx="1597.0" cy="763.3" r="4.6"/><circle cx="1589.7" cy="763.2" r="4.6"/><circle cx="1588.1" cy="765.8" r="4.6"/><circle cx="1587.4" cy="763.4" r="4.6"/><circle cx="1592.3" cy="763.6" r="4.6"/><circle cx="1588.4" cy="766.0" r="4.6"/><circle cx="1594.9" cy="763.6" r="4.6"/><circle cx="1590.3" cy="764.5" r="4.6"/><circle cx="1589.2" cy="763.4" r="4.6"/><circle cx="1587.9" cy="766.5" r="4.6"/><circle cx="1594.6" cy="763.9" r="4.6"/><circle cx="1596.4" cy="766.2" r="4.6"/><circle cx="1596.9" cy="764.7" r="4.6"/><circle cx="1589.7" cy="765.2" r="4.6"/><circle cx="1594.3" cy="764.7" r="4.6"/><circle cx="1588.0" cy="765.6" r="4.6"/><circle cx="1596.9" cy="763.7" r="4.6"/><circle cx="1595.4" cy="763.4" r="4.6"/><circle cx="1589.3" cy="764.2" r="4.6"/><circle cx="1591.7" cy="763.9" r="4.6"/><circle cx="1588.2" cy="766.6" r="4.6"/><circle cx="1590.1" cy="766.1" r="4.6"/><circle cx="1594.6" cy="763.6" r="4.6"/><circle cx="1588.6" cy="764.2" r="4.6"/><circle cx="1595.5" cy="764.5" r="4.6"/><circle cx="1592.8" cy="766.1" r="4.6"/><circle cx="1594.8" cy="763.0" r="4.6"/><circle cx="1596.3" cy="765.2" r="4.6"/><circle cx="1590.1" cy="766.4" r="4.6"/><circle cx="1595.4" cy="766.1" r="4.6"/><circle cx="1590.6" cy="764.0" r="4.6"/><circle cx="1590.4" cy="764.3" r="4.6"/><circle cx="1587.8" cy="764.4" r="4.6"/><circle cx="1596.4" cy="763.8" r="4.6"/><circle cx="1593.5" cy="764.5" r="4.6"/><circle cx="1594.8" cy="766.2" r="4.6"/><circle cx="1596.5" cy="763.9" r="4.6"/><circle cx="1597.3" cy="765.9" r="4.6"/><circle cx="1594.8" cy="765.6" r="4.6"/><circle cx="1589.3" cy="765.9" r="4.6"/><circle cx="1590.7" cy="765.4" r="4.6"/><circle cx="1588.0" cy="766.0" r="4.6"/><circle cx="1590.2" cy="764.9" r="4.6"/><circle cx="1590.3" cy="766.0" r="4.6"/><circle cx="1595.8" cy="766.0" r="4.6"/><circle cx="1588.1" cy="766.2" r="4.6"/><circle cx="1594.6" cy="766.4" r="4.6"/><circle cx="1593.6" cy="765.4" r="4.6"/><circle cx="1596.0" cy="763.2" r="4.6"/><circle cx="1591.5" cy="765.0" r="4.6"/><circle cx="1595.1" cy="764.2" r="4.6"/><circle cx="1596.0" cy="765.8" r="4.6"/><circle cx="1590.3" cy="763.8" r="4.6"/><circle cx="1587.7" cy="763.9" r="4.6"/><circle cx="1586.9" cy="764.2" r="4.6"/><circle cx="1589.1" cy="765.9" r="4.6"/><circle cx="1587.3" cy="763.3" r="4.6"/><circle cx="1588.7" cy="765.7" r="4.6"/><circle cx="1590.9" cy="764.7" r="4.6"/><circle cx="1596.9" cy="765.9" r="4.6"/><circle cx="1593.4" cy="764.1" r="4.6"/><circle cx="1591.7" cy="766.2" r="4.6"/><circle cx="1594.5" cy="766.2" r="4.6"/></g>
<g fill="rgba(25,185,230,0.38)" stroke="rgba(25,185,230,0.45)" stroke-width="1"><circle cx="1699.0" cy="260.1" r="4.6"/><circle cx="1702.0" cy="260.1" r="4.6"/><circle cx="1704.7" cy="260.1" r="4.6"/><circle cx="1698.1" cy="388.6" r="4.6"/><circle cx="1699.0" cy="400.0" r="4.6"/><circle cx="1701.0" cy="400.0" r="4.6"/><circle cx="1703.0" cy="400.0" r="4.6"/><circle cx="1705.0" cy="400.0" r="4.6"/><circle cx="1707.0" cy="400.0" r="4.6"/><circle cx="1702.0" cy="400.0" r="4.6"/><circle cx="1704.0" cy="400.4" r="4.6"/><circle cx="1698.1" cy="474.7" r="4.6"/><circle cx="1697.5" cy="509.8" r="4.6"/><circle cx="1706.5" cy="518.5" r="4.6"/><circle cx="1701.9" cy="561.2" r="4.6"/><circle cx="1697.0" cy="599.1" r="4.6"/><circle cx="1706.0" cy="599.1" r="4.6"/><circle cx="1697.0" cy="613.9" r="4.6"/><circle cx="1704.0" cy="613.9" r="4.6"/><circle cx="1697.0" cy="650.4" r="4.6"/><circle cx="1706.0" cy="650.4" r="4.6"/><circle cx="1707.0" cy="649.6" r="4.6"/><circle cx="1699.0" cy="671.7" r="4.6"/><circle cx="1704.0" cy="671.7" r="4.6"/><circle cx="1698.0" cy="679.1" r="4.6"/><circle cx="1698.0" cy="691.9" r="4.6"/><circle cx="1705.0" cy="691.9" r="4.6"/><circle cx="1700.0" cy="700.6" r="4.6"/><circle cx="1698.0" cy="712.6" r="4.6"/><circle cx="1706.0" cy="715.0" r="4.6"/><circle cx="1697.7" cy="723.3" r="4.6"/><circle cx="1705.6" cy="723.8" r="4.6"/><circle cx="1701.8" cy="721.6" r="4.6"/><circle cx="1706.1" cy="718.3" r="4.6"/><circle cx="1698.8" cy="726.3" r="4.6"/><circle cx="1700.5" cy="716.6" r="4.6"/><circle cx="1704.1" cy="735.7" r="4.6"/><circle cx="1706.5" cy="709.0" r="4.6"/><circle cx="1703.0" cy="706.1" r="4.6"/><circle cx="1704.3" cy="718.8" r="4.6"/><circle cx="1697.6" cy="718.7" r="4.6"/><circle cx="1705.5" cy="721.8" r="4.6"/><circle cx="1700.5" cy="730.2" r="4.6"/><circle cx="1704.6" cy="712.1" r="4.6"/><circle cx="1699.0" cy="757.8" r="4.6"/><circle cx="1707.3" cy="760.0" r="4.6"/><circle cx="1700.7" cy="748.3" r="4.6"/><circle cx="1706.6" cy="755.5" r="4.6"/><circle cx="1699.9" cy="742.2" r="4.6"/><circle cx="1704.5" cy="745.6" r="4.6"/><circle cx="1702.5" cy="741.9" r="4.6"/><circle cx="1703.8" cy="750.0" r="4.6"/><circle cx="1706.9" cy="740.7" r="4.6"/><circle cx="1702.7" cy="763.0" r="4.6"/><circle cx="1698.6" cy="757.7" r="4.6"/><circle cx="1702.6" cy="760.7" r="4.6"/><circle cx="1706.0" cy="756.7" r="4.6"/><circle cx="1706.6" cy="746.4" r="4.6"/><circle cx="1696.9" cy="742.4" r="4.6"/><circle cx="1706.3" cy="750.1" r="4.6"/><circle cx="1706.9" cy="760.4" r="4.6"/><circle cx="1706.7" cy="750.3" r="4.6"/><circle cx="1698.2" cy="751.6" r="4.6"/><circle cx="1705.3" cy="753.4" r="4.6"/><circle cx="1703.1" cy="748.0" r="4.6"/><circle cx="1699.6" cy="743.7" r="4.6"/><circle cx="1702.1" cy="747.9" r="4.6"/><circle cx="1697.6" cy="749.2" r="4.6"/><circle cx="1700.3" cy="737.1" r="4.6"/><circle cx="1704.7" cy="755.6" r="4.6"/><circle cx="1699.4" cy="743.2" r="4.6"/><circle cx="1698.5" cy="750.4" r="4.6"/><circle cx="1706.4" cy="752.7" r="4.6"/><circle cx="1702.9" cy="742.3" r="4.6"/><circle cx="1704.7" cy="755.7" r="4.6"/><circle cx="1704.3" cy="755.5" r="4.6"/><circle cx="1705.7" cy="744.1" r="4.6"/><circle cx="1697.2" cy="761.1" r="4.6"/><circle cx="1701.4" cy="761.5" r="4.6"/><circle cx="1697.4" cy="739.2" r="4.6"/><circle cx="1703.9" cy="757.7" r="4.6"/><circle cx="1701.6" cy="740.7" r="4.6"/><circle cx="1707.4" cy="753.6" r="4.6"/><circle cx="1704.9" cy="745.7" r="4.6"/><circle cx="1698.7" cy="743.4" r="4.6"/><circle cx="1701.0" cy="741.2" r="4.6"/><circle cx="1699.9" cy="753.1" r="4.6"/><circle cx="1699.0" cy="741.2" r="4.6"/><circle cx="1698.7" cy="739.2" r="4.6"/><circle cx="1702.0" cy="745.2" r="4.6"/><circle cx="1701.8" cy="741.8" r="4.6"/><circle cx="1707.1" cy="748.4" r="4.6"/><circle cx="1706.8" cy="749.6" r="4.6"/><circle cx="1698.7" cy="749.3" r="4.6"/><circle cx="1698.2" cy="752.4" r="4.6"/><circle cx="1697.4" cy="763.6" r="4.6"/><circle cx="1707.0" cy="765.5" r="4.6"/><circle cx="1700.4" cy="764.5" r="4.6"/><circle cx="1700.4" cy="764.5" r="4.6"/><circle cx="1700.8" cy="765.5" r="4.6"/><circle cx="1705.9" cy="763.5" r="4.6"/><circle cx="1696.7" cy="765.1" r="4.6"/><circle cx="1704.5" cy="766.1" r="4.6"/><circle cx="1703.4" cy="764.3" r="4.6"/><circle cx="1700.9" cy="766.3" r="4.6"/><circle cx="1699.8" cy="764.6" r="4.6"/><circle cx="1703.8" cy="765.0" r="4.6"/><circle cx="1706.9" cy="765.6" r="4.6"/><circle cx="1700.6" cy="763.5" r="4.6"/><circle cx="1705.1" cy="766.1" r="4.6"/><circle cx="1703.9" cy="765.1" r="4.6"/><circle cx="1706.8" cy="764.2" r="4.6"/><circle cx="1700.9" cy="765.0" r="4.6"/><circle cx="1697.8" cy="763.7" r="4.6"/><circle cx="1705.2" cy="766.2" r="4.6"/><circle cx="1700.1" cy="763.1" r="4.6"/><circle cx="1702.0" cy="764.7" r="4.6"/><circle cx="1706.3" cy="764.3" r="4.6"/><circle cx="1702.3" cy="764.3" r="4.6"/><circle cx="1703.5" cy="766.3" r="4.6"/><circle cx="1700.2" cy="764.7" r="4.6"/><circle cx="1703.2" cy="764.4" r="4.6"/><circle cx="1699.4" cy="765.8" r="4.6"/><circle cx="1700.8" cy="764.3" r="4.6"/><circle cx="1706.5" cy="764.3" r="4.6"/><circle cx="1699.6" cy="764.9" r="4.6"/><circle cx="1705.5" cy="764.2" r="4.6"/><circle cx="1704.1" cy="763.6" r="4.6"/><circle cx="1698.7" cy="763.1" r="4.6"/><circle cx="1705.3" cy="763.2" r="4.6"/><circle cx="1699.1" cy="763.5" r="4.6"/><circle cx="1699.4" cy="763.2" r="4.6"/><circle cx="1704.4" cy="765.6" r="4.6"/><circle cx="1706.8" cy="766.3" r="4.6"/><circle cx="1706.6" cy="765.0" r="4.6"/><circle cx="1706.6" cy="763.3" r="4.6"/><circle cx="1698.7" cy="764.6" r="4.6"/><circle cx="1705.9" cy="765.7" r="4.6"/><circle cx="1697.6" cy="764.4" r="4.6"/><circle cx="1704.7" cy="766.1" r="4.6"/><circle cx="1707.1" cy="765.1" r="4.6"/><circle cx="1697.2" cy="763.1" r="4.6"/><circle cx="1696.8" cy="763.4" r="4.6"/><circle cx="1703.4" cy="765.5" r="4.6"/><circle cx="1698.3" cy="763.4" r="4.6"/><circle cx="1703.2" cy="763.7" r="4.6"/><circle cx="1707.1" cy="765.4" r="4.6"/><circle cx="1707.2" cy="764.3" r="4.6"/><circle cx="1700.8" cy="764.6" r="4.6"/><circle cx="1699.1" cy="763.9" r="4.6"/><circle cx="1707.3" cy="766.5" r="4.6"/><circle cx="1698.5" cy="765.5" r="4.6"/><circle cx="1698.2" cy="763.6" r="4.6"/><circle cx="1704.6" cy="764.3" r="4.6"/><circle cx="1702.3" cy="763.2" r="4.6"/></g>
<rect x="1134.7" y="764.0" width="33.0" height="3.0" fill="none" stroke="#333" stroke-width="1.2"/>
<path d="M1134.7 766.0H1167.7" stroke="#333" stroke-width="2"/>
<rect x="1245" y="625.4" width="33.6" height="136.0" fill="none" stroke="#333" stroke-width="1.2"/>
<path d="M1245 737.5H1278.6" stroke="#333" stroke-width="2"/>
<rect x="1355.4" y="683.8" width="33.1" height="80.5" fill="none" stroke="#333" stroke-width="1.2"/>
<path d="M1355.4 750.7H1388.5" stroke="#333" stroke-width="2"/>
<rect x="1465.4" y="703.1" width="33.6" height="56.0" fill="none" stroke="#333" stroke-width="1.2"/>
<path d="M1465.4 742.1H1499" stroke="#333" stroke-width="2"/>
<rect x="1575.6" y="721.6" width="33.4" height="41.5" fill="none" stroke="#333" stroke-width="1.2"/>
<path d="M1575.6 754.8H1609" stroke="#333" stroke-width="2"/>
<rect x="1685.9" y="736.5" width="33.4" height="29.0" fill="none" stroke="#333" stroke-width="1.2"/>
<path d="M1685.9 762.8H1719.3" stroke="#333" stroke-width="2"/>
<path d="M1150.70 125.1 L1150.70 762.5 L1147.20 764.0 L1123.90 764.9 L1123.90 765.5 L1147.20 766.2 L1150.70 766.8 L1151.70 766.8 L1155.20 766.2 L1178.50 765.5 L1178.50 764.9 L1155.20 764.0 L1151.70 762.5 L1151.70 125.1Z" fill="#4a4a4a" stroke="#333" stroke-width="0.95"/>
<path d="M1261.20 126.6 L1261.20 745.0 L1260.70 765.0 L1261.20 766.0 L1262.20 766.0 L1262.70 765.0 L1262.20 745.0 L1262.20 126.6Z" fill="none" stroke="#333" stroke-width="0.95"/>
<path d="M1371.00 138.2 L1371.00 730.0 L1369.30 764.0 L1371.00 765.0 L1372.00 765.0 L1373.70 764.0 L1372.00 730.0 L1372.00 138.2Z" fill="none" stroke="#333" stroke-width="0.95"/>
<path d="M1481.40 119.3 L1481.40 700.0 L1479.30 765.0 L1481.40 766.0 L1482.40 766.0 L1484.50 765.0 L1482.40 700.0 L1482.40 119.3Z" fill="none" stroke="#333" stroke-width="0.95"/>
<path d="M1591.50 184.1 L1591.50 730.0 L1588.70 764.5 L1591.50 765.5 L1592.50 765.5 L1595.30 764.5 L1592.50 730.0 L1592.50 184.1Z" fill="none" stroke="#333" stroke-width="0.95"/>
<path d="M1701.50 259.5 L1701.50 747.0 L1697.60 764.8 L1701.50 765.6 L1702.50 765.6 L1706.40 764.8 L1702.50 747.0 L1702.50 259.5Z" fill="none" stroke="#333" stroke-width="0.95"/>
<circle cx="1150.7" cy="755.8" r="7.3" fill="#8B0000"/>
<circle cx="1261" cy="660.6" r="7.3" fill="#8B0000"/>
<circle cx="1372" cy="700.5" r="7.3" fill="#8B0000"/>
<circle cx="1481.2" cy="713.5" r="7.3" fill="#8B0000"/>
<circle cx="1591.9" cy="724.6" r="7.3" fill="#8B0000"/>
<circle cx="1702.4" cy="721.2" r="7.3" fill="#8B0000"/>
<rect x="1157.9" y="744.1" width="76.3" height="22.6" rx="3" fill="#fff" stroke="#333" stroke-width="1.2"/>
<text x="1161.1" y="758.8" font-size="12" fill="#000" stroke="#000">μ<tspan font-size="8.2" dy="2.2">mean</tspan><tspan dy="-2.2" dx="1.2">=</tspan><tspan dx="1.8">43.62</tspan></text>
<path d="M1161.5 751.9 l3.9 -3.4 l3.9 3.4" stroke="#000" stroke-width="0.9" fill="none"/>
<rect x="1267.8" y="648.7" width="83" height="22.6" rx="3" fill="#fff" stroke="#333" stroke-width="1.2"/>
<text x="1271.0" y="663.4" font-size="12" fill="#000" stroke="#000">μ<tspan font-size="8.2" dy="2.2">mean</tspan><tspan dy="-2.2" dx="1.2">=</tspan><tspan dx="1.8">409.16</tspan></text>
<path d="M1271.4 656.5 l3.9 -3.4 l3.9 3.4" stroke="#000" stroke-width="0.9" fill="none"/>
<rect x="1378.1" y="688.7" width="83.1" height="22.6" rx="3" fill="#fff" stroke="#333" stroke-width="1.2"/>
<text x="1381.3" y="703.4" font-size="12" fill="#000" stroke="#000">μ<tspan font-size="8.2" dy="2.2">mean</tspan><tspan dy="-2.2" dx="1.2">=</tspan><tspan dx="1.8">256.59</tspan></text>
<path d="M1381.7 696.5 l3.9 -3.4 l3.9 3.4" stroke="#000" stroke-width="0.9" fill="none"/>
<rect x="1488.3" y="702.6" width="83.1" height="22.6" rx="3" fill="#fff" stroke="#333" stroke-width="1.2"/>
<text x="1491.5" y="717.3" font-size="12" fill="#000" stroke="#000">μ<tspan font-size="8.2" dy="2.2">mean</tspan><tspan dy="-2.2" dx="1.2">=</tspan><tspan dx="1.8">203.49</tspan></text>
<path d="M1491.9 710.4 l3.9 -3.4 l3.9 3.4" stroke="#000" stroke-width="0.9" fill="none"/>
<rect x="1598.4" y="724.8" width="82.6" height="22.6" rx="3" fill="#fff" stroke="#333" stroke-width="1.2"/>
<text x="1601.6" y="739.5" font-size="12" fill="#000" stroke="#000">μ<tspan font-size="8.2" dy="2.2">mean</tspan><tspan dy="-2.2" dx="1.2">=</tspan><tspan dx="1.8">162.18</tspan></text>
<path d="M1602.0 732.6 l3.9 -3.4 l3.9 3.4" stroke="#000" stroke-width="0.9" fill="none"/>
<rect x="1680.1" y="691.9" width="84.2" height="22.6" rx="3" fill="#fff" stroke="#333" stroke-width="1.2"/>
<text x="1683.3" y="706.6" font-size="12" fill="#000" stroke="#000">μ<tspan font-size="8.2" dy="2.2">mean</tspan><tspan dy="-2.2" dx="1.2">=</tspan><tspan dx="1.8">177.88</tspan></text>
<path d="M1683.7 699.7 l3.9 -3.4 l3.9 3.4" stroke="#000" stroke-width="0.9" fill="none"/>
<path d="M1085.4 87.4V798.5H1768.6" stroke="#333" stroke-width="1.9" fill="none"/>
<text x="1146.3" y="109.2" font-family="'Liberation Serif', 'Times New Roman', serif" font-weight="bold" font-style="italic" font-size="28" stroke="#000">a</text>
<text x="1250.5" y="109.8" font-family="'Liberation Serif', 'Times New Roman', serif" font-weight="bold" font-style="italic" font-size="28" stroke="#000">f</text>
<text x="1365" y="115.3" font-family="'Liberation Serif', 'Times New Roman', serif" font-weight="bold" font-style="italic" font-size="28" stroke="#000">e</text>
<text x="1475" y="97.2" font-family="'Liberation Serif', 'Times New Roman', serif" font-weight="bold" font-style="italic" font-size="28" stroke="#000">d</text>
<text x="1586" y="164.3" font-family="'Liberation Serif', 'Times New Roman', serif" font-weight="bold" font-style="italic" font-size="28" stroke="#000">b</text>
<text x="1693.5" y="238.6" font-family="'Liberation Serif', 'Times New Roman', serif" font-weight="bold" font-style="italic" font-size="28" stroke="#000">c</text>
<text transform="translate(1156.5,812.0) rotate(-45)" text-anchor="end" font-size="11.6" fill="#4d4d4d" stroke="#4d4d4d"><tspan x="0" y="0">Antimicrobial_Medications</tspan><tspan x="0" y="13.6">(n = 977)</tspan></text>
<text transform="translate(1267.0,812.0) rotate(-45)" text-anchor="end" font-size="11.6" fill="#4d4d4d" stroke="#4d4d4d"><tspan x="0" y="0">Hormonal_Medications</tspan><tspan x="0" y="13.6">(n = 319)</tspan></text>
<text transform="translate(1376.8,812.0) rotate(-45)" text-anchor="end" font-size="11.6" fill="#4d4d4d" stroke="#4d4d4d"><tspan x="0" y="0">Immunological_Medications</tspan><tspan x="0" y="13.6">(n = 155)</tspan></text>
<text transform="translate(1487.2,812.0) rotate(-45)" text-anchor="end" font-size="11.6" fill="#4d4d4d" stroke="#4d4d4d"><tspan x="0" y="0">Ocular_Medications</tspan><tspan x="0" y="13.6">(n = 2,465)</tspan></text>
<text transform="translate(1597.3,812.0) rotate(-45)" text-anchor="end" font-size="11.6" fill="#4d4d4d" stroke="#4d4d4d"><tspan x="0" y="0">Oncology_Medications</tspan><tspan x="0" y="13.6">(n = 676)</tspan></text>
<text transform="translate(1707.3,812.0) rotate(-45)" text-anchor="end" font-size="11.6" fill="#4d4d4d" stroke="#4d4d4d"><tspan x="0" y="0">Other_Medications</tspan><tspan x="0" y="13.6">(n = 204)</tspan></text>
</svg></body></html>
